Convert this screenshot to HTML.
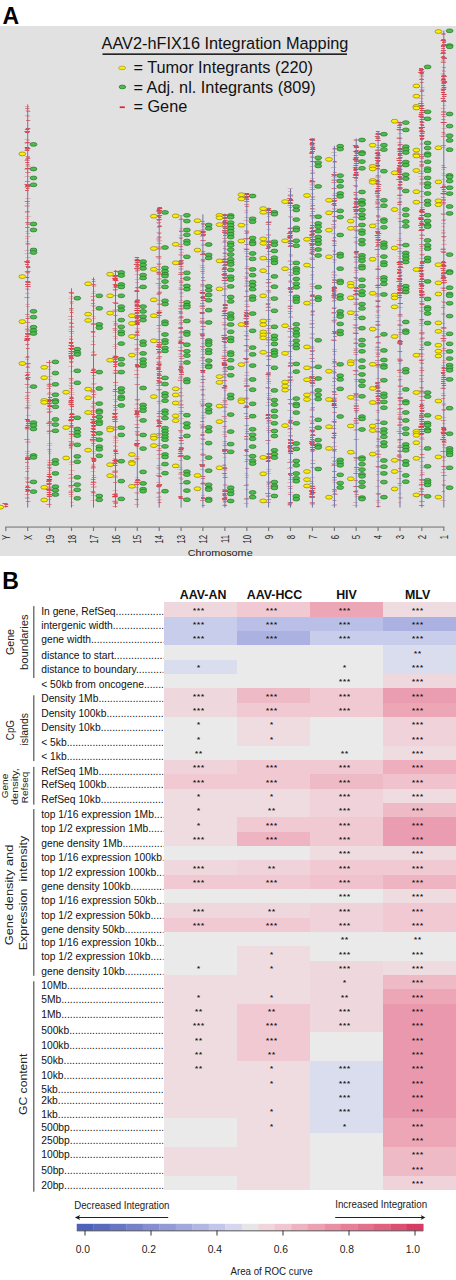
<!DOCTYPE html>
<html><head><meta charset="utf-8"><style>
html,body{margin:0;padding:0;background:#fff;width:456px;height:1280px;overflow:hidden}
svg{display:block}
</style></head><body>
<svg width="456" height="1280" viewBox="0 0 456 1280"><text x="2.6" y="23.6" style="font-family:'Liberation Sans',sans-serif;font-weight:bold;font-size:23px" fill="#000">A</text>
<rect x="0" y="26" width="456" height="530" fill="#e2e1e2"/>
<text x="101.6" y="48.8" style="font-family:'Liberation Sans',sans-serif;font-size:16.3px" fill="#111">AAV2-hFIX16 Integration Mapping</text>
<rect x="102.5" y="53.4" width="244.5" height="1.5" fill="#111"/>
<ellipse cx="122.1" cy="67.9" rx="3.6" ry="1.75" fill="#f8ee00" stroke="#9a8a10" stroke-width="0.6"/>
<text x="133.4" y="73.4" style="font-family:'Liberation Sans',sans-serif;font-size:16.3px" fill="#111">= Tumor Integrants (220)</text>
<ellipse cx="122.4" cy="86.95" rx="3.3" ry="1.9" fill="#4cbb4c" stroke="#2a6e2a" stroke-width="0.7"/>
<text x="133.4" y="92.6" style="font-family:'Liberation Sans',sans-serif;font-size:16.3px" fill="#111">= Adj. nl. Integrants (809)</text>
<rect x="119.7" y="106.4" width="5.1" height="1.7" fill="#e0202e"/>
<text x="133.4" y="112.0" style="font-family:'Liberation Sans',sans-serif;font-size:16.3px" fill="#111">= Gene</text>
<path d="M4.0 504.5h4.5M2.9 506.5h4.6M24.7 106.5h4.7M25.4 108.5h3.3M25.2 110.5h4.7M24.8 115.5h4.9M26.3 116.5h3.4M26.3 120.5h3.7M24.8 129.5h4.2M25.0 132.5h3.8M24.5 139.5h5.0M26.3 140.5h3.3M24.6 142.5h4.7M24.5 143.5h5.3M26.0 148.5h3.8M25.2 149.5h3.4M25.0 149.5h4.6M25.4 158.5h5.5M26.2 164.5h3.9M25.5 164.5h3.8M25.6 165.5h4.1M25.6 166.5h5.3M24.7 168.5h4.6M24.1 169.5h5.6M24.6 176.5h5.4M25.5 185.5h4.6M24.6 187.5h4.7M25.2 198.5h5.3M24.3 201.5h5.0M26.0 203.5h3.8M24.5 205.5h5.4M24.7 206.5h4.8M24.7 212.5h4.8M25.4 216.5h5.4M25.0 218.5h4.0M25.7 222.5h3.6M25.6 223.5h4.2M25.7 224.5h5.2M26.5 224.5h3.3M25.7 227.5h3.5M25.1 231.5h3.8M25.6 233.5h4.3M25.1 236.5h5.5M25.0 238.5h3.6M25.4 241.5h3.6M25.6 244.5h5.1M24.5 250.5h4.9M24.7 253.5h5.4M25.7 257.5h5.1M25.4 271.5h5.4M26.4 273.5h3.3M25.8 281.5h4.9M25.4 288.5h3.4M25.3 289.5h4.9M25.0 293.5h4.5M25.4 304.5h4.5M25.5 306.5h4.4M25.6 316.5h4.4M24.8 318.5h4.3M24.8 322.5h5.4M25.8 322.5h4.7M25.5 326.5h3.3M25.3 328.5h4.0M24.5 329.5h5.0M25.8 329.5h3.7M25.5 330.5h4.2M25.4 331.5h4.7M25.8 335.5h4.7M25.6 338.5h5.1M26.3 344.5h3.4M25.7 348.5h3.5M24.7 357.5h4.8M26.0 357.5h3.3M25.3 359.5h3.6M25.4 363.5h5.6M25.4 364.5h4.3M25.8 367.5h4.3M25.8 367.5h3.6M25.6 375.5h4.2M25.5 387.5h5.1M25.8 395.5h4.2M24.7 396.5h4.3M25.8 400.5h4.0M26.2 402.5h4.1M25.8 405.5h5.0M24.7 407.5h5.0M25.5 407.5h3.7M24.9 408.5h5.4M26.0 415.5h4.6M24.3 419.5h5.4M25.5 419.5h4.4M25.5 426.5h4.2M25.8 427.5h3.9M24.8 428.5h4.9M25.2 429.5h5.4M26.1 441.5h4.3M25.2 442.5h5.4M25.1 451.5h5.2M25.0 453.5h4.3M25.7 455.5h3.5M25.8 456.5h3.8M25.0 466.5h4.7M25.4 468.5h4.6M24.2 477.5h5.3M25.6 478.5h4.2M25.2 479.5h3.4M25.0 481.5h4.7M26.3 482.5h3.5M25.6 485.5h3.7M25.9 491.5h3.4M26.0 494.5h3.9M24.5 494.5h4.8M24.8 497.5h4.9M24.9 498.5h4.9M46.3 362.5h5.6M46.2 366.5h5.2M47.7 369.5h3.4M47.7 376.5h4.6M48.0 379.5h4.2M47.7 383.5h3.7M46.6 384.5h5.2M46.4 385.5h4.8M47.2 386.5h5.5M47.7 386.5h4.1M47.8 392.5h3.7M46.9 393.5h4.5M46.7 394.5h4.8M48.1 397.5h4.0M47.9 400.5h4.0M47.9 400.5h4.2M47.1 401.5h3.7M48.4 402.5h3.4M47.3 404.5h4.0M46.4 408.5h4.7M46.5 409.5h4.8M47.4 411.5h5.1M47.5 411.5h5.0M46.9 422.5h5.5M47.7 422.5h3.8M46.5 423.5h5.4M47.3 425.5h4.5M47.1 430.5h5.6M47.7 431.5h4.6M47.1 433.5h3.4M47.0 443.5h5.5M46.8 445.5h5.0M47.4 449.5h3.2M47.5 449.5h4.1M47.6 451.5h3.8M48.1 453.5h3.3M47.1 460.5h4.6M47.5 470.5h4.6M47.2 472.5h3.4M46.7 474.5h4.2M47.3 476.5h3.8M46.3 479.5h5.1M47.5 486.5h3.2M47.6 488.5h4.1M46.5 488.5h5.4M46.6 494.5h5.5M47.3 495.5h5.4M47.4 499.5h4.0M46.2 504.5h5.6M46.1 504.5h5.3M68.3 292.5h5.1M69.5 296.5h3.8M68.5 298.5h4.4M69.6 301.5h4.6M69.7 302.5h3.2M69.9 303.5h3.8M69.3 309.5h3.6M69.0 310.5h4.7M70.1 312.5h3.4M69.5 316.5h3.3M67.9 316.5h5.5M68.0 319.5h5.6M69.0 323.5h4.1M69.1 326.5h3.8M69.8 326.5h4.3M68.7 327.5h5.6M68.3 329.5h4.8M69.8 333.5h4.1M69.3 336.5h3.7M69.1 338.5h3.6M68.3 342.5h5.3M68.7 342.5h4.9M69.2 342.5h3.6M68.5 348.5h4.9M67.9 351.5h5.4M70.2 352.5h3.4M68.5 355.5h4.4M69.2 356.5h3.3M69.3 356.5h3.9M69.1 359.5h3.6M69.2 362.5h3.9M69.9 362.5h3.3M68.3 366.5h5.5M69.8 371.5h3.7M68.3 378.5h5.3M69.1 378.5h4.2M69.4 379.5h4.0M69.2 380.5h4.2M68.9 382.5h3.8M68.2 385.5h4.9M69.5 386.5h3.4M69.0 388.5h4.6M69.7 390.5h3.8M69.7 392.5h4.7M69.0 394.5h5.5M69.1 396.5h4.2M69.6 400.5h3.5M68.1 401.5h5.5M68.5 401.5h4.8M68.9 403.5h4.1M69.3 405.5h4.5M68.3 409.5h5.5M69.7 414.5h4.0M69.1 417.5h5.5M69.3 419.5h4.4M68.9 420.5h5.0M68.9 420.5h4.0M69.0 421.5h3.4M69.2 433.5h5.2M68.5 434.5h4.8M68.8 434.5h4.9M69.4 436.5h5.4M68.9 438.5h3.5M68.0 441.5h5.6M69.1 441.5h4.5M69.3 442.5h5.1M68.6 445.5h4.4M68.5 445.5h4.6M69.5 446.5h3.7M69.2 448.5h3.4M70.1 461.5h3.7M68.6 462.5h5.1M69.1 464.5h4.8M69.5 470.5h5.3M68.4 474.5h4.9M69.0 474.5h3.5M69.4 477.5h3.9M67.9 478.5h5.5M69.2 481.5h5.1M67.9 486.5h5.4M69.1 487.5h4.1M69.5 490.5h4.1M68.4 491.5h5.4M68.4 494.5h4.8M69.2 494.5h4.0M69.0 496.5h4.2M70.1 502.5h3.7M70.4 505.5h3.5M90.7 284.5h4.1M91.2 285.5h5.3M91.8 286.5h4.1M92.4 291.5h3.4M91.0 293.5h5.3M90.5 296.5h4.2M90.7 296.5h4.7M91.0 299.5h3.6M90.7 305.5h5.0M91.8 306.5h3.6M91.2 310.5h4.2M91.6 316.5h4.0M92.0 318.5h3.9M91.0 324.5h5.0M90.9 324.5h4.2M91.7 331.5h3.9M91.1 336.5h4.6M91.4 341.5h3.4M91.9 351.5h3.3M90.9 352.5h4.3M91.6 368.5h3.4M92.2 371.5h3.7M91.8 372.5h3.6M91.6 378.5h3.5M91.2 383.5h5.5M91.2 384.5h4.5M91.4 387.5h3.9M91.0 389.5h3.5M90.4 390.5h5.1M91.4 390.5h3.7M90.6 392.5h5.5M91.4 394.5h5.3M91.6 396.5h3.6M92.1 397.5h3.9M91.6 401.5h3.3M92.2 402.5h3.5M91.8 405.5h4.4M90.5 406.5h5.0M91.0 407.5h4.3M92.2 408.5h3.3M90.9 410.5h4.5M91.0 410.5h4.1M90.8 411.5h5.0M89.9 412.5h5.5M91.5 419.5h4.1M91.2 420.5h4.7M91.5 421.5h4.4M90.6 423.5h5.3M92.1 429.5h3.3M91.7 431.5h4.5M91.0 431.5h5.4M90.7 431.5h5.0M90.7 441.5h5.0M92.1 443.5h3.5M91.0 445.5h3.5M91.7 451.5h4.5M91.6 453.5h4.5M90.5 457.5h4.3M91.6 458.5h4.8M91.7 461.5h4.1M91.7 464.5h3.6M91.3 465.5h3.6M90.5 468.5h4.9M90.7 471.5h4.6M91.6 475.5h4.1M91.9 479.5h3.9M91.1 481.5h4.6M90.4 482.5h5.1M91.3 486.5h5.4M90.9 487.5h5.5M90.5 491.5h4.9M90.7 491.5h4.5M91.6 492.5h3.5M91.3 493.5h5.3M90.9 495.5h5.0M90.5 500.5h5.1M114.2 270.5h3.3M113.0 275.5h4.2M112.5 275.5h5.0M113.6 277.5h4.0M112.2 278.5h5.3M113.6 278.5h4.3M112.6 279.5h4.8M112.2 280.5h5.3M113.7 280.5h4.0M112.6 287.5h5.1M113.0 290.5h4.4M113.6 303.5h4.9M113.0 309.5h4.3M112.0 310.5h5.5M113.4 311.5h3.3M113.2 311.5h4.5M113.8 315.5h4.5M112.6 321.5h4.4M113.5 324.5h4.6M113.3 325.5h5.5M112.6 328.5h4.2M112.4 328.5h5.0M112.8 329.5h5.1M112.8 330.5h3.6M113.6 330.5h3.8M112.7 332.5h4.7M112.9 336.5h4.6M114.0 338.5h4.0M113.3 344.5h5.2M112.3 346.5h5.6M113.6 348.5h3.8M112.8 355.5h3.9M112.5 357.5h4.1M113.3 358.5h4.6M113.1 358.5h4.4M113.3 366.5h3.9M112.7 370.5h5.4M112.6 372.5h5.5M112.7 373.5h5.2M113.2 385.5h5.1M113.3 391.5h5.4M112.9 395.5h3.9M112.8 399.5h5.6M113.0 407.5h4.4M114.0 407.5h3.6M113.1 409.5h5.1M113.0 410.5h3.9M114.1 418.5h3.9M112.6 426.5h5.1M113.5 429.5h4.3M112.7 429.5h4.6M113.5 430.5h3.3M112.9 436.5h4.7M113.9 437.5h4.3M113.3 438.5h4.8M113.2 440.5h5.5M112.6 442.5h5.6M113.2 445.5h3.3M113.2 446.5h4.9M113.3 449.5h4.8M113.0 455.5h3.3M112.7 458.5h4.3M112.7 460.5h5.0M113.6 463.5h3.3M113.2 463.5h4.1M112.7 470.5h5.2M112.0 471.5h5.6M112.7 471.5h5.3M113.0 475.5h4.3M113.6 476.5h4.0M112.8 477.5h5.1M112.7 490.5h5.1M112.9 496.5h4.8M112.2 497.5h4.9M113.6 500.5h3.8M134.2 259.5h4.6M134.7 260.5h3.4M135.5 260.5h3.9M134.7 261.5h4.3M134.7 262.5h4.1M135.2 263.5h3.2M135.9 264.5h3.5M135.0 267.5h4.8M135.1 269.5h4.1M135.2 271.5h3.3M134.5 274.5h4.7M134.8 279.5h5.2M134.9 282.5h4.3M136.0 287.5h3.8M135.7 288.5h3.9M136.2 299.5h3.4M135.3 299.5h4.1M134.4 303.5h4.6M134.3 308.5h4.8M135.3 310.5h4.0M135.5 310.5h3.7M135.6 312.5h3.4M135.1 315.5h4.9M134.1 316.5h5.1M135.7 316.5h3.8M135.5 319.5h4.7M135.6 321.5h4.1M135.8 324.5h3.9M134.9 324.5h3.6M135.4 328.5h4.9M135.4 330.5h4.1M134.8 331.5h4.4M136.2 331.5h3.3M133.8 334.5h5.3M134.7 339.5h3.6M134.5 344.5h4.1M135.5 348.5h4.6M134.7 348.5h3.9M134.3 349.5h4.7M134.6 350.5h4.1M135.0 352.5h4.1M135.1 354.5h3.7M134.7 359.5h4.6M135.3 366.5h4.9M134.0 370.5h5.4M134.3 377.5h5.3M135.2 400.5h4.2M135.7 403.5h3.3M134.4 404.5h4.7M134.0 408.5h5.6M135.8 411.5h3.7M134.4 413.5h4.0M135.8 415.5h3.4M135.0 417.5h4.0M135.3 420.5h4.3M133.9 424.5h5.5M135.4 424.5h3.3M134.7 427.5h3.4M135.6 432.5h3.5M135.0 433.5h3.3M134.3 445.5h4.3M134.8 446.5h4.6M135.6 446.5h3.5M134.3 456.5h5.1M135.0 459.5h4.2M135.3 477.5h3.3M134.8 479.5h3.6M134.6 481.5h5.0M134.1 482.5h5.3M134.4 487.5h4.4M134.0 492.5h5.0M135.2 493.5h4.3M135.7 499.5h3.3M134.2 504.5h5.1M157.2 208.5h4.4M157.0 210.5h5.1M156.9 211.5h4.3M157.5 215.5h3.2M156.5 222.5h4.8M156.5 222.5h4.3M156.8 223.5h3.5M156.8 227.5h3.5M156.3 232.5h5.4M156.9 236.5h4.2M156.2 238.5h4.6M156.3 239.5h4.1M156.8 240.5h5.5M156.7 241.5h4.1M156.3 243.5h5.2M157.8 243.5h3.2M155.9 246.5h5.1M156.9 247.5h5.0M157.1 249.5h5.1M155.9 257.5h5.1M156.7 258.5h5.2M156.4 263.5h5.3M155.8 266.5h5.2M156.6 269.5h4.0M157.0 269.5h4.2M156.4 271.5h3.9M156.7 272.5h4.4M156.8 272.5h3.9M157.0 273.5h4.3M156.6 273.5h5.1M156.7 278.5h5.3M156.9 279.5h4.5M157.3 285.5h4.6M157.7 287.5h4.1M157.7 288.5h3.5M157.7 291.5h3.9M156.4 293.5h5.4M157.2 300.5h3.5M157.1 303.5h3.5M156.9 310.5h5.4M157.1 311.5h4.3M156.0 312.5h5.6M156.5 328.5h4.4M157.3 331.5h4.0M155.8 353.5h5.2M156.9 357.5h4.8M156.4 361.5h5.1M156.7 362.5h4.8M156.6 362.5h4.2M158.0 366.5h3.2M156.5 368.5h4.7M156.0 369.5h4.8M157.2 381.5h5.2M157.2 390.5h3.2M156.6 401.5h4.1M156.9 401.5h3.9M157.4 403.5h4.2M157.3 411.5h3.7M157.7 411.5h3.9M156.5 413.5h4.5M156.7 423.5h5.6M156.9 425.5h4.7M157.6 434.5h3.4M157.2 435.5h3.9M157.6 443.5h3.8M156.6 445.5h4.9M156.2 450.5h4.3M157.5 450.5h4.5M156.9 450.5h4.9M156.6 454.5h4.6M157.7 454.5h3.9M156.5 458.5h4.1M157.3 465.5h5.0M156.6 465.5h3.6M156.0 467.5h5.5M156.6 468.5h3.6M157.7 469.5h4.1M156.2 473.5h4.5M156.1 482.5h4.5M157.1 487.5h3.4M156.4 492.5h4.0M157.1 492.5h4.2M156.1 493.5h4.5M157.6 496.5h3.8M155.8 497.5h5.1M157.3 499.5h4.9M157.2 500.5h3.7M157.6 502.5h3.4M178.2 215.5h4.7M179.6 218.5h3.5M179.3 228.5h4.6M178.8 230.5h4.0M179.1 231.5h3.3M178.7 235.5h4.5M178.6 237.5h4.8M179.1 244.5h3.9M179.6 246.5h3.6M178.6 246.5h3.9M178.2 246.5h4.5M178.6 249.5h4.7M179.1 249.5h4.3M179.4 252.5h4.6M178.1 254.5h5.0M178.8 255.5h5.0M178.3 264.5h4.1M178.6 268.5h5.0M178.6 269.5h4.8M179.2 273.5h3.6M179.5 274.5h4.4M178.5 280.5h4.7M179.4 281.5h4.3M179.6 284.5h4.0M179.2 285.5h4.5M178.4 287.5h4.4M178.7 288.5h4.3M179.8 292.5h3.8M179.4 293.5h3.8M179.6 296.5h3.8M178.7 300.5h4.3M180.0 305.5h3.4M178.0 305.5h5.2M179.3 306.5h4.4M178.7 306.5h3.2M178.5 309.5h5.4M178.0 313.5h4.6M179.0 313.5h4.4M178.1 317.5h5.6M179.5 317.5h3.4M179.3 317.5h3.4M178.3 318.5h5.0M178.3 320.5h5.6M177.8 323.5h5.1M179.2 324.5h3.6M178.4 332.5h5.0M179.2 332.5h4.8M178.5 333.5h4.5M179.3 336.5h3.2M178.1 337.5h5.0M178.5 337.5h4.6M178.5 339.5h5.1M177.9 342.5h5.0M178.5 342.5h3.7M178.0 347.5h5.5M179.2 351.5h4.4M178.5 353.5h3.6M178.6 354.5h4.6M178.6 361.5h4.9M178.2 361.5h4.8M178.5 363.5h4.7M179.1 364.5h4.9M178.7 365.5h4.3M178.7 376.5h4.3M178.2 377.5h5.2M178.2 378.5h4.1M178.1 388.5h5.1M178.9 395.5h5.2M179.1 396.5h3.4M179.3 400.5h3.9M179.4 401.5h3.3M177.8 405.5h5.3M179.3 407.5h4.6M178.2 407.5h5.5M179.1 411.5h4.7M178.7 411.5h4.3M178.8 413.5h3.6M179.1 413.5h4.5M178.9 418.5h4.7M179.5 423.5h4.0M178.7 431.5h4.1M179.0 432.5h3.6M179.2 435.5h4.0M178.1 449.5h5.4M178.7 449.5h4.1M177.8 449.5h5.0M178.5 450.5h5.2M179.2 453.5h3.8M178.5 460.5h4.3M178.5 467.5h4.0M177.6 469.5h5.5M179.0 472.5h4.4M178.8 472.5h3.3M178.4 473.5h3.9M177.9 474.5h5.0M178.7 477.5h3.4M178.4 478.5h5.1M179.8 479.5h3.3M179.1 483.5h3.5M201.4 226.5h3.5M200.6 229.5h4.7M199.7 230.5h5.0M200.3 231.5h5.2M199.5 232.5h5.0M199.3 233.5h5.5M199.9 236.5h5.0M200.6 240.5h5.5M201.3 244.5h4.4M200.8 245.5h4.7M201.3 252.5h3.3M200.3 260.5h4.8M201.1 260.5h4.1M199.6 265.5h5.1M201.3 267.5h3.9M199.9 267.5h4.3M200.5 269.5h4.7M200.2 271.5h4.5M200.4 271.5h4.4M201.0 273.5h3.9M200.4 284.5h4.1M200.3 284.5h3.6M200.5 285.5h5.4M200.1 286.5h4.0M200.8 292.5h4.3M201.0 297.5h4.0M200.4 305.5h5.1M200.4 305.5h3.5M201.7 306.5h3.4M200.3 308.5h4.6M200.1 308.5h4.9M200.9 312.5h3.4M200.0 318.5h4.7M199.9 318.5h4.4M200.1 320.5h4.5M200.6 322.5h3.6M199.6 322.5h5.4M201.3 322.5h4.3M200.7 323.5h4.5M200.0 323.5h4.6M200.9 326.5h3.9M200.1 329.5h4.5M201.2 329.5h3.3M201.0 336.5h3.2M200.7 336.5h3.4M201.0 343.5h4.4M200.8 347.5h3.6M200.4 351.5h5.4M200.9 354.5h4.9M200.9 358.5h3.7M199.6 360.5h4.7M200.9 363.5h4.2M201.0 363.5h4.9M200.6 365.5h4.7M200.5 367.5h5.6M199.7 379.5h5.5M199.4 386.5h5.5M200.3 389.5h5.5M200.6 389.5h3.6M200.4 390.5h3.6M201.0 395.5h4.5M200.6 399.5h5.1M199.4 401.5h5.5M199.5 403.5h5.5M200.3 404.5h5.1M200.8 405.5h3.4M200.3 406.5h3.6M201.0 412.5h4.7M201.2 415.5h4.1M200.7 417.5h5.4M201.1 418.5h3.4M200.9 421.5h3.8M199.7 424.5h4.9M199.9 425.5h4.5M200.4 428.5h3.7M201.1 432.5h4.3M200.2 434.5h4.3M201.0 435.5h3.7M199.5 438.5h5.3M200.4 443.5h3.2M200.9 444.5h3.2M200.6 449.5h3.7M200.9 453.5h3.5M200.7 455.5h5.5M201.2 455.5h3.3M200.4 460.5h5.6M199.7 469.5h4.7M200.6 476.5h5.1M201.2 482.5h4.1M200.1 483.5h4.0M200.5 483.5h5.5M201.2 483.5h3.8M200.8 483.5h4.2M200.8 484.5h4.5M201.2 495.5h3.8M222.8 215.5h3.4M221.9 217.5h4.3M222.4 222.5h3.9M222.4 222.5h3.4M222.6 238.5h4.7M222.4 238.5h4.0M223.0 240.5h4.7M221.7 242.5h5.1M223.1 246.5h3.9M223.6 249.5h3.9M222.8 252.5h4.4M222.4 253.5h3.9M222.7 256.5h4.8M223.2 258.5h3.2M222.8 258.5h3.5M221.5 268.5h5.4M222.6 273.5h3.2M222.6 280.5h5.4M222.5 286.5h5.1M222.1 288.5h5.4M222.4 289.5h5.3M223.8 300.5h3.2M222.9 304.5h3.2M222.8 305.5h4.8M222.7 310.5h3.5M222.7 315.5h5.0M222.6 318.5h5.2M222.8 318.5h4.9M221.7 322.5h5.0M222.8 325.5h5.2M223.1 328.5h4.5M223.4 329.5h3.8M223.7 334.5h3.3M221.7 337.5h5.5M223.6 338.5h3.4M222.6 342.5h3.3M222.4 345.5h3.3M222.7 347.5h5.2M223.1 350.5h4.1M222.5 350.5h4.3M222.2 352.5h4.9M221.9 355.5h4.8M222.0 365.5h5.5M221.9 368.5h4.7M222.7 369.5h4.8M223.5 370.5h3.8M222.8 373.5h3.5M222.5 376.5h3.6M222.6 377.5h4.2M221.8 380.5h4.6M222.4 388.5h5.0M221.8 388.5h5.0M223.4 390.5h3.8M223.1 398.5h3.3M223.1 401.5h4.1M221.6 402.5h5.4M222.2 406.5h4.4M222.6 411.5h4.5M223.1 418.5h4.1M223.0 428.5h3.4M222.6 431.5h3.6M223.0 432.5h4.6M222.1 434.5h5.0M223.7 441.5h3.4M222.2 441.5h4.7M222.6 443.5h4.5M222.8 449.5h4.3M222.9 450.5h4.3M222.8 457.5h3.9M222.6 464.5h3.6M221.7 467.5h4.9M223.6 468.5h3.8M222.6 468.5h3.8M222.7 469.5h3.9M222.6 470.5h4.4M222.7 473.5h3.9M221.8 473.5h5.3M222.9 475.5h3.5M222.8 477.5h4.3M223.1 484.5h4.4M222.8 485.5h4.9M223.3 496.5h3.8M222.8 497.5h3.9M223.0 499.5h4.2M222.5 500.5h3.7M222.8 502.5h3.9M223.2 504.5h3.3M221.7 505.5h5.6M243.9 194.5h5.0M245.2 194.5h4.2M245.0 197.5h4.0M244.8 201.5h4.8M245.0 206.5h4.3M244.4 210.5h4.0M244.2 212.5h3.9M244.2 217.5h5.6M243.4 220.5h5.4M245.1 224.5h3.2M243.9 230.5h4.7M244.3 231.5h4.5M245.1 231.5h4.1M244.4 238.5h5.5M245.2 239.5h3.3M245.1 244.5h3.6M243.4 248.5h5.4M243.9 249.5h4.5M243.5 251.5h5.6M244.5 253.5h5.0M245.0 259.5h4.5M245.2 266.5h4.3M245.1 272.5h3.6M243.7 276.5h4.6M244.8 277.5h3.4M244.7 280.5h3.8M244.4 283.5h5.5M244.0 285.5h4.9M244.3 286.5h5.2M245.0 290.5h3.3M243.8 296.5h4.4M244.4 296.5h3.5M243.8 296.5h5.2M244.8 300.5h3.6M244.0 301.5h5.4M244.4 304.5h4.4M244.7 310.5h4.8M243.9 310.5h5.2M243.7 316.5h4.8M244.7 319.5h3.6M243.7 322.5h4.4M243.8 322.5h4.7M244.4 323.5h5.0M244.8 324.5h3.9M245.1 324.5h3.6M244.2 326.5h3.6M243.7 331.5h4.5M245.3 333.5h3.7M245.3 336.5h3.5M244.3 339.5h5.2M244.6 339.5h5.2M244.2 345.5h4.0M245.7 346.5h3.3M245.3 349.5h4.0M244.2 350.5h5.0M244.3 351.5h5.1M244.9 361.5h4.3M244.6 372.5h4.7M244.0 375.5h5.3M244.1 378.5h3.8M244.8 379.5h4.7M244.0 380.5h4.2M243.6 381.5h4.8M243.9 383.5h4.5M244.6 385.5h5.5M244.1 385.5h4.5M244.5 385.5h4.9M243.9 386.5h5.6M244.2 386.5h5.5M243.8 386.5h4.2M244.5 390.5h3.5M244.7 397.5h3.6M243.7 398.5h4.6M243.8 398.5h5.6M244.2 399.5h3.9M244.2 402.5h4.0M245.6 418.5h3.6M244.6 418.5h3.2M245.2 425.5h3.5M243.7 425.5h5.4M244.6 429.5h4.5M244.1 438.5h3.7M243.4 455.5h5.5M244.5 455.5h4.3M244.4 473.5h3.5M244.9 475.5h4.1M244.6 477.5h3.9M245.2 484.5h3.7M245.1 489.5h3.7M243.7 499.5h5.4M243.7 503.5h5.0M266.8 209.5h3.7M265.5 210.5h5.1M267.2 210.5h3.8M265.9 213.5h4.4M266.5 214.5h3.9M266.7 216.5h3.5M266.4 221.5h5.3M265.3 222.5h5.2M266.1 222.5h5.2M266.5 229.5h4.1M265.7 234.5h5.2M266.3 235.5h4.8M265.3 237.5h4.8M266.4 240.5h5.0M266.2 246.5h3.7M267.6 251.5h3.3M265.5 254.5h5.3M265.6 259.5h5.4M265.9 261.5h4.1M266.3 266.5h4.5M266.3 266.5h3.8M266.3 279.5h3.8M266.8 279.5h3.4M265.9 279.5h5.1M265.2 282.5h5.0M266.2 283.5h3.5M265.9 286.5h5.1M265.5 290.5h4.6M267.0 290.5h4.3M266.4 291.5h4.6M266.9 292.5h4.4M266.8 297.5h4.5M266.4 299.5h3.3M267.0 300.5h4.4M266.7 304.5h3.3M266.6 306.5h3.9M265.2 319.5h5.2M266.6 319.5h4.8M266.5 321.5h4.5M266.6 325.5h3.6M266.8 325.5h4.5M266.1 330.5h4.6M266.9 332.5h4.0M265.6 337.5h4.9M266.8 337.5h3.4M265.9 340.5h4.4M266.2 342.5h3.5M265.3 345.5h5.5M265.9 355.5h5.5M266.9 356.5h3.9M265.5 356.5h5.3M266.9 359.5h3.5M266.0 359.5h5.5M267.1 373.5h3.7M265.8 374.5h4.5M265.4 374.5h4.8M265.6 374.5h4.9M267.0 375.5h3.9M266.0 376.5h4.4M266.1 378.5h3.3M266.9 379.5h3.8M266.1 383.5h4.9M265.6 388.5h5.5M266.1 393.5h5.4M266.6 395.5h5.0M266.3 397.5h4.5M267.3 398.5h3.8M267.1 399.5h3.7M266.1 402.5h4.9M265.3 405.5h5.3M266.3 415.5h5.3M267.1 420.5h3.6M266.4 421.5h5.1M266.8 422.5h4.9M266.1 423.5h3.8M266.9 426.5h3.7M266.1 428.5h4.5M267.2 432.5h3.6M265.1 440.5h5.5M266.0 440.5h4.8M265.5 440.5h4.6M266.0 443.5h3.7M266.8 453.5h3.6M267.0 457.5h3.3M266.3 469.5h5.1M266.2 471.5h4.5M266.8 473.5h4.1M266.2 481.5h5.4M266.0 484.5h4.6M266.6 486.5h4.9M267.0 488.5h4.3M266.4 493.5h4.4M265.8 495.5h4.9M266.4 502.5h4.2M265.1 502.5h5.4M287.7 188.5h5.1M288.0 191.5h3.8M287.8 194.5h5.0M288.4 196.5h4.6M288.9 199.5h3.9M288.6 200.5h3.7M288.3 203.5h4.8M287.8 203.5h4.5M289.0 210.5h3.9M287.9 216.5h5.2M288.9 217.5h4.0M288.3 227.5h4.0M288.6 231.5h3.6M287.4 235.5h5.1M288.2 235.5h4.8M287.6 238.5h5.3M287.8 242.5h4.0M288.2 243.5h4.3M289.3 243.5h3.2M288.7 254.5h3.8M289.2 255.5h3.9M289.2 256.5h3.4M288.1 260.5h3.8M287.4 261.5h5.5M287.5 272.5h4.6M288.6 274.5h4.4M288.3 280.5h3.8M288.3 282.5h5.3M286.8 288.5h5.5M288.2 295.5h3.9M288.2 300.5h4.6M288.2 305.5h4.4M287.8 306.5h5.5M287.3 306.5h4.7M287.9 306.5h4.1M287.6 308.5h5.2M288.1 311.5h4.1M287.6 311.5h5.4M288.9 316.5h4.0M288.3 317.5h5.1M288.1 326.5h3.7M288.3 329.5h4.1M287.9 336.5h4.4M287.6 337.5h5.2M288.5 343.5h3.9M288.7 346.5h3.8M287.6 351.5h4.3M287.8 351.5h4.5M289.2 359.5h3.7M287.9 365.5h3.8M289.0 365.5h4.0M288.3 372.5h3.7M288.3 373.5h4.6M287.6 376.5h5.2M287.5 376.5h4.7M288.3 377.5h4.9M287.4 379.5h5.2M288.6 379.5h4.1M288.1 380.5h5.6M287.1 380.5h5.2M288.4 382.5h4.2M287.0 385.5h5.2M287.1 399.5h5.6M288.4 403.5h3.6M288.2 403.5h3.3M288.3 403.5h5.5M288.6 404.5h4.5M287.3 410.5h5.5M289.1 417.5h3.9M288.5 419.5h3.4M287.4 420.5h5.5M288.1 426.5h4.0M287.9 428.5h3.7M287.2 429.5h5.4M287.8 432.5h3.9M289.0 435.5h4.0M287.9 435.5h4.4M288.5 436.5h4.4M287.8 445.5h4.7M288.6 446.5h3.4M288.4 450.5h4.9M287.5 451.5h5.1M288.0 451.5h4.6M288.2 451.5h5.4M288.1 452.5h4.0M288.5 459.5h3.2M288.7 461.5h4.0M287.1 468.5h5.4M288.7 477.5h4.5M287.4 482.5h5.0M287.4 486.5h5.0M287.8 486.5h5.5M287.8 492.5h5.6M287.3 502.5h5.2M288.1 502.5h5.1M288.7 503.5h4.0M287.7 503.5h4.3M287.9 503.5h3.7M288.1 504.5h3.5M287.6 505.5h4.3M310.2 143.5h3.9M310.1 145.5h4.1M310.3 145.5h4.6M310.1 146.5h4.7M309.9 149.5h5.5M310.0 156.5h4.6M309.9 157.5h4.1M310.6 157.5h3.4M310.5 161.5h4.8M309.7 166.5h3.5M310.4 170.5h4.0M310.5 172.5h4.7M310.2 173.5h4.9M310.2 173.5h3.3M310.1 178.5h4.6M309.4 182.5h5.5M311.0 183.5h3.8M309.6 184.5h5.4M310.6 185.5h4.1M309.3 187.5h5.5M310.8 193.5h3.3M310.2 196.5h5.1M310.3 199.5h4.5M309.9 199.5h5.5M310.0 201.5h3.7M309.3 203.5h5.2M310.7 205.5h3.9M309.8 206.5h3.5M310.3 208.5h5.0M310.4 209.5h5.0M309.5 213.5h4.4M309.8 215.5h4.8M309.5 216.5h4.3M311.0 217.5h3.9M311.1 218.5h3.4M310.1 222.5h4.0M310.8 225.5h3.4M310.2 225.5h4.8M310.4 236.5h4.8M310.6 239.5h3.7M310.2 241.5h3.7M310.5 241.5h3.6M310.0 247.5h4.7M310.4 248.5h4.3M311.2 249.5h3.4M310.4 250.5h5.1M309.6 252.5h5.2M309.5 252.5h4.0M310.1 257.5h5.2M308.9 258.5h5.5M310.5 267.5h4.7M310.8 271.5h3.4M310.6 274.5h3.6M310.0 275.5h4.1M310.6 277.5h3.5M310.6 279.5h3.3M309.9 283.5h5.5M309.1 284.5h5.0M310.4 286.5h3.6M309.8 286.5h4.6M310.5 288.5h3.7M309.2 291.5h4.6M309.6 299.5h5.0M310.3 303.5h4.7M309.5 305.5h4.1M310.7 310.5h4.4M310.4 311.5h3.6M310.4 312.5h3.8M310.5 315.5h3.7M309.6 320.5h5.2M309.4 323.5h4.6M310.3 323.5h4.8M309.4 324.5h4.2M310.7 327.5h3.7M309.1 327.5h5.4M309.7 333.5h5.0M310.9 334.5h3.6M309.7 337.5h4.4M309.8 338.5h4.9M310.0 346.5h4.1M310.4 347.5h3.8M309.4 348.5h5.2M310.8 351.5h3.9M309.8 358.5h3.7M309.3 358.5h5.5M310.2 358.5h4.4M309.9 366.5h4.3M309.7 367.5h4.3M309.8 368.5h3.7M310.0 371.5h4.0M311.1 374.5h3.7M310.1 380.5h4.2M309.6 381.5h5.4M310.4 385.5h4.8M310.4 386.5h3.7M310.2 391.5h3.7M310.1 393.5h5.2M309.1 399.5h5.4M310.9 403.5h3.7M310.8 408.5h3.2M309.4 409.5h5.4M309.8 410.5h5.0M309.6 417.5h5.1M309.1 420.5h5.3M310.9 421.5h3.6M310.2 422.5h3.4M310.3 423.5h4.4M309.4 427.5h5.0M308.9 427.5h5.3M309.8 429.5h4.8M309.1 431.5h5.0M310.3 432.5h4.2M311.0 440.5h3.7M310.2 444.5h3.4M310.1 460.5h5.2M310.1 463.5h5.3M310.9 463.5h4.2M310.1 477.5h4.6M309.4 485.5h5.3M309.8 487.5h3.4M310.0 488.5h5.2M310.5 490.5h3.8M309.4 491.5h4.3M309.3 503.5h5.6M311.2 503.5h3.4M310.1 504.5h4.9M332.2 148.5h3.6M332.5 149.5h3.5M331.4 152.5h5.3M331.9 155.5h5.3M332.4 162.5h4.7M331.1 167.5h5.3M331.3 174.5h5.0M331.4 174.5h4.7M331.6 174.5h5.5M331.7 174.5h5.1M332.6 175.5h3.3M332.5 175.5h3.5M331.1 176.5h4.9M333.1 177.5h3.8M331.5 179.5h5.5M332.0 180.5h5.6M331.2 180.5h5.4M332.4 188.5h4.8M332.4 193.5h4.3M332.5 195.5h4.8M331.9 195.5h5.0M333.1 203.5h3.4M331.8 205.5h5.1M332.0 208.5h5.4M332.5 209.5h3.4M333.2 216.5h3.2M331.7 226.5h4.9M331.4 227.5h4.6M332.2 228.5h3.5M331.2 233.5h4.9M332.3 238.5h3.2M331.7 240.5h4.6M332.3 243.5h4.8M332.3 245.5h4.2M331.9 245.5h4.2M332.6 250.5h3.4M332.3 251.5h3.7M332.9 254.5h3.9M332.2 259.5h4.4M333.1 260.5h3.5M332.5 262.5h3.4M332.3 271.5h3.4M331.4 272.5h4.4M331.5 274.5h5.0M332.6 275.5h4.9M331.3 277.5h5.1M332.0 280.5h5.1M331.8 282.5h4.9M331.9 289.5h3.5M332.4 290.5h5.1M332.8 291.5h4.3M332.5 292.5h3.8M332.5 292.5h3.6M331.6 296.5h4.4M332.5 297.5h3.9M331.8 301.5h3.5M331.8 307.5h5.5M331.6 308.5h4.5M331.8 312.5h3.9M331.3 313.5h4.6M332.5 317.5h4.8M332.7 319.5h4.2M331.5 320.5h5.1M331.5 320.5h5.5M331.9 321.5h4.2M332.4 322.5h4.0M330.9 333.5h5.2M333.0 336.5h4.0M330.9 339.5h5.1M331.0 340.5h5.2M332.0 349.5h5.2M332.6 354.5h3.6M332.1 359.5h4.0M332.2 361.5h4.4M331.4 363.5h5.3M332.7 366.5h4.5M332.5 366.5h4.1M332.6 369.5h3.7M332.0 373.5h4.5M332.3 377.5h3.5M331.3 385.5h4.6M332.5 388.5h4.1M331.4 391.5h4.4M332.5 392.5h3.7M331.9 392.5h4.4M332.5 394.5h3.4M331.9 397.5h4.7M331.8 400.5h3.7M332.4 404.5h4.1M331.9 405.5h3.7M332.7 419.5h4.3M332.7 421.5h3.8M332.3 422.5h3.7M333.0 422.5h4.0M332.6 425.5h3.7M332.3 432.5h3.9M332.3 433.5h3.3M332.1 433.5h3.4M331.5 433.5h5.2M332.0 438.5h3.6M332.2 442.5h4.3M332.0 446.5h5.4M332.9 449.5h3.7M332.9 449.5h4.0M331.4 449.5h5.6M332.0 451.5h4.9M331.0 457.5h5.4M333.0 460.5h3.6M332.4 461.5h3.9M332.6 461.5h4.5M331.0 463.5h5.2M331.8 471.5h4.0M332.4 477.5h4.7M332.0 477.5h3.6M332.2 477.5h4.8M332.2 479.5h4.7M332.1 480.5h4.5M332.4 482.5h4.4M332.0 489.5h4.9M332.0 489.5h4.0M333.4 489.5h3.3M332.9 490.5h4.2M332.5 504.5h4.6M331.4 505.5h5.5M353.3 139.5h5.4M354.0 146.5h4.6M352.7 151.5h5.3M353.8 157.5h3.3M353.0 159.5h5.6M354.7 159.5h3.5M353.4 160.5h5.0M352.6 167.5h5.5M353.6 169.5h4.4M353.3 169.5h5.5M352.8 174.5h5.4M353.7 175.5h3.6M353.8 175.5h4.6M354.1 180.5h3.5M353.5 185.5h3.8M352.8 185.5h5.1M353.0 192.5h4.6M354.1 195.5h4.0M354.9 197.5h3.2M353.9 202.5h4.8M354.6 203.5h4.3M354.3 205.5h3.2M353.7 214.5h5.0M353.6 216.5h3.9M354.0 226.5h4.1M353.4 229.5h5.2M354.2 230.5h5.3M353.7 230.5h5.3M354.7 231.5h4.1M353.7 237.5h4.2M353.7 237.5h4.2M354.1 241.5h4.6M353.6 242.5h3.9M354.8 243.5h3.5M353.1 252.5h5.3M354.2 254.5h4.9M353.4 256.5h4.3M354.6 256.5h4.1M353.6 257.5h3.8M354.0 259.5h5.0M354.2 261.5h3.7M353.8 262.5h5.2M354.0 267.5h3.5M353.8 267.5h4.3M354.2 268.5h3.8M353.4 272.5h5.2M353.7 277.5h4.4M353.6 280.5h4.5M354.3 287.5h3.8M354.3 293.5h3.3M353.7 295.5h3.8M353.2 298.5h5.5M353.4 299.5h5.4M353.1 302.5h5.0M354.0 303.5h4.7M354.9 315.5h3.5M353.8 315.5h4.1M354.4 315.5h4.3M353.8 317.5h5.5M352.5 324.5h5.6M352.6 327.5h5.6M353.9 327.5h5.5M353.4 328.5h5.5M354.4 330.5h4.3M352.6 332.5h5.4M354.2 333.5h4.6M354.6 333.5h3.5M353.8 338.5h3.3M353.7 339.5h3.6M353.4 342.5h5.1M354.3 343.5h3.7M353.3 348.5h5.2M353.8 349.5h4.0M353.7 350.5h3.3M353.4 350.5h4.2M354.7 354.5h3.7M353.2 354.5h4.4M354.0 359.5h4.1M354.0 360.5h5.3M353.7 370.5h4.6M353.8 371.5h5.6M354.7 379.5h4.0M353.8 379.5h5.3M354.7 381.5h3.6M354.3 394.5h4.7M353.6 395.5h3.4M353.2 395.5h5.5M353.5 396.5h4.3M354.7 397.5h4.2M354.7 397.5h3.3M353.0 399.5h5.5M353.9 400.5h5.5M354.0 403.5h3.9M354.0 410.5h5.3M354.6 411.5h3.4M354.7 412.5h3.7M354.2 418.5h3.5M353.8 418.5h3.4M353.6 421.5h4.1M353.7 422.5h5.6M355.0 429.5h3.4M353.7 429.5h3.9M353.5 430.5h4.3M353.8 439.5h3.3M353.8 439.5h5.5M353.7 453.5h3.3M353.5 460.5h4.0M354.6 467.5h4.4M353.8 469.5h4.7M354.6 471.5h4.2M353.0 473.5h5.5M353.9 473.5h3.5M353.5 473.5h5.4M354.4 486.5h3.5M353.1 486.5h5.5M354.8 490.5h3.6M354.0 492.5h3.8M354.4 496.5h4.7M353.2 502.5h4.5M352.5 505.5h5.6M376.6 145.5h3.3M375.3 149.5h5.2M376.2 150.5h4.2M376.0 156.5h3.9M376.4 160.5h4.6M375.4 164.5h4.1M376.0 165.5h4.3M375.3 165.5h4.1M375.5 169.5h5.4M376.1 175.5h4.6M375.5 175.5h3.5M375.5 176.5h5.3M375.2 177.5h5.4M374.6 179.5h5.4M376.0 180.5h3.2M375.5 182.5h4.3M376.2 186.5h3.2M376.2 188.5h4.1M375.1 188.5h5.0M375.4 191.5h4.1M375.0 192.5h4.5M376.1 197.5h3.3M376.5 197.5h4.2M375.8 199.5h3.5M375.6 200.5h3.7M375.1 201.5h4.7M375.0 202.5h5.2M375.3 202.5h4.6M374.9 204.5h5.2M376.0 206.5h3.3M374.9 207.5h5.0M376.2 209.5h4.7M376.1 216.5h4.3M376.4 216.5h4.1M376.4 217.5h3.8M374.9 223.5h5.0M375.4 228.5h4.5M375.7 229.5h5.2M375.0 232.5h5.1M376.6 234.5h3.3M374.9 235.5h5.3M377.0 240.5h3.2M375.1 240.5h5.1M374.7 249.5h5.3M375.8 254.5h4.1M376.0 256.5h3.6M376.6 266.5h3.7M376.5 268.5h4.1M375.3 268.5h4.1M376.4 269.5h4.0M376.4 276.5h4.1M376.3 284.5h4.6M375.4 285.5h3.7M375.5 287.5h3.8M375.8 293.5h5.4M375.5 293.5h3.4M375.3 294.5h4.9M375.7 295.5h4.8M375.0 296.5h4.9M375.0 300.5h5.2M375.8 300.5h5.0M375.8 301.5h4.2M375.3 301.5h5.1M375.9 305.5h3.2M374.7 306.5h5.0M375.9 306.5h3.3M375.9 307.5h3.8M376.0 310.5h4.3M375.7 311.5h3.5M376.2 312.5h3.3M375.1 315.5h5.5M375.5 317.5h4.6M375.0 321.5h4.8M375.3 329.5h4.5M375.9 336.5h3.4M376.0 342.5h4.4M375.5 343.5h5.5M375.3 346.5h3.9M374.8 347.5h5.4M375.8 347.5h4.4M374.7 349.5h5.4M375.7 350.5h4.2M375.4 352.5h5.4M375.7 353.5h4.5M375.3 356.5h4.0M375.9 356.5h4.5M375.5 362.5h3.8M375.6 366.5h5.5M375.7 367.5h3.8M375.6 378.5h5.2M375.9 384.5h4.4M376.2 390.5h3.3M375.7 396.5h4.6M375.8 400.5h4.3M375.2 404.5h5.1M376.5 410.5h3.6M375.5 410.5h3.8M376.3 412.5h3.4M374.9 419.5h5.3M375.7 431.5h4.6M375.8 432.5h5.1M376.2 438.5h4.3M375.9 441.5h3.9M376.0 445.5h4.7M375.6 445.5h4.0M376.5 446.5h4.0M375.4 447.5h4.5M376.2 450.5h4.1M374.8 451.5h5.1M375.0 453.5h5.0M376.5 456.5h3.9M376.5 457.5h4.0M375.9 461.5h4.8M374.7 466.5h5.4M376.0 467.5h4.8M376.4 471.5h4.3M375.8 474.5h3.9M376.4 480.5h3.8M375.4 486.5h5.2M375.5 493.5h5.3M376.3 493.5h4.6M375.7 500.5h4.8M376.3 502.5h4.3M376.8 506.5h3.3M398.7 122.5h3.8M397.1 123.5h4.7M397.6 130.5h3.9M397.6 133.5h4.9M396.7 137.5h5.2M397.7 138.5h3.7M397.1 142.5h4.7M397.4 144.5h5.4M397.4 148.5h5.5M398.3 150.5h4.1M397.4 153.5h5.3M396.9 160.5h4.4M397.4 165.5h3.5M398.5 173.5h4.0M398.2 174.5h4.1M398.6 185.5h3.5M397.3 185.5h3.9M397.9 185.5h3.4M398.4 187.5h4.3M397.7 187.5h4.5M397.4 188.5h5.3M398.6 189.5h3.5M397.2 189.5h4.8M397.8 194.5h4.6M396.6 195.5h5.5M396.9 198.5h4.9M397.4 202.5h3.6M397.2 204.5h4.7M397.6 212.5h5.0M397.6 214.5h3.4M396.9 218.5h4.6M398.6 233.5h3.2M398.1 238.5h3.5M396.6 240.5h5.5M397.8 244.5h5.3M396.9 248.5h5.4M397.9 253.5h4.5M397.6 256.5h3.4M398.0 258.5h4.3M397.6 261.5h4.7M398.3 263.5h3.8M397.5 263.5h4.2M396.9 264.5h4.5M397.0 271.5h5.5M397.9 278.5h3.8M397.7 280.5h4.2M397.1 289.5h4.6M397.8 290.5h5.4M397.4 292.5h5.4M398.5 295.5h3.7M397.7 307.5h5.1M398.6 314.5h3.6M397.3 315.5h5.0M397.7 316.5h5.4M396.9 320.5h4.5M397.2 324.5h4.3M397.8 324.5h3.5M396.8 329.5h5.6M398.3 332.5h3.7M398.6 332.5h4.0M397.1 334.5h4.9M397.4 342.5h4.9M398.6 351.5h3.4M398.0 351.5h4.7M396.8 351.5h5.2M397.4 358.5h4.2M396.9 359.5h5.3M397.5 359.5h5.0M397.2 360.5h4.9M398.6 361.5h3.5M397.7 361.5h3.7M397.8 363.5h3.8M397.8 369.5h3.6M397.1 370.5h5.4M397.6 372.5h4.4M398.0 372.5h4.5M397.2 376.5h5.1M397.8 380.5h3.3M397.7 385.5h4.8M397.7 391.5h4.7M398.1 393.5h4.9M397.6 394.5h4.4M397.8 398.5h4.8M398.6 401.5h3.6M397.8 404.5h4.3M397.5 408.5h4.3M396.6 409.5h5.2M396.9 412.5h4.8M397.2 414.5h5.4M397.5 414.5h4.8M397.9 416.5h4.6M397.6 417.5h4.5M397.9 419.5h4.5M398.3 427.5h4.2M397.7 429.5h3.3M398.1 433.5h3.5M396.9 439.5h4.8M397.0 440.5h4.2M397.5 442.5h3.5M398.2 445.5h3.2M398.4 445.5h3.5M396.9 446.5h5.0M397.6 447.5h5.5M397.0 450.5h4.4M396.6 478.5h5.1M397.7 485.5h4.0M398.0 493.5h3.5M397.9 497.5h4.8M398.6 498.5h3.8M397.8 502.5h3.3M418.8 70.5h4.5M419.7 71.5h5.3M419.6 71.5h3.8M419.7 72.5h4.0M418.9 73.5h4.1M419.8 74.5h3.7M419.6 75.5h4.5M419.3 76.5h4.9M419.8 78.5h3.5M419.4 79.5h4.6M419.6 82.5h3.3M419.8 87.5h4.7M419.3 89.5h5.5M419.6 95.5h5.2M418.8 98.5h4.7M419.3 101.5h4.0M418.9 105.5h4.1M419.3 108.5h5.0M420.2 110.5h3.7M419.1 113.5h3.9M418.7 114.5h5.5M419.8 115.5h3.5M418.8 115.5h4.8M419.0 116.5h4.9M419.1 127.5h4.6M420.0 129.5h4.0M418.8 131.5h4.8M419.9 132.5h5.0M419.9 135.5h3.4M419.1 136.5h4.4M419.6 143.5h3.8M419.4 144.5h3.8M419.0 156.5h5.1M418.9 157.5h4.9M419.4 158.5h4.9M420.5 158.5h3.4M420.0 161.5h3.6M419.7 162.5h4.7M419.1 164.5h3.8M419.2 165.5h4.6M420.0 165.5h3.7M420.0 171.5h4.7M418.5 176.5h5.5M420.0 178.5h3.6M420.4 179.5h3.7M419.2 179.5h4.2M419.2 182.5h5.4M419.2 183.5h4.2M419.4 184.5h5.3M419.7 196.5h5.1M420.0 207.5h4.6M418.8 211.5h4.9M420.0 211.5h4.1M419.5 215.5h5.4M418.2 219.5h5.5M418.8 222.5h4.9M419.2 223.5h5.1M419.4 224.5h4.7M419.2 230.5h5.3M419.6 234.5h4.6M419.0 238.5h4.0M419.4 248.5h3.6M419.3 250.5h3.8M420.3 255.5h3.4M419.0 258.5h5.1M420.2 265.5h3.3M419.1 267.5h4.8M419.9 274.5h4.5M419.4 275.5h4.4M418.9 275.5h4.7M419.2 276.5h3.5M420.2 278.5h4.2M418.9 279.5h5.5M419.4 281.5h5.5M418.6 285.5h5.5M418.9 290.5h4.2M419.9 293.5h3.7M418.6 294.5h4.8M419.8 295.5h4.3M420.1 296.5h4.5M419.5 301.5h5.3M419.1 301.5h3.9M419.2 303.5h3.5M419.5 304.5h5.0M419.4 307.5h4.9M419.3 310.5h3.2M419.4 311.5h5.0M418.9 319.5h4.7M419.3 319.5h5.0M419.7 320.5h3.5M419.7 321.5h3.8M418.9 323.5h4.1M419.5 323.5h4.2M419.1 325.5h5.0M419.7 330.5h3.2M420.1 334.5h3.7M420.1 337.5h4.5M420.2 338.5h4.0M419.6 338.5h5.5M419.2 339.5h4.2M419.6 341.5h4.3M419.2 344.5h4.2M420.0 345.5h4.8M419.2 349.5h3.8M419.1 354.5h5.6M419.4 356.5h3.4M420.6 356.5h3.2M419.2 359.5h5.6M419.5 360.5h3.9M418.6 360.5h5.2M419.3 362.5h3.8M419.6 367.5h3.8M419.7 368.5h3.9M420.3 370.5h4.1M419.5 372.5h3.7M419.1 378.5h4.2M419.2 379.5h4.0M419.9 388.5h3.7M418.8 390.5h5.0M420.2 391.5h3.5M419.8 391.5h5.0M419.4 391.5h3.9M419.1 392.5h5.2M420.3 393.5h3.6M420.3 396.5h3.8M418.7 396.5h4.8M420.2 403.5h4.1M419.6 407.5h5.3M419.2 414.5h4.5M419.3 416.5h5.2M419.2 416.5h5.5M418.4 419.5h5.0M419.9 424.5h4.8M419.5 425.5h4.9M420.0 426.5h4.7M420.1 426.5h3.7M419.8 429.5h5.1M419.9 433.5h3.8M418.9 433.5h4.2M419.9 437.5h4.1M419.1 438.5h5.2M419.8 439.5h4.8M418.9 446.5h4.1M419.7 449.5h4.6M420.0 454.5h3.3M418.9 461.5h4.7M419.7 465.5h3.7M419.8 467.5h5.1M419.6 470.5h3.4M420.0 472.5h4.7M419.0 475.5h3.7M418.8 479.5h5.5M419.3 482.5h5.4M418.9 484.5h4.2M418.5 485.5h5.0M419.1 491.5h4.8M418.4 491.5h5.3M418.4 494.5h5.6M419.1 494.5h5.2M418.7 495.5h4.7M419.9 505.5h3.7M442.0 40.5h3.5M441.2 51.5h3.4M441.6 59.5h3.3M441.3 60.5h4.0M441.0 61.5h4.5M442.7 67.5h3.3M441.5 67.5h4.4M441.7 70.5h3.4M442.0 71.5h4.0M440.8 73.5h4.4M441.7 74.5h3.3M441.1 76.5h4.2M441.8 77.5h3.2M441.4 79.5h3.4M442.2 82.5h4.0M442.3 85.5h3.3M442.4 85.5h3.4M441.8 87.5h4.5M440.7 88.5h5.5M440.6 89.5h5.0M441.1 92.5h3.6M441.8 92.5h3.8M442.1 94.5h4.1M442.5 105.5h3.7M440.7 108.5h4.9M442.6 112.5h3.4M440.9 112.5h5.2M442.2 114.5h3.4M441.9 116.5h3.8M441.3 116.5h5.4M441.8 119.5h3.7M440.9 119.5h4.4M442.3 124.5h3.2M441.6 128.5h4.8M442.5 133.5h3.3M441.5 134.5h4.5M440.7 136.5h5.1M441.0 136.5h4.5M441.0 147.5h4.5M441.2 167.5h4.2M441.4 169.5h3.8M441.3 173.5h4.2M441.5 175.5h4.5M441.6 179.5h3.6M442.2 184.5h3.4M442.0 185.5h3.5M441.2 187.5h3.7M441.4 194.5h5.3M441.7 200.5h3.9M442.6 200.5h3.5M440.8 202.5h4.9M441.6 203.5h4.6M440.7 204.5h4.6M440.7 213.5h4.7M441.2 214.5h5.0M441.1 214.5h3.8M442.3 219.5h4.1M441.0 220.5h4.1M442.6 220.5h3.3M441.1 223.5h4.9M441.3 226.5h3.8M441.2 230.5h3.9M441.0 232.5h4.9M441.4 233.5h3.4M441.4 236.5h4.1M442.2 237.5h3.3M442.0 240.5h3.7M441.6 244.5h5.4M441.0 248.5h4.7M441.0 249.5h4.2M441.0 252.5h3.9M440.7 263.5h4.7M442.1 265.5h3.2M441.6 265.5h4.9M442.0 266.5h4.7M442.2 269.5h3.3M440.8 274.5h5.0M441.5 277.5h3.8M441.7 279.5h4.0M441.2 283.5h4.5M440.7 287.5h4.3M440.5 288.5h4.8M442.0 288.5h3.4M441.6 288.5h4.1M441.7 290.5h5.2M441.7 290.5h3.7M441.1 301.5h4.7M442.2 302.5h3.3M442.2 302.5h3.6M442.0 305.5h3.3M441.3 313.5h4.0M441.4 314.5h4.2M441.9 323.5h3.3M441.9 327.5h4.9M440.7 331.5h5.4M441.5 333.5h4.1M441.6 335.5h5.2M441.4 335.5h4.0M442.1 336.5h3.8M440.8 338.5h5.2M441.3 341.5h4.8M441.6 348.5h4.9M442.6 348.5h3.3M442.5 350.5h3.3M441.5 350.5h4.8M441.4 353.5h5.4M442.1 360.5h4.5M442.0 362.5h4.6M441.2 365.5h4.3M442.3 374.5h3.3M441.5 387.5h3.4M441.9 388.5h3.4M441.0 393.5h4.1M441.7 403.5h4.6M441.8 404.5h3.9M442.2 405.5h3.9M441.6 409.5h4.9M441.2 409.5h4.7M442.5 417.5h3.7M440.7 420.5h5.6M440.8 420.5h4.6M441.9 423.5h3.6M441.0 427.5h5.4M442.2 428.5h3.2M441.5 429.5h4.9M441.1 431.5h4.2M442.0 431.5h3.3M441.1 433.5h4.0M441.0 434.5h4.2M442.1 437.5h3.4M442.2 439.5h4.0M441.7 440.5h5.3M441.7 444.5h4.3M442.2 445.5h4.0M442.1 447.5h4.0M441.1 451.5h4.2M440.6 456.5h5.3M442.2 457.5h3.9M441.8 460.5h3.9M441.6 466.5h4.3M440.5 472.5h5.4M442.5 480.5h3.4M441.7 484.5h3.7M440.5 500.5h5.4" stroke="#e0202e" stroke-opacity="0.28" stroke-width="1" fill="none"/>
<path d="M25.3 108.5h4.3M26.4 111.5h3.9M26.2 120.5h4.1M24.9 142.5h4.3M26.3 142.5h3.8M24.6 147.5h4.7M25.5 156.5h4.4M26.4 157.5h3.6M26.1 158.5h3.7M25.1 159.5h3.4M24.7 160.5h4.9M25.1 162.5h3.9M25.8 162.5h3.7M25.2 168.5h5.4M25.2 168.5h4.7M25.2 172.5h5.4M24.8 181.5h5.3M25.2 201.5h4.6M25.1 211.5h4.8M25.2 222.5h5.2M25.0 227.5h4.6M25.5 243.5h4.4M26.0 260.5h3.7M24.7 262.5h4.9M24.8 271.5h5.5M25.5 272.5h4.3M25.5 277.5h3.6M25.8 277.5h3.6M24.4 297.5h5.4M25.2 314.5h4.4M26.1 318.5h4.2M24.4 339.5h5.4M25.4 344.5h3.5M26.0 348.5h3.7M25.8 356.5h3.5M24.8 363.5h5.5M26.2 366.5h3.2M25.3 372.5h5.1M24.6 384.5h5.1M25.2 392.5h5.3M24.8 398.5h4.7M26.0 419.5h3.4M25.4 428.5h3.3M24.2 439.5h5.5M26.1 459.5h4.5M25.1 462.5h3.8M25.3 471.5h3.7M25.9 482.5h4.0M25.7 489.5h4.1M25.7 490.5h4.5M24.9 491.5h4.1M25.9 501.5h4.6M46.2 362.5h5.0M47.4 384.5h3.9M46.6 388.5h4.3M48.0 400.5h3.4M47.5 403.5h4.8M47.7 406.5h4.9M46.7 412.5h4.4M47.6 421.5h4.4M46.1 423.5h5.5M46.5 431.5h5.2M47.4 462.5h4.9M47.2 464.5h5.6M47.4 465.5h4.2M47.1 467.5h4.5M48.1 468.5h3.3M48.4 476.5h3.4M46.7 479.5h5.3M47.1 479.5h5.0M48.4 487.5h3.4M69.0 292.5h4.8M69.6 293.5h4.3M69.1 308.5h4.6M69.8 312.5h3.6M69.3 322.5h3.3M70.5 323.5h3.3M68.8 331.5h5.3M69.3 339.5h3.9M68.4 348.5h5.4M68.5 356.5h4.9M69.1 361.5h4.2M69.7 383.5h3.6M69.5 388.5h3.3M68.5 400.5h5.3M69.5 423.5h3.5M70.1 425.5h3.6M69.5 425.5h3.8M68.5 426.5h4.9M69.7 427.5h4.0M68.9 431.5h4.6M69.7 434.5h4.6M69.4 443.5h4.7M69.0 444.5h4.9M69.0 445.5h3.6M69.0 447.5h3.3M69.2 485.5h5.2M68.5 485.5h5.5M68.4 492.5h5.0M91.7 279.5h3.4M91.9 281.5h3.8M91.7 284.5h4.5M91.0 300.5h3.5M90.9 303.5h4.1M90.9 323.5h4.8M90.7 331.5h4.2M91.0 332.5h4.2M90.7 344.5h4.8M91.3 354.5h5.5M91.0 355.5h5.2M91.4 372.5h3.5M91.9 375.5h3.8M90.1 391.5h5.2M92.0 394.5h3.6M91.5 403.5h4.8M91.1 422.5h3.8M92.4 425.5h3.4M91.8 426.5h4.0M90.0 440.5h5.4M91.3 443.5h3.5M91.4 466.5h4.1M91.0 467.5h4.6M91.8 477.5h4.5M90.8 479.5h4.4M91.0 482.5h5.5M90.4 484.5h4.7M91.4 492.5h3.9M113.4 271.5h4.6M114.1 271.5h3.4M112.5 284.5h4.5M113.4 284.5h3.7M113.9 285.5h4.1M114.0 287.5h3.5M112.8 289.5h5.0M113.1 295.5h3.5M112.4 302.5h5.4M113.5 303.5h4.8M113.4 315.5h3.4M113.8 323.5h3.9M113.1 356.5h4.5M114.0 370.5h3.8M114.0 373.5h3.7M112.9 382.5h5.4M113.0 389.5h3.9M112.9 389.5h4.4M112.4 391.5h4.8M114.2 401.5h3.3M112.8 405.5h5.3M112.4 413.5h5.5M112.5 427.5h4.4M113.6 451.5h3.5M112.3 462.5h4.7M112.3 472.5h5.3M113.0 482.5h4.3M113.7 493.5h3.9M112.9 496.5h5.0M112.1 501.5h5.6M113.5 502.5h4.6M113.4 503.5h4.6M112.7 506.5h4.6M134.5 260.5h5.6M135.8 265.5h3.9M135.3 270.5h4.5M135.0 287.5h5.6M134.3 301.5h5.5M134.4 310.5h5.0M135.3 316.5h3.6M135.3 323.5h3.6M135.5 332.5h3.6M134.9 332.5h4.4M134.8 334.5h3.8M134.7 335.5h5.2M134.0 339.5h4.9M135.2 365.5h3.5M135.6 367.5h3.9M134.1 374.5h5.0M134.6 384.5h5.4M134.8 399.5h5.2M134.8 413.5h4.0M135.2 416.5h4.9M135.1 427.5h4.6M134.8 431.5h4.8M135.6 434.5h3.5M135.7 435.5h3.5M135.0 440.5h4.5M134.1 443.5h5.5M134.4 458.5h5.1M134.6 499.5h4.0M156.9 210.5h3.3M156.3 211.5h5.1M157.0 220.5h3.4M158.2 225.5h3.2M157.7 226.5h3.6M157.0 226.5h5.0M157.4 233.5h3.8M157.2 237.5h4.3M157.0 248.5h4.1M155.8 256.5h5.5M157.0 264.5h3.9M156.2 272.5h4.4M156.6 274.5h5.0M155.7 283.5h5.3M157.1 292.5h5.0M157.7 293.5h3.4M156.5 294.5h4.0M157.1 304.5h4.2M157.5 312.5h3.7M156.8 312.5h3.8M156.5 317.5h3.8M156.5 325.5h4.9M156.8 339.5h3.7M156.9 345.5h5.4M156.1 349.5h4.6M157.5 356.5h4.4M156.0 358.5h4.7M157.2 363.5h4.2M156.8 374.5h4.8M156.9 381.5h4.7M156.3 383.5h4.1M156.4 385.5h5.6M156.2 389.5h5.6M156.7 413.5h4.0M156.8 416.5h4.9M156.8 419.5h3.3M156.5 433.5h4.4M157.1 437.5h5.4M156.8 445.5h3.4M158.0 448.5h3.3M155.7 475.5h5.3M157.1 476.5h4.8M158.0 476.5h3.6M158.0 502.5h3.5M178.7 219.5h5.4M179.1 231.5h4.7M179.1 238.5h3.5M178.2 262.5h5.6M178.7 266.5h4.9M178.4 272.5h4.9M177.8 274.5h5.3M180.1 278.5h3.2M178.9 282.5h4.3M178.6 289.5h4.7M178.8 302.5h4.5M178.4 308.5h5.5M178.2 311.5h4.4M179.1 312.5h3.7M179.0 316.5h4.6M179.0 322.5h4.9M179.3 331.5h4.2M178.7 340.5h3.8M177.9 350.5h4.8M179.5 350.5h3.8M178.4 356.5h4.7M179.0 358.5h5.3M178.9 368.5h5.0M177.7 380.5h5.5M179.0 392.5h3.4M179.5 404.5h4.2M178.0 430.5h4.8M178.6 443.5h5.3M179.9 483.5h3.4M200.6 221.5h4.2M201.0 223.5h4.3M201.4 224.5h3.4M200.7 232.5h5.2M200.5 240.5h5.0M201.4 251.5h3.9M200.8 259.5h4.5M201.5 261.5h3.3M201.0 277.5h3.7M201.1 280.5h4.5M200.1 290.5h3.9M200.2 292.5h5.1M201.5 297.5h3.4M199.9 303.5h4.5M199.3 306.5h5.5M199.6 321.5h4.9M200.6 326.5h5.3M199.5 333.5h5.5M200.2 338.5h4.4M200.0 346.5h5.1M200.8 349.5h3.8M200.5 357.5h4.5M200.8 370.5h4.8M200.5 370.5h3.7M200.9 376.5h3.7M201.0 379.5h4.6M200.5 382.5h3.9M201.0 394.5h3.5M201.0 405.5h3.7M200.0 421.5h4.1M200.7 426.5h4.5M200.3 427.5h4.0M200.7 434.5h3.8M200.4 435.5h3.8M201.0 439.5h4.4M200.3 454.5h5.6M199.7 476.5h5.4M200.6 478.5h4.4M200.0 500.5h4.5M201.6 505.5h3.5M222.4 227.5h5.1M222.6 231.5h3.8M222.8 241.5h3.4M222.9 248.5h3.3M223.0 253.5h3.5M222.5 259.5h3.4M222.6 283.5h5.4M221.8 295.5h5.0M223.0 313.5h5.0M221.9 324.5h4.7M221.8 356.5h5.5M222.1 364.5h4.9M222.4 371.5h5.5M222.6 374.5h4.3M222.4 380.5h4.6M222.5 400.5h4.8M222.6 404.5h5.4M222.2 407.5h5.2M221.7 416.5h5.2M222.7 421.5h4.4M222.4 426.5h4.4M223.3 436.5h3.7M222.5 445.5h5.1M222.2 465.5h4.0M222.1 467.5h4.6M221.9 468.5h5.5M222.2 473.5h4.3M222.8 477.5h5.0M222.1 489.5h5.0M223.6 491.5h3.5M222.9 501.5h4.4M223.2 505.5h3.8M244.6 193.5h4.8M243.9 196.5h5.4M243.2 198.5h5.6M244.2 201.5h4.9M244.2 204.5h4.9M244.9 206.5h3.5M245.5 232.5h3.6M244.5 233.5h4.0M243.4 238.5h5.5M244.4 244.5h3.9M244.2 249.5h4.0M245.2 249.5h4.3M245.3 256.5h4.0M244.5 268.5h4.5M245.5 273.5h3.5M244.4 278.5h3.4M245.2 281.5h3.6M244.9 291.5h3.8M244.7 306.5h5.3M244.5 313.5h3.5M243.7 314.5h5.2M244.7 315.5h4.5M244.6 321.5h3.6M243.9 335.5h4.6M243.5 345.5h5.2M243.9 362.5h4.7M244.3 405.5h3.9M243.7 413.5h4.5M244.7 416.5h3.2M244.9 418.5h4.9M245.4 431.5h3.6M245.0 433.5h4.7M243.9 436.5h4.1M245.1 436.5h3.3M244.3 439.5h4.0M245.2 459.5h3.7M244.4 461.5h3.4M245.0 468.5h3.8M243.6 485.5h4.9M244.3 498.5h4.4M266.2 222.5h5.2M265.8 224.5h5.1M265.9 245.5h5.5M267.1 251.5h4.0M265.9 259.5h5.5M266.1 273.5h3.9M266.6 282.5h5.0M265.8 303.5h4.6M265.7 304.5h4.2M265.8 307.5h5.1M265.5 310.5h4.9M266.6 328.5h4.9M266.5 333.5h4.4M265.9 339.5h5.0M266.6 352.5h4.6M267.3 355.5h3.8M266.6 365.5h4.7M266.0 365.5h4.0M266.4 372.5h4.6M266.0 373.5h4.3M265.9 374.5h4.6M266.5 381.5h4.6M265.5 387.5h4.5M267.0 399.5h3.5M266.2 414.5h5.5M266.5 420.5h5.2M266.6 430.5h4.8M266.3 453.5h5.4M266.7 460.5h3.4M266.7 482.5h4.4M267.4 483.5h3.2M265.0 493.5h5.5M266.3 496.5h3.6M266.7 499.5h4.5M287.8 195.5h5.5M288.4 200.5h3.5M287.5 205.5h5.5M288.8 207.5h3.3M287.4 228.5h4.7M288.2 228.5h5.3M287.2 237.5h5.3M288.1 238.5h3.2M287.8 246.5h5.3M288.5 246.5h3.7M288.9 264.5h3.8M289.1 269.5h3.3M288.6 275.5h4.7M288.5 281.5h3.4M288.2 308.5h3.5M288.1 313.5h3.4M288.1 328.5h4.5M288.5 328.5h4.2M287.2 331.5h5.5M288.7 341.5h3.6M288.2 345.5h5.1M288.4 356.5h3.4M288.5 362.5h4.2M288.2 363.5h4.6M288.0 365.5h4.8M287.7 366.5h5.0M287.7 377.5h4.0M288.3 380.5h3.5M288.0 389.5h3.7M288.4 399.5h3.5M288.7 423.5h4.0M288.3 428.5h4.3M288.0 449.5h3.4M287.2 462.5h5.4M288.9 467.5h3.6M288.5 479.5h4.4M288.5 488.5h4.0M287.9 494.5h3.6M288.8 502.5h4.0M287.7 504.5h3.9M310.1 138.5h4.8M309.8 139.5h5.4M310.4 161.5h4.9M310.1 161.5h3.2M309.8 189.5h5.4M311.0 197.5h3.6M310.7 205.5h4.2M310.1 208.5h3.6M310.6 211.5h4.6M309.9 215.5h5.0M310.0 231.5h5.3M310.4 232.5h3.5M310.9 234.5h3.5M310.4 239.5h4.6M310.6 240.5h3.2M309.8 244.5h3.5M310.0 259.5h5.0M309.7 267.5h4.4M310.7 294.5h4.0M309.9 300.5h3.9M311.0 311.5h4.0M310.5 314.5h3.9M309.7 350.5h5.5M310.0 351.5h3.7M309.8 354.5h4.1M310.5 361.5h4.4M310.5 367.5h4.7M309.8 392.5h4.9M310.9 407.5h4.1M309.8 416.5h3.9M310.1 423.5h3.7M310.5 449.5h3.5M310.5 450.5h4.9M310.3 451.5h4.0M310.6 467.5h3.9M309.8 481.5h3.7M309.6 483.5h4.3M310.7 492.5h3.7M310.8 492.5h3.2M309.8 493.5h5.1M309.5 493.5h4.2M309.9 502.5h4.9M332.9 148.5h3.8M333.3 161.5h3.4M332.9 161.5h3.6M332.9 172.5h3.8M332.2 175.5h4.1M331.5 182.5h5.0M331.5 188.5h4.8M331.2 204.5h4.8M332.0 211.5h5.3M331.9 211.5h4.4M332.0 216.5h4.7M332.5 220.5h4.3M332.5 221.5h4.0M331.4 224.5h4.7M333.0 237.5h3.2M332.1 240.5h3.4M332.7 241.5h4.0M333.0 245.5h3.3M332.8 254.5h3.7M332.2 279.5h4.4M332.6 280.5h4.3M332.0 282.5h4.5M332.5 286.5h3.5M331.6 287.5h4.7M332.6 296.5h3.7M331.4 297.5h5.0M332.5 298.5h4.0M332.4 300.5h3.9M332.3 308.5h3.7M331.5 312.5h5.0M333.2 336.5h3.3M331.9 340.5h4.7M332.5 351.5h4.2M332.2 361.5h4.2M332.9 362.5h4.0M332.2 371.5h3.7M333.3 372.5h3.4M332.7 378.5h3.5M332.0 381.5h4.0M332.2 391.5h4.1M332.2 394.5h5.3M331.5 398.5h5.3M332.6 399.5h3.8M331.6 400.5h5.2M331.2 401.5h5.4M331.5 401.5h5.0M331.8 403.5h5.0M331.9 405.5h4.5M332.2 412.5h4.6M331.4 421.5h4.3M333.1 421.5h3.5M330.9 428.5h5.4M332.1 450.5h3.8M332.0 464.5h3.3M331.4 465.5h4.8M332.5 471.5h4.1M332.3 491.5h4.4M333.2 493.5h3.4M332.3 494.5h5.2M332.5 500.5h3.9M353.8 140.5h3.9M353.7 147.5h5.0M353.4 151.5h3.9M354.3 152.5h4.5M354.0 160.5h5.1M354.0 172.5h5.0M354.2 173.5h3.8M354.0 178.5h4.2M354.3 186.5h3.5M354.0 192.5h4.5M353.5 194.5h3.8M353.1 203.5h5.4M352.9 207.5h5.5M354.8 213.5h3.6M354.4 213.5h3.5M352.7 217.5h5.3M353.5 226.5h5.3M354.3 251.5h4.0M354.1 253.5h4.5M353.8 257.5h4.8M354.4 270.5h4.0M353.6 277.5h3.7M354.6 278.5h3.5M354.9 299.5h3.5M353.5 304.5h4.8M354.0 311.5h5.5M354.8 314.5h3.3M353.7 319.5h3.7M353.4 325.5h4.1M352.8 333.5h5.5M353.4 343.5h4.9M353.4 352.5h4.6M352.7 370.5h5.5M353.4 374.5h4.9M353.2 393.5h5.4M354.1 394.5h3.9M353.6 405.5h5.1M353.8 406.5h5.1M353.9 408.5h3.9M353.6 408.5h5.5M354.2 410.5h4.4M354.2 418.5h4.0M353.3 420.5h5.3M353.8 423.5h5.0M353.2 457.5h5.2M354.2 458.5h4.6M353.8 467.5h5.6M354.0 480.5h3.9M353.2 486.5h5.1M353.1 491.5h5.2M353.8 491.5h3.3M354.5 494.5h4.2M375.7 137.5h4.3M376.3 147.5h4.2M374.9 150.5h5.6M375.7 153.5h3.7M375.2 158.5h5.2M375.6 162.5h3.3M375.6 195.5h4.6M375.7 196.5h3.8M375.8 199.5h4.4M375.7 203.5h4.6M375.8 207.5h4.9M375.9 215.5h3.9M376.0 220.5h3.9M376.0 245.5h3.4M375.0 246.5h4.6M374.7 249.5h5.1M375.1 269.5h5.5M375.7 278.5h4.4M374.9 285.5h5.5M376.2 285.5h3.9M375.7 287.5h5.5M375.9 301.5h4.1M376.6 306.5h4.1M375.9 321.5h3.8M375.3 324.5h5.1M375.7 325.5h4.7M375.5 336.5h5.4M374.8 337.5h4.8M376.3 342.5h4.2M376.1 354.5h4.0M375.0 360.5h5.6M376.1 364.5h4.1M376.1 364.5h4.1M375.3 365.5h4.8M376.9 399.5h3.3M376.4 420.5h3.5M375.4 423.5h5.5M375.7 423.5h3.4M376.1 428.5h3.6M376.5 431.5h4.2M376.6 439.5h4.2M375.9 454.5h5.3M376.3 466.5h3.3M376.6 494.5h3.9M376.2 506.5h4.3M396.8 138.5h5.5M398.0 144.5h4.7M397.7 145.5h3.4M397.5 149.5h4.8M397.0 151.5h5.0M396.8 167.5h4.9M396.5 174.5h5.3M397.3 176.5h5.0M397.5 187.5h4.8M397.7 188.5h5.1M397.4 195.5h5.1M398.5 201.5h3.5M397.1 202.5h5.1M397.3 204.5h4.3M398.1 221.5h4.7M398.9 227.5h3.4M396.7 244.5h4.9M398.5 245.5h3.6M397.4 251.5h4.5M396.5 262.5h5.6M398.0 272.5h3.4M398.7 284.5h3.3M396.9 287.5h5.0M397.6 303.5h5.2M397.7 303.5h5.3M398.2 314.5h4.1M397.7 325.5h5.1M398.1 341.5h3.2M397.0 342.5h5.1M398.0 360.5h4.9M396.9 370.5h4.6M398.2 379.5h4.0M397.8 386.5h5.1M398.0 397.5h4.2M397.7 397.5h5.5M397.6 398.5h5.4M397.8 400.5h4.3M398.4 404.5h4.0M397.9 408.5h5.3M397.6 418.5h4.4M398.2 419.5h4.2M398.5 422.5h3.8M397.7 424.5h4.7M397.1 425.5h5.2M396.6 431.5h5.0M397.8 433.5h5.5M398.0 439.5h4.7M397.6 447.5h4.9M397.9 451.5h4.7M397.9 451.5h4.2M397.5 454.5h3.6M396.8 455.5h4.6M396.8 456.5h4.9M397.9 457.5h3.7M397.6 459.5h3.2M398.4 460.5h4.1M398.0 468.5h3.3M398.5 471.5h3.8M397.5 483.5h4.2M420.4 69.5h3.9M419.2 79.5h4.8M419.9 82.5h3.8M420.3 90.5h3.7M419.7 91.5h4.6M420.2 108.5h4.4M420.4 110.5h3.3M418.7 127.5h4.6M420.1 138.5h4.2M418.8 154.5h4.9M419.6 156.5h4.6M419.4 161.5h3.4M420.5 164.5h3.5M419.6 166.5h4.0M418.4 173.5h5.1M418.6 191.5h5.3M418.8 202.5h4.8M419.7 209.5h5.2M419.4 215.5h3.9M419.0 219.5h5.5M420.1 223.5h3.8M419.6 235.5h5.4M420.3 238.5h3.4M419.0 244.5h5.2M419.7 246.5h3.6M419.6 254.5h5.1M418.9 270.5h5.5M419.3 276.5h4.2M419.5 303.5h4.9M420.0 304.5h4.4M420.1 319.5h3.3M419.2 332.5h5.2M419.2 333.5h5.5M420.3 347.5h3.6M418.9 349.5h5.3M418.8 353.5h4.5M419.4 360.5h4.0M420.3 363.5h3.6M419.5 370.5h4.6M419.3 375.5h4.5M419.6 381.5h4.3M419.4 387.5h4.1M419.5 400.5h5.3M419.9 426.5h4.1M420.2 426.5h3.6M419.8 454.5h4.7M420.0 457.5h4.7M420.0 474.5h4.6M419.6 479.5h5.1M419.5 480.5h4.9M419.0 484.5h5.5M419.3 488.5h4.3M420.2 489.5h3.8M419.2 494.5h5.6M419.1 501.5h5.6M418.8 505.5h5.5M441.4 33.5h4.2M441.4 34.5h4.0M442.5 41.5h3.7M440.7 62.5h5.5M442.2 79.5h3.3M441.0 79.5h4.7M440.6 80.5h5.4M442.1 94.5h4.3M441.4 111.5h4.8M440.8 114.5h4.6M441.6 122.5h5.6M440.7 122.5h5.2M440.7 122.5h4.9M441.3 132.5h3.9M440.8 145.5h5.2M441.4 165.5h3.3M442.2 167.5h4.3M441.6 193.5h4.5M440.9 197.5h4.7M441.5 199.5h4.4M441.6 202.5h4.2M441.5 236.5h4.9M440.3 249.5h5.4M440.5 251.5h5.3M441.9 252.5h4.4M441.0 262.5h4.7M441.0 307.5h4.2M440.8 327.5h5.0M441.2 328.5h5.2M441.6 338.5h4.9M440.4 338.5h5.3M441.4 340.5h4.5M441.3 377.5h4.4M440.5 388.5h5.3M441.2 395.5h4.7M441.3 398.5h3.9M442.3 410.5h3.5M441.8 428.5h4.2M441.2 433.5h5.4M441.8 442.5h4.9M440.4 451.5h5.2M441.0 466.5h5.3M441.9 469.5h4.2M441.4 475.5h5.5M442.2 485.5h4.0M441.7 491.5h3.3" stroke="#e0202e" stroke-opacity="0.5" stroke-width="1" fill="none"/>
<path d="M2.4 503.5h5.2M4.3 504.5h3.7M4.6 506.5h3.6M25.8 128.5h4.5M25.3 129.5h4.2M24.4 131.5h5.5M25.2 132.5h4.3M24.9 147.5h4.4M25.0 148.5h5.3M24.7 150.5h4.7M24.5 184.5h5.4M25.3 185.5h4.6M25.0 186.5h5.6M25.8 188.5h3.6M25.1 190.5h3.7M24.2 261.5h5.5M26.0 262.5h3.8M25.1 264.5h4.0M25.6 266.5h4.6M26.1 267.5h4.2M25.3 281.5h4.6M25.6 282.5h5.1M25.1 284.5h5.3M25.4 286.5h5.3M25.0 333.5h5.6M25.5 334.5h5.1M24.8 336.5h4.4M24.5 338.5h5.7M25.5 339.5h3.9M24.1 340.5h5.6M25.9 374.5h3.8M24.9 375.5h3.9M25.8 377.5h4.8M25.2 378.5h3.7M25.9 379.5h4.0M25.1 419.5h4.0M26.0 420.5h3.9M25.7 421.5h4.7M26.1 423.5h4.1M25.5 425.5h4.3M24.9 427.5h4.6M25.2 457.5h5.6M25.2 458.5h4.7M24.9 459.5h5.7M25.7 486.5h3.5M25.2 487.5h5.3M25.1 489.5h3.8M26.1 490.5h4.1M48.0 397.5h4.2M46.4 399.5h5.1M46.6 400.5h5.6M47.2 401.5h4.0M47.0 403.5h3.9M47.4 405.5h5.0M47.5 406.5h5.0M47.1 474.5h4.0M46.6 476.5h5.0M48.3 477.5h3.7M47.2 479.5h4.7M46.7 480.5h4.8M46.2 481.5h5.3M46.5 483.5h5.2M46.6 484.5h4.7M45.9 489.5h5.7M46.7 490.5h5.2M46.7 492.5h4.6M46.8 494.5h4.9M46.9 496.5h5.2M69.2 342.5h4.0M69.1 343.5h3.9M68.3 345.5h5.6M69.9 346.5h4.3M68.7 348.5h4.9M69.5 349.5h4.0M68.9 351.5h5.4M68.4 353.5h4.7M68.8 355.5h5.0M69.0 357.5h4.4M69.0 358.5h4.8M69.8 397.5h3.6M69.1 398.5h4.8M69.4 400.5h3.8M68.5 402.5h5.1M68.4 404.5h5.7M70.2 406.5h3.8M69.9 413.5h4.0M69.1 414.5h5.6M69.8 416.5h4.6M69.0 417.5h5.4M68.6 419.5h5.3M68.2 420.5h5.4M91.6 369.5h4.3M90.9 370.5h4.5M90.6 372.5h5.6M90.8 414.5h4.3M92.1 416.5h3.7M92.1 417.5h3.7M90.4 419.5h4.7M91.8 421.5h4.2M90.2 422.5h5.0M91.7 423.5h4.8M91.1 425.5h5.4M91.6 426.5h3.7M90.8 428.5h4.7M91.7 429.5h3.9M90.4 431.5h4.6M91.7 432.5h4.7M91.2 434.5h3.8M91.5 435.5h5.0M91.2 437.5h5.6M89.9 439.5h5.6M91.2 458.5h4.8M91.6 459.5h4.8M91.7 460.5h4.6M92.0 461.5h3.7M113.7 275.5h4.7M112.5 276.5h5.2M112.2 278.5h5.6M113.0 279.5h4.7M113.5 280.5h4.9M113.7 285.5h4.1M113.6 286.5h3.8M113.8 356.5h4.7M112.3 357.5h5.6M113.2 359.5h3.7M113.3 361.5h5.0M113.1 362.5h4.1M113.4 364.5h3.6M113.2 366.5h3.8M112.2 413.5h5.6M112.8 414.5h3.8M112.4 416.5h5.1M112.1 417.5h5.0M112.2 419.5h5.4M112.6 421.5h5.0M113.3 450.5h4.0M113.6 451.5h4.5M113.7 453.5h4.8M113.5 459.5h4.0M112.3 460.5h5.6M113.6 461.5h4.4M112.4 463.5h5.0M112.4 465.5h5.1M112.2 494.5h5.4M113.7 495.5h4.0M112.2 496.5h5.0M134.6 257.5h4.5M135.4 259.5h4.0M135.1 260.5h5.5M135.4 262.5h4.2M133.8 264.5h5.2M135.3 266.5h3.8M134.1 268.5h5.4M134.6 290.5h4.2M134.3 291.5h5.2M135.0 300.5h5.0M134.7 301.5h3.8M134.5 302.5h5.3M134.8 304.5h4.3M134.5 305.5h5.6M134.8 306.5h5.0M134.7 308.5h5.2M134.2 310.5h5.6M134.9 312.5h4.3M134.5 313.5h4.9M134.9 315.5h5.4M134.3 317.5h5.4M134.8 318.5h4.1M135.2 320.5h5.3M134.4 321.5h4.3M135.3 322.5h4.9M135.5 323.5h4.1M134.2 324.5h5.4M134.9 364.5h3.9M135.4 365.5h4.1M135.2 366.5h4.9M134.6 410.5h3.9M134.7 411.5h5.2M135.0 412.5h4.5M135.2 413.5h3.6M134.1 414.5h5.6M134.6 443.5h5.4M133.9 444.5h5.3M134.7 445.5h3.7M136.0 479.5h3.8M135.1 480.5h5.5M134.6 482.5h4.9M134.2 484.5h5.0M157.6 207.5h4.4M157.2 208.5h5.1M156.7 209.5h3.5M156.6 210.5h5.3M157.4 212.5h3.8M157.3 213.5h3.8M156.9 215.5h5.3M156.4 216.5h4.2M157.8 217.5h3.6M156.4 219.5h5.3M156.9 312.5h5.3M156.8 313.5h4.0M156.4 315.5h5.2M156.9 342.5h4.1M156.6 344.5h5.6M155.9 346.5h5.5M157.5 347.5h3.6M156.2 349.5h4.6M157.2 351.5h3.6M157.3 352.5h4.4M156.3 364.5h5.4M157.7 365.5h3.6M156.3 367.5h4.4M156.7 368.5h3.6M156.3 369.5h4.4M157.2 371.5h4.8M156.8 373.5h3.9M156.9 375.5h4.8M156.8 377.5h3.6M157.0 378.5h5.4M156.3 380.5h4.1M157.5 382.5h4.4M156.3 420.5h4.0M157.0 421.5h5.3M157.4 422.5h3.5M157.2 423.5h4.9M157.2 425.5h4.1M156.1 426.5h5.2M157.1 484.5h5.0M156.4 485.5h5.6M156.3 486.5h4.9M179.0 260.5h4.7M178.2 261.5h4.6M179.0 263.5h4.5M178.3 264.5h4.1M178.4 327.5h4.6M178.3 328.5h4.6M178.5 341.5h3.5M178.7 342.5h5.6M178.2 343.5h5.6M179.0 366.5h3.7M179.0 367.5h4.4M178.0 369.5h4.9M178.8 370.5h4.4M179.3 371.5h4.0M179.4 372.5h4.5M178.8 374.5h5.1M178.6 437.5h4.4M179.1 438.5h3.6M178.9 440.5h4.7M178.9 447.5h4.6M179.1 448.5h5.0M178.7 449.5h4.6M178.5 451.5h3.9M177.9 453.5h4.6M178.5 455.5h5.3M177.7 456.5h5.6M178.2 496.5h4.5M178.5 497.5h3.9M178.7 498.5h4.9M200.5 231.5h5.2M200.3 232.5h4.4M200.8 234.5h5.2M200.7 235.5h4.8M201.6 253.5h3.5M200.0 254.5h5.1M199.5 292.5h5.3M200.2 293.5h5.1M200.9 296.5h4.9M200.2 297.5h4.4M200.9 298.5h5.2M200.8 300.5h5.4M199.6 312.5h5.1M199.9 313.5h4.6M200.2 334.5h4.3M200.2 335.5h4.7M200.2 370.5h4.9M201.2 371.5h3.6M200.5 372.5h4.6M199.3 464.5h5.5M199.8 465.5h5.2M200.2 466.5h4.5M201.0 497.5h3.7M201.0 498.5h4.3M221.5 214.5h5.4M222.4 215.5h4.8M223.3 217.5h4.2M222.4 218.5h5.0M223.0 220.5h4.7M222.3 221.5h4.2M222.4 222.5h5.2M222.8 223.5h5.1M223.1 224.5h3.5M222.4 226.5h4.7M223.0 228.5h4.7M222.1 230.5h5.1M222.2 232.5h5.2M223.4 233.5h4.2M223.0 235.5h3.7M222.0 259.5h4.8M223.0 261.5h4.6M222.1 262.5h5.5M223.2 264.5h4.5M222.2 265.5h4.7M222.6 267.5h4.1M222.7 268.5h3.7M221.7 269.5h5.0M222.3 271.5h4.2M223.0 273.5h4.1M221.3 274.5h5.5M222.3 275.5h5.4M222.1 277.5h4.9M222.8 278.5h4.1M221.7 280.5h5.4M222.9 304.5h4.7M222.7 305.5h5.4M223.3 307.5h4.4M222.8 308.5h4.7M222.7 310.5h4.6M221.8 311.5h4.3M222.4 313.5h5.3M221.6 315.5h5.2M221.4 335.5h5.5M221.6 337.5h5.3M222.4 338.5h5.1M222.0 339.5h4.7M221.7 341.5h4.7M223.6 342.5h3.5M221.5 358.5h5.1M222.9 360.5h4.1M221.8 362.5h4.7M221.6 363.5h5.1M221.8 364.5h5.6M222.1 365.5h4.9M223.1 367.5h4.3M222.9 385.5h3.9M223.5 386.5h3.8M221.7 387.5h4.8M222.2 449.5h5.7M222.2 450.5h5.0M222.2 451.5h4.0M222.7 453.5h4.8M222.6 490.5h4.4M222.2 491.5h4.9M222.5 493.5h4.1M222.5 494.5h3.6M222.4 495.5h4.4M223.7 497.5h3.6M221.9 498.5h5.3M222.1 499.5h4.8M244.5 193.5h4.4M243.9 194.5h5.1M244.9 196.5h3.9M243.4 197.5h5.2M245.3 199.5h3.9M243.9 312.5h4.3M245.4 313.5h4.0M244.1 315.5h3.6M244.5 316.5h4.5M243.4 318.5h5.3M244.4 321.5h4.5M244.2 322.5h4.0M243.9 323.5h4.7M244.1 324.5h3.7M244.3 326.5h4.5M243.1 358.5h5.7M244.5 359.5h3.6M244.7 406.5h4.5M243.5 407.5h5.0M244.6 449.5h4.1M244.2 450.5h3.7M245.1 451.5h3.6M267.0 208.5h4.2M266.5 209.5h3.8M266.4 210.5h5.2M267.2 212.5h3.9M266.0 241.5h4.5M267.2 242.5h3.9M267.1 244.5h4.3M266.8 246.5h3.6M266.7 247.5h4.1M265.6 248.5h4.3M265.8 414.5h4.2M265.6 415.5h4.4M266.2 417.5h4.1M265.3 418.5h5.3M266.9 454.5h4.3M266.3 456.5h4.5M266.1 457.5h5.5M265.3 458.5h5.3M266.5 460.5h4.1M265.7 461.5h4.7M287.2 198.5h5.0M289.0 199.5h3.9M288.2 200.5h5.2M288.0 202.5h4.4M287.9 203.5h4.9M288.6 231.5h4.5M288.2 232.5h4.1M286.9 233.5h5.5M288.3 235.5h4.4M287.3 236.5h5.0M287.6 237.5h4.2M289.1 240.5h3.6M287.7 241.5h5.5M288.2 243.5h4.5M288.5 245.5h3.9M288.1 287.5h5.6M288.5 288.5h4.0M288.0 289.5h5.4M288.8 291.5h4.2M288.8 292.5h3.7M289.0 420.5h3.8M288.4 421.5h3.9M288.2 422.5h4.2M287.8 439.5h4.8M288.2 440.5h5.5M288.1 442.5h5.3M288.0 443.5h5.1M288.0 445.5h5.5M287.5 446.5h4.7M287.4 447.5h4.9M288.1 448.5h4.9M288.3 450.5h3.6M288.1 451.5h5.5M288.4 453.5h4.5M288.1 473.5h4.6M288.0 474.5h3.6M289.0 475.5h3.8M309.1 139.5h5.3M310.2 140.5h4.8M310.1 142.5h3.6M309.7 143.5h5.4M309.6 144.5h4.7M310.3 147.5h5.0M310.8 148.5h3.8M310.0 149.5h5.4M310.1 151.5h4.8M309.6 152.5h4.1M309.3 153.5h4.7M309.9 180.5h3.8M309.6 181.5h5.7M310.2 225.5h3.9M310.2 227.5h3.7M309.7 228.5h4.0M310.9 230.5h4.2M309.5 231.5h5.1M311.2 233.5h3.6M309.4 234.5h5.1M309.3 235.5h4.7M309.6 237.5h4.0M310.1 239.5h4.8M311.1 241.5h3.6M308.9 243.5h5.1M310.8 244.5h4.0M309.6 245.5h4.4M310.3 247.5h3.8M309.7 249.5h4.3M310.6 251.5h3.9M309.6 253.5h4.0M311.0 254.5h3.5M309.9 295.5h4.8M310.2 296.5h4.3M309.3 376.5h5.4M309.3 377.5h4.5M310.5 378.5h4.6M309.8 380.5h5.7M309.3 382.5h5.4M310.1 383.5h5.0M309.8 430.5h5.3M311.0 431.5h3.5M310.8 434.5h4.0M310.1 435.5h5.4M309.9 437.5h3.7M310.1 439.5h4.0M309.0 441.5h5.5M309.7 442.5h5.2M309.0 443.5h5.6M310.0 444.5h5.4M310.5 445.5h4.8M310.0 447.5h5.5M310.4 449.5h4.4M309.7 486.5h5.3M310.3 488.5h5.2M309.1 490.5h5.4M309.2 491.5h4.6M310.3 492.5h5.4M309.3 494.5h4.6M309.2 496.5h5.6M309.5 497.5h5.3M332.5 198.5h4.3M331.9 200.5h5.2M331.8 201.5h4.6M332.1 203.5h4.2M332.8 205.5h3.7M332.0 287.5h5.0M331.7 288.5h5.5M331.9 289.5h3.7M331.6 290.5h4.1M331.8 291.5h3.6M332.1 293.5h3.7M332.4 294.5h3.8M331.3 295.5h5.0M332.1 331.5h4.1M333.1 332.5h3.7M332.7 333.5h3.5M332.0 403.5h3.7M331.8 404.5h4.3M331.5 405.5h5.2M332.3 407.5h5.0M332.2 433.5h4.2M332.7 435.5h3.7M331.3 437.5h4.7M352.8 145.5h5.4M353.8 146.5h4.8M354.3 147.5h4.8M354.7 150.5h4.1M353.9 151.5h4.2M354.9 153.5h3.6M353.7 155.5h4.6M353.6 157.5h5.3M353.5 158.5h4.5M352.8 159.5h5.5M354.2 161.5h4.4M353.8 163.5h5.2M353.4 165.5h4.9M353.5 167.5h3.8M353.7 168.5h3.6M353.6 169.5h4.8M353.5 170.5h3.8M354.1 172.5h4.1M353.3 174.5h5.4M353.4 175.5h5.2M352.6 177.5h5.5M353.6 198.5h4.3M354.3 199.5h4.3M353.9 201.5h5.4M354.4 202.5h3.6M354.2 204.5h3.6M353.9 206.5h5.2M352.7 207.5h5.2M353.1 209.5h5.4M354.0 210.5h5.3M353.4 211.5h4.7M354.3 251.5h4.6M354.2 252.5h3.9M354.5 287.5h3.7M353.9 288.5h5.5M353.2 290.5h4.5M354.3 291.5h3.5M354.9 293.5h3.6M352.9 294.5h5.6M375.9 131.5h3.8M375.6 133.5h5.4M375.5 134.5h5.4M374.8 136.5h4.9M375.7 138.5h4.6M375.1 140.5h5.6M375.4 152.5h4.7M374.8 153.5h5.3M376.5 154.5h3.6M375.6 155.5h5.0M374.6 157.5h5.3M375.7 158.5h4.1M374.9 160.5h5.5M376.3 161.5h3.7M375.5 163.5h3.6M374.8 165.5h5.2M376.2 166.5h3.5M376.0 168.5h3.9M375.5 180.5h3.7M375.9 181.5h4.3M375.3 183.5h4.2M375.8 184.5h5.5M376.8 186.5h3.8M376.1 188.5h4.4M375.4 190.5h5.6M375.0 191.5h4.5M374.8 193.5h5.2M375.1 231.5h5.2M376.2 232.5h3.6M375.8 233.5h5.6M374.7 235.5h5.7M375.4 237.5h4.9M375.6 239.5h5.4M376.7 240.5h3.7M375.4 242.5h4.8M376.3 244.5h4.1M375.2 382.5h5.3M375.2 383.5h4.2M375.3 385.5h4.4M375.0 386.5h4.5M375.9 387.5h4.5M375.7 388.5h3.9M376.7 390.5h3.7M375.6 391.5h5.2M375.5 393.5h4.8M376.6 395.5h3.9M375.5 396.5h4.7M375.8 398.5h4.5M376.6 400.5h4.1M376.2 402.5h3.9M376.6 403.5h3.9M397.3 122.5h5.1M398.4 124.5h3.7M397.2 125.5h4.7M397.3 127.5h3.8M396.6 129.5h5.5M397.8 148.5h4.9M397.6 149.5h4.3M398.4 151.5h3.9M398.0 153.5h4.1M397.8 154.5h3.7M397.8 155.5h4.9M398.2 157.5h4.4M396.4 158.5h5.5M396.6 160.5h5.6M398.2 162.5h4.2M397.8 163.5h4.6M397.0 165.5h5.5M397.9 166.5h4.4M396.7 168.5h4.9M397.1 169.5h5.3M396.7 170.5h4.8M397.3 171.5h4.5M398.0 172.5h3.7M397.9 174.5h5.1M398.0 176.5h3.7M397.9 177.5h4.2M398.7 178.5h3.8M396.3 179.5h5.6M398.3 181.5h3.8M398.6 182.5h3.8M397.9 184.5h4.5M397.9 261.5h5.1M396.6 262.5h5.1M397.3 264.5h5.6M398.4 266.5h4.0M397.7 267.5h5.7M396.9 269.5h4.4M398.0 270.5h3.6M397.0 272.5h4.8M397.1 273.5h4.3M398.4 275.5h4.0M397.8 276.5h3.8M396.5 278.5h5.6M397.3 279.5h5.1M396.4 281.5h5.6M398.7 283.5h3.6M397.1 285.5h5.4M397.6 286.5h4.6M398.2 288.5h4.3M397.4 289.5h4.1M397.8 290.5h4.5M397.2 292.5h5.6M397.1 293.5h5.7M397.5 295.5h4.1M397.1 297.5h4.8M397.9 340.5h3.9M397.5 341.5h5.6M397.4 343.5h5.2M398.7 344.5h3.5M418.9 68.5h4.1M419.2 69.5h4.6M418.9 70.5h4.0M418.2 72.5h5.7M419.9 73.5h3.8M418.2 103.5h5.4M419.1 105.5h5.2M418.6 106.5h4.7M419.4 108.5h4.3M419.7 110.5h5.2M419.3 112.5h5.5M418.8 114.5h4.6M418.4 116.5h5.2M419.7 117.5h5.3M419.6 119.5h4.4M419.7 121.5h3.7M419.8 122.5h4.6M419.7 124.5h3.9M420.6 125.5h3.6M419.6 127.5h5.5M418.9 128.5h4.1M419.5 130.5h4.0M419.4 131.5h5.5M419.9 133.5h4.6M419.3 135.5h5.1M420.2 136.5h4.0M419.9 138.5h4.3M419.9 139.5h3.6M420.1 209.5h4.6M419.4 210.5h3.9M418.9 211.5h5.7M419.7 212.5h5.2M420.1 215.5h3.9M418.5 217.5h4.9M418.1 218.5h5.6M418.8 219.5h4.7M419.9 221.5h3.5M419.3 223.5h4.0M419.9 224.5h4.4M418.2 225.5h5.4M419.3 227.5h3.6M419.3 229.5h5.4M418.4 230.5h5.7M420.1 261.5h4.5M419.8 262.5h4.5M419.9 263.5h4.8M419.4 265.5h4.4M419.0 267.5h4.5M419.4 268.5h3.5M418.8 270.5h4.4M418.4 271.5h4.9M419.1 273.5h4.5M420.2 274.5h3.5M420.0 276.5h3.7M420.1 278.5h3.6M419.7 279.5h4.8M418.5 281.5h5.1M419.0 283.5h4.7M418.8 284.5h4.7M420.0 285.5h4.5M419.4 286.5h4.6M418.6 288.5h5.3M419.2 290.5h3.6M419.2 291.5h5.1M419.0 292.5h5.4M419.4 294.5h5.6M419.3 295.5h4.0M419.3 297.5h5.1M419.7 404.5h3.5M420.0 405.5h4.3M418.9 406.5h4.5M419.9 408.5h4.1M419.5 410.5h5.0M419.9 411.5h4.4M419.8 413.5h4.0M419.0 415.5h4.4M419.2 417.5h5.0M419.4 419.5h4.7M419.4 421.5h5.4M419.5 423.5h5.0M419.5 424.5h4.1M418.4 426.5h5.4M418.4 427.5h5.6M418.5 429.5h5.4M419.2 431.5h5.0M419.4 433.5h4.9M418.9 434.5h4.8M441.3 39.5h4.2M440.5 40.5h5.5M442.0 42.5h3.8M441.8 44.5h4.7M441.0 45.5h5.7M440.9 46.5h4.3M441.3 48.5h3.7M440.9 50.5h5.2M441.1 52.5h4.4M440.4 53.5h5.4M441.5 56.5h3.6M440.8 57.5h5.6M441.8 58.5h5.1M441.6 75.5h4.6M441.2 76.5h5.6M441.6 78.5h3.7M441.7 79.5h3.7M441.5 81.5h5.6M441.6 82.5h5.5M441.4 83.5h4.5M441.2 85.5h3.9M441.8 87.5h4.5M441.3 89.5h4.9M441.2 90.5h3.6M441.0 92.5h4.0M441.4 94.5h5.2M442.0 96.5h4.5M440.6 98.5h4.7M441.5 100.5h4.4M441.2 101.5h5.2M442.0 186.5h4.1M440.3 187.5h5.4M441.6 189.5h4.0M442.1 191.5h4.2M440.5 193.5h5.4M441.6 261.5h3.6M441.3 262.5h4.9M440.5 264.5h4.8M441.0 265.5h5.2M441.5 266.5h4.4M440.4 268.5h5.2M441.2 270.5h4.4M441.6 272.5h4.8M441.0 273.5h5.1M441.1 275.5h4.0M441.5 276.5h4.1M441.1 277.5h5.5M440.6 278.5h5.3M441.5 280.5h5.3M442.0 282.5h4.8M441.5 367.5h3.6M441.5 368.5h4.8M441.8 370.5h3.7M440.8 372.5h4.6M441.0 373.5h3.8M441.6 375.5h3.8M441.4 377.5h4.9M441.2 379.5h4.8M441.1 381.5h4.3M441.0 383.5h4.7M441.8 385.5h4.3M441.1 427.5h4.5M441.7 428.5h4.3M441.1 429.5h5.6M442.1 430.5h4.0M440.6 432.5h5.5M441.5 433.5h4.6M441.8 435.5h3.8M441.4 437.5h3.9M440.2 439.5h5.7M441.8 441.5h4.1" stroke="#e0202e" stroke-opacity="0.75" stroke-width="1" fill="none"/>
<rect x="5.30" y="503.2" width="1" height="4.4" fill="#7073aa"/>
<rect x="27.20" y="104.4" width="1" height="403.2" fill="#7073aa"/>
<rect x="49.10" y="360.0" width="1" height="147.6" fill="#7073aa"/>
<rect x="71.00" y="288.3" width="1" height="219.3" fill="#7073aa"/>
<rect x="93.00" y="277.4" width="1" height="230.2" fill="#7073aa"/>
<rect x="115.00" y="270.2" width="1" height="237.4" fill="#7073aa"/>
<rect x="136.80" y="257.6" width="1" height="250.0" fill="#7073aa"/>
<rect x="158.70" y="207.0" width="1" height="300.6" fill="#7073aa"/>
<rect x="180.60" y="215.5" width="1" height="292.1" fill="#7073aa"/>
<rect x="202.40" y="214.3" width="1" height="293.3" fill="#7073aa"/>
<rect x="224.40" y="213.6" width="1" height="294.0" fill="#7073aa"/>
<rect x="246.30" y="193.1" width="1" height="314.5" fill="#7073aa"/>
<rect x="268.10" y="207.6" width="1" height="300.0" fill="#7073aa"/>
<rect x="290.00" y="188.7" width="1" height="318.9" fill="#7073aa"/>
<rect x="311.90" y="138.2" width="1" height="369.4" fill="#7073aa"/>
<rect x="333.90" y="145.8" width="1" height="361.8" fill="#7073aa"/>
<rect x="355.70" y="138.4" width="1" height="369.2" fill="#7073aa"/>
<rect x="377.60" y="131.3" width="1" height="376.3" fill="#7073aa"/>
<rect x="399.50" y="121.6" width="1" height="386.0" fill="#7073aa"/>
<rect x="421.30" y="68.1" width="1" height="439.5" fill="#7073aa"/>
<rect x="443.30" y="30.6" width="1" height="477.0" fill="#7073aa"/>
<style>.y{fill:#faf000;stroke:#8f7f08;stroke-width:0.7}.g{fill:#4abd4c;stroke:#2b722d;stroke-width:0.7}</style>
<ellipse class="g" cx="449.6" cy="30.8" rx="3.45" ry="1.9"/>
<ellipse class="y" cx="438.4" cy="31.5" rx="3.45" ry="1.9"/>
<ellipse class="g" cx="449.6" cy="45.6" rx="3.45" ry="1.9"/>
<ellipse class="g" cx="449.6" cy="46.8" rx="3.45" ry="1.9"/>
<ellipse class="g" cx="427.6" cy="66.9" rx="3.45" ry="1.9"/>
<ellipse class="y" cx="416.4" cy="85.9" rx="3.45" ry="1.9"/>
<ellipse class="y" cx="416.4" cy="96.2" rx="3.45" ry="1.9"/>
<ellipse class="y" cx="416.4" cy="106.4" rx="3.45" ry="1.9"/>
<ellipse class="y" cx="416.4" cy="108.0" rx="3.45" ry="1.9"/>
<ellipse class="g" cx="427.6" cy="111.8" rx="3.45" ry="1.9"/>
<ellipse class="g" cx="449.6" cy="114.0" rx="3.45" ry="1.9"/>
<ellipse class="g" cx="427.6" cy="118.8" rx="3.45" ry="1.9"/>
<ellipse class="y" cx="394.6" cy="121.2" rx="3.45" ry="1.9"/>
<ellipse class="g" cx="405.8" cy="122.6" rx="3.45" ry="1.9"/>
<ellipse class="g" cx="449.6" cy="126.1" rx="3.45" ry="1.9"/>
<ellipse class="g" cx="405.8" cy="129.9" rx="3.45" ry="1.9"/>
<ellipse class="g" cx="383.9" cy="134.2" rx="3.45" ry="1.9"/>
<ellipse class="g" cx="449.6" cy="135.7" rx="3.45" ry="1.9"/>
<ellipse class="g" cx="362.0" cy="140.0" rx="3.45" ry="1.9"/>
<ellipse class="g" cx="449.6" cy="140.4" rx="3.45" ry="1.9"/>
<ellipse class="g" cx="427.6" cy="143.0" rx="3.45" ry="1.9"/>
<ellipse class="g" cx="33.5" cy="144.4" rx="3.45" ry="1.9"/>
<ellipse class="y" cx="372.7" cy="145.2" rx="3.45" ry="1.9"/>
<ellipse class="g" cx="383.9" cy="145.2" rx="3.45" ry="1.9"/>
<ellipse class="g" cx="340.2" cy="146.2" rx="3.45" ry="1.9"/>
<ellipse class="g" cx="405.8" cy="146.7" rx="3.45" ry="1.9"/>
<ellipse class="y" cx="438.4" cy="147.8" rx="3.45" ry="1.9"/>
<ellipse class="g" cx="427.6" cy="148.1" rx="3.45" ry="1.9"/>
<ellipse class="g" cx="340.2" cy="149.1" rx="3.45" ry="1.9"/>
<ellipse class="g" cx="383.9" cy="149.6" rx="3.45" ry="1.9"/>
<ellipse class="g" cx="405.8" cy="149.6" rx="3.45" ry="1.9"/>
<ellipse class="g" cx="449.6" cy="149.7" rx="3.45" ry="1.9"/>
<ellipse class="y" cx="416.4" cy="150.1" rx="3.45" ry="1.9"/>
<ellipse class="g" cx="362.0" cy="152.5" rx="3.45" ry="1.9"/>
<ellipse class="g" cx="405.8" cy="152.5" rx="3.45" ry="1.9"/>
<ellipse class="g" cx="427.6" cy="153.7" rx="3.45" ry="1.9"/>
<ellipse class="g" cx="362.0" cy="153.8" rx="3.45" ry="1.9"/>
<ellipse class="y" cx="22.3" cy="153.9" rx="3.45" ry="1.9"/>
<ellipse class="y" cx="416.4" cy="154.7" rx="3.45" ry="1.9"/>
<ellipse class="g" cx="427.6" cy="155.3" rx="3.45" ry="1.9"/>
<ellipse class="y" cx="416.4" cy="156.0" rx="3.45" ry="1.9"/>
<ellipse class="g" cx="318.2" cy="157.8" rx="3.45" ry="1.9"/>
<ellipse class="y" cx="329.0" cy="159.4" rx="3.45" ry="1.9"/>
<ellipse class="g" cx="362.0" cy="161.6" rx="3.45" ry="1.9"/>
<ellipse class="g" cx="427.6" cy="161.8" rx="3.45" ry="1.9"/>
<ellipse class="g" cx="405.8" cy="162.1" rx="3.45" ry="1.9"/>
<ellipse class="g" cx="318.2" cy="162.6" rx="3.45" ry="1.9"/>
<ellipse class="g" cx="405.8" cy="165.0" rx="3.45" ry="1.9"/>
<ellipse class="g" cx="318.2" cy="165.9" rx="3.45" ry="1.9"/>
<ellipse class="y" cx="372.7" cy="166.4" rx="3.45" ry="1.9"/>
<ellipse class="g" cx="362.0" cy="168.3" rx="3.45" ry="1.9"/>
<ellipse class="g" cx="427.6" cy="168.6" rx="3.45" ry="1.9"/>
<ellipse class="y" cx="372.7" cy="168.9" rx="3.45" ry="1.9"/>
<ellipse class="g" cx="33.5" cy="169.0" rx="3.45" ry="1.9"/>
<ellipse class="y" cx="416.4" cy="170.5" rx="3.45" ry="1.9"/>
<ellipse class="g" cx="427.6" cy="170.8" rx="3.45" ry="1.9"/>
<ellipse class="g" cx="383.9" cy="171.2" rx="3.45" ry="1.9"/>
<ellipse class="y" cx="394.6" cy="172.8" rx="3.45" ry="1.9"/>
<ellipse class="g" cx="405.8" cy="174.7" rx="3.45" ry="1.9"/>
<ellipse class="g" cx="449.6" cy="175.4" rx="3.45" ry="1.9"/>
<ellipse class="g" cx="340.2" cy="175.6" rx="3.45" ry="1.9"/>
<ellipse class="g" cx="449.6" cy="176.9" rx="3.45" ry="1.9"/>
<ellipse class="g" cx="33.5" cy="178.0" rx="3.45" ry="1.9"/>
<ellipse class="g" cx="427.6" cy="178.0" rx="3.45" ry="1.9"/>
<ellipse class="g" cx="405.8" cy="178.6" rx="3.45" ry="1.9"/>
<ellipse class="y" cx="372.7" cy="180.5" rx="3.45" ry="1.9"/>
<ellipse class="g" cx="340.2" cy="181.0" rx="3.45" ry="1.9"/>
<ellipse class="g" cx="449.6" cy="181.1" rx="3.45" ry="1.9"/>
<ellipse class="y" cx="438.4" cy="181.9" rx="3.45" ry="1.9"/>
<ellipse class="y" cx="372.7" cy="182.4" rx="3.45" ry="1.9"/>
<ellipse class="g" cx="427.6" cy="183.5" rx="3.45" ry="1.9"/>
<ellipse class="g" cx="33.5" cy="184.8" rx="3.45" ry="1.9"/>
<ellipse class="g" cx="318.2" cy="186.4" rx="3.45" ry="1.9"/>
<ellipse class="g" cx="340.2" cy="186.4" rx="3.45" ry="1.9"/>
<ellipse class="g" cx="427.6" cy="186.8" rx="3.45" ry="1.9"/>
<ellipse class="g" cx="449.6" cy="187.7" rx="3.45" ry="1.9"/>
<ellipse class="g" cx="405.8" cy="191.0" rx="3.45" ry="1.9"/>
<ellipse class="y" cx="416.4" cy="191.7" rx="3.45" ry="1.9"/>
<ellipse class="g" cx="362.0" cy="192.0" rx="3.45" ry="1.9"/>
<ellipse class="g" cx="340.2" cy="193.5" rx="3.45" ry="1.9"/>
<ellipse class="g" cx="427.6" cy="193.5" rx="3.45" ry="1.9"/>
<ellipse class="g" cx="449.6" cy="193.6" rx="3.45" ry="1.9"/>
<ellipse class="y" cx="241.4" cy="194.7" rx="3.45" ry="1.9"/>
<ellipse class="y" cx="307.0" cy="195.5" rx="3.45" ry="1.9"/>
<ellipse class="g" cx="252.6" cy="196.0" rx="3.45" ry="1.9"/>
<ellipse class="g" cx="340.2" cy="196.4" rx="3.45" ry="1.9"/>
<ellipse class="y" cx="241.4" cy="198.9" rx="3.45" ry="1.9"/>
<ellipse class="y" cx="329.0" cy="200.3" rx="3.45" ry="1.9"/>
<ellipse class="g" cx="362.0" cy="200.3" rx="3.45" ry="1.9"/>
<ellipse class="g" cx="383.9" cy="200.3" rx="3.45" ry="1.9"/>
<ellipse class="y" cx="438.4" cy="200.8" rx="3.45" ry="1.9"/>
<ellipse class="g" cx="427.6" cy="201.0" rx="3.45" ry="1.9"/>
<ellipse class="y" cx="285.1" cy="201.6" rx="3.45" ry="1.9"/>
<ellipse class="y" cx="416.4" cy="202.2" rx="3.45" ry="1.9"/>
<ellipse class="g" cx="362.0" cy="203.2" rx="3.45" ry="1.9"/>
<ellipse class="g" cx="362.0" cy="204.5" rx="3.45" ry="1.9"/>
<ellipse class="g" cx="427.6" cy="204.6" rx="3.45" ry="1.9"/>
<ellipse class="y" cx="438.4" cy="204.7" rx="3.45" ry="1.9"/>
<ellipse class="g" cx="383.9" cy="205.7" rx="3.45" ry="1.9"/>
<ellipse class="g" cx="296.3" cy="206.5" rx="3.45" ry="1.9"/>
<ellipse class="g" cx="449.6" cy="206.5" rx="3.45" ry="1.9"/>
<ellipse class="y" cx="263.2" cy="208.6" rx="3.45" ry="1.9"/>
<ellipse class="y" cx="394.6" cy="209.5" rx="3.45" ry="1.9"/>
<ellipse class="g" cx="405.8" cy="209.5" rx="3.45" ry="1.9"/>
<ellipse class="g" cx="362.0" cy="209.9" rx="3.45" ry="1.9"/>
<ellipse class="g" cx="296.3" cy="210.0" rx="3.45" ry="1.9"/>
<ellipse class="g" cx="340.2" cy="210.9" rx="3.45" ry="1.9"/>
<ellipse class="y" cx="263.2" cy="212.3" rx="3.45" ry="1.9"/>
<ellipse class="g" cx="274.4" cy="212.3" rx="3.45" ry="1.9"/>
<ellipse class="g" cx="165.0" cy="212.4" rx="3.45" ry="1.9"/>
<ellipse class="y" cx="329.0" cy="212.8" rx="3.45" ry="1.9"/>
<ellipse class="g" cx="449.6" cy="213.4" rx="3.45" ry="1.9"/>
<ellipse class="g" cx="274.4" cy="214.2" rx="3.45" ry="1.9"/>
<ellipse class="g" cx="362.0" cy="214.7" rx="3.45" ry="1.9"/>
<ellipse class="g" cx="405.8" cy="215.1" rx="3.45" ry="1.9"/>
<ellipse class="g" cx="427.6" cy="215.2" rx="3.45" ry="1.9"/>
<ellipse class="g" cx="186.9" cy="215.3" rx="3.45" ry="1.9"/>
<ellipse class="y" cx="219.5" cy="215.3" rx="3.45" ry="1.9"/>
<ellipse class="g" cx="230.7" cy="215.5" rx="3.45" ry="1.9"/>
<ellipse class="y" cx="175.7" cy="215.9" rx="3.45" ry="1.9"/>
<ellipse class="y" cx="153.8" cy="216.2" rx="3.45" ry="1.9"/>
<ellipse class="g" cx="318.2" cy="216.7" rx="3.45" ry="1.9"/>
<ellipse class="g" cx="340.2" cy="217.1" rx="3.45" ry="1.9"/>
<ellipse class="g" cx="230.7" cy="217.2" rx="3.45" ry="1.9"/>
<ellipse class="y" cx="219.5" cy="217.8" rx="3.45" ry="1.9"/>
<ellipse class="g" cx="362.0" cy="218.2" rx="3.45" ry="1.9"/>
<ellipse class="g" cx="252.6" cy="218.8" rx="3.45" ry="1.9"/>
<ellipse class="g" cx="296.3" cy="219.6" rx="3.45" ry="1.9"/>
<ellipse class="g" cx="383.9" cy="219.6" rx="3.45" ry="1.9"/>
<ellipse class="y" cx="197.5" cy="220.7" rx="3.45" ry="1.9"/>
<ellipse class="g" cx="427.6" cy="221.0" rx="3.45" ry="1.9"/>
<ellipse class="g" cx="186.9" cy="221.1" rx="3.45" ry="1.9"/>
<ellipse class="y" cx="350.8" cy="221.1" rx="3.45" ry="1.9"/>
<ellipse class="g" cx="383.9" cy="221.5" rx="3.45" ry="1.9"/>
<ellipse class="g" cx="405.8" cy="221.5" rx="3.45" ry="1.9"/>
<ellipse class="g" cx="252.6" cy="221.7" rx="3.45" ry="1.9"/>
<ellipse class="g" cx="230.7" cy="222.6" rx="3.45" ry="1.9"/>
<ellipse class="g" cx="318.2" cy="223.5" rx="3.45" ry="1.9"/>
<ellipse class="g" cx="33.5" cy="224.0" rx="3.45" ry="1.9"/>
<ellipse class="y" cx="219.5" cy="224.6" rx="3.45" ry="1.9"/>
<ellipse class="g" cx="208.7" cy="225.0" rx="3.45" ry="1.9"/>
<ellipse class="g" cx="362.0" cy="225.0" rx="3.45" ry="1.9"/>
<ellipse class="y" cx="241.4" cy="225.2" rx="3.45" ry="1.9"/>
<ellipse class="g" cx="427.6" cy="225.2" rx="3.45" ry="1.9"/>
<ellipse class="g" cx="230.7" cy="225.5" rx="3.45" ry="1.9"/>
<ellipse class="y" cx="372.7" cy="225.9" rx="3.45" ry="1.9"/>
<ellipse class="g" cx="405.8" cy="226.3" rx="3.45" ry="1.9"/>
<ellipse class="g" cx="318.2" cy="226.7" rx="3.45" ry="1.9"/>
<ellipse class="g" cx="427.6" cy="226.7" rx="3.45" ry="1.9"/>
<ellipse class="g" cx="383.9" cy="227.3" rx="3.45" ry="1.9"/>
<ellipse class="g" cx="296.3" cy="227.9" rx="3.45" ry="1.9"/>
<ellipse class="y" cx="350.8" cy="228.3" rx="3.45" ry="1.9"/>
<ellipse class="g" cx="208.7" cy="228.4" rx="3.45" ry="1.9"/>
<ellipse class="g" cx="230.7" cy="228.4" rx="3.45" ry="1.9"/>
<ellipse class="g" cx="33.5" cy="230.0" rx="3.45" ry="1.9"/>
<ellipse class="g" cx="186.9" cy="230.0" rx="3.45" ry="1.9"/>
<ellipse class="g" cx="296.3" cy="230.2" rx="3.45" ry="1.9"/>
<ellipse class="y" cx="329.0" cy="230.2" rx="3.45" ry="1.9"/>
<ellipse class="g" cx="362.0" cy="230.6" rx="3.45" ry="1.9"/>
<ellipse class="g" cx="318.2" cy="231.2" rx="3.45" ry="1.9"/>
<ellipse class="g" cx="230.7" cy="231.3" rx="3.45" ry="1.9"/>
<ellipse class="y" cx="197.5" cy="232.5" rx="3.45" ry="1.9"/>
<ellipse class="g" cx="362.0" cy="233.5" rx="3.45" ry="1.9"/>
<ellipse class="g" cx="230.7" cy="234.2" rx="3.45" ry="1.9"/>
<ellipse class="g" cx="186.9" cy="234.8" rx="3.45" ry="1.9"/>
<ellipse class="g" cx="340.2" cy="235.0" rx="3.45" ry="1.9"/>
<ellipse class="g" cx="318.2" cy="237.0" rx="3.45" ry="1.9"/>
<ellipse class="g" cx="230.7" cy="237.1" rx="3.45" ry="1.9"/>
<ellipse class="g" cx="252.6" cy="238.1" rx="3.45" ry="1.9"/>
<ellipse class="y" cx="263.2" cy="238.9" rx="3.45" ry="1.9"/>
<ellipse class="y" cx="307.0" cy="239.3" rx="3.45" ry="1.9"/>
<ellipse class="g" cx="362.0" cy="240.2" rx="3.45" ry="1.9"/>
<ellipse class="g" cx="318.2" cy="240.4" rx="3.45" ry="1.9"/>
<ellipse class="g" cx="427.6" cy="240.4" rx="3.45" ry="1.9"/>
<ellipse class="y" cx="285.1" cy="240.8" rx="3.45" ry="1.9"/>
<ellipse class="g" cx="296.3" cy="240.8" rx="3.45" ry="1.9"/>
<ellipse class="g" cx="186.9" cy="241.0" rx="3.45" ry="1.9"/>
<ellipse class="y" cx="241.4" cy="241.0" rx="3.45" ry="1.9"/>
<ellipse class="g" cx="274.4" cy="241.8" rx="3.45" ry="1.9"/>
<ellipse class="g" cx="252.6" cy="242.0" rx="3.45" ry="1.9"/>
<ellipse class="g" cx="383.9" cy="242.7" rx="3.45" ry="1.9"/>
<ellipse class="g" cx="230.7" cy="242.9" rx="3.45" ry="1.9"/>
<ellipse class="y" cx="263.2" cy="243.3" rx="3.45" ry="1.9"/>
<ellipse class="g" cx="186.9" cy="243.5" rx="3.45" ry="1.9"/>
<ellipse class="g" cx="318.2" cy="243.7" rx="3.45" ry="1.9"/>
<ellipse class="g" cx="252.6" cy="243.9" rx="3.45" ry="1.9"/>
<ellipse class="g" cx="362.0" cy="244.1" rx="3.45" ry="1.9"/>
<ellipse class="y" cx="175.7" cy="244.3" rx="3.45" ry="1.9"/>
<ellipse class="g" cx="208.7" cy="244.5" rx="3.45" ry="1.9"/>
<ellipse class="g" cx="274.4" cy="244.7" rx="3.45" ry="1.9"/>
<ellipse class="g" cx="405.8" cy="245.1" rx="3.45" ry="1.9"/>
<ellipse class="g" cx="230.7" cy="245.4" rx="3.45" ry="1.9"/>
<ellipse class="g" cx="427.6" cy="245.4" rx="3.45" ry="1.9"/>
<ellipse class="g" cx="383.9" cy="245.6" rx="3.45" ry="1.9"/>
<ellipse class="g" cx="296.3" cy="245.7" rx="3.45" ry="1.9"/>
<ellipse class="g" cx="165.0" cy="247.5" rx="3.45" ry="1.9"/>
<ellipse class="g" cx="383.9" cy="247.6" rx="3.45" ry="1.9"/>
<ellipse class="y" cx="394.6" cy="248.0" rx="3.45" ry="1.9"/>
<ellipse class="y" cx="153.8" cy="248.5" rx="3.45" ry="1.9"/>
<ellipse class="g" cx="427.6" cy="248.7" rx="3.45" ry="1.9"/>
<ellipse class="g" cx="318.2" cy="249.5" rx="3.45" ry="1.9"/>
<ellipse class="g" cx="230.7" cy="249.7" rx="3.45" ry="1.9"/>
<ellipse class="g" cx="33.5" cy="250.0" rx="3.45" ry="1.9"/>
<ellipse class="y" cx="197.5" cy="250.1" rx="3.45" ry="1.9"/>
<ellipse class="g" cx="274.4" cy="251.0" rx="3.45" ry="1.9"/>
<ellipse class="g" cx="33.5" cy="252.5" rx="3.45" ry="1.9"/>
<ellipse class="g" cx="405.8" cy="253.0" rx="3.45" ry="1.9"/>
<ellipse class="g" cx="252.6" cy="253.5" rx="3.45" ry="1.9"/>
<ellipse class="g" cx="340.2" cy="254.0" rx="3.45" ry="1.9"/>
<ellipse class="g" cx="230.7" cy="254.5" rx="3.45" ry="1.9"/>
<ellipse class="g" cx="449.6" cy="254.6" rx="3.45" ry="1.9"/>
<ellipse class="g" cx="208.7" cy="254.9" rx="3.45" ry="1.9"/>
<ellipse class="g" cx="362.0" cy="255.3" rx="3.45" ry="1.9"/>
<ellipse class="g" cx="318.2" cy="255.5" rx="3.45" ry="1.9"/>
<ellipse class="g" cx="405.8" cy="255.9" rx="3.45" ry="1.9"/>
<ellipse class="g" cx="340.2" cy="256.4" rx="3.45" ry="1.9"/>
<ellipse class="g" cx="383.9" cy="256.6" rx="3.45" ry="1.9"/>
<ellipse class="g" cx="186.9" cy="256.8" rx="3.45" ry="1.9"/>
<ellipse class="y" cx="329.0" cy="256.8" rx="3.45" ry="1.9"/>
<ellipse class="g" cx="274.4" cy="257.7" rx="3.45" ry="1.9"/>
<ellipse class="g" cx="362.0" cy="257.8" rx="3.45" ry="1.9"/>
<ellipse class="g" cx="208.7" cy="258.0" rx="3.45" ry="1.9"/>
<ellipse class="g" cx="427.6" cy="258.0" rx="3.45" ry="1.9"/>
<ellipse class="y" cx="263.2" cy="258.1" rx="3.45" ry="1.9"/>
<ellipse class="g" cx="405.8" cy="258.8" rx="3.45" ry="1.9"/>
<ellipse class="g" cx="252.6" cy="258.9" rx="3.45" ry="1.9"/>
<ellipse class="y" cx="372.7" cy="259.2" rx="3.45" ry="1.9"/>
<ellipse class="g" cx="230.7" cy="259.3" rx="3.45" ry="1.9"/>
<ellipse class="g" cx="274.4" cy="260.6" rx="3.45" ry="1.9"/>
<ellipse class="g" cx="362.0" cy="260.7" rx="3.45" ry="1.9"/>
<ellipse class="y" cx="219.5" cy="260.9" rx="3.45" ry="1.9"/>
<ellipse class="g" cx="427.6" cy="261.0" rx="3.45" ry="1.9"/>
<ellipse class="g" cx="143.1" cy="261.6" rx="3.45" ry="1.9"/>
<ellipse class="g" cx="405.8" cy="262.0" rx="3.45" ry="1.9"/>
<ellipse class="g" cx="230.7" cy="262.2" rx="3.45" ry="1.9"/>
<ellipse class="g" cx="383.9" cy="262.4" rx="3.45" ry="1.9"/>
<ellipse class="y" cx="175.7" cy="262.8" rx="3.45" ry="1.9"/>
<ellipse class="g" cx="274.4" cy="262.9" rx="3.45" ry="1.9"/>
<ellipse class="g" cx="296.3" cy="262.9" rx="3.45" ry="1.9"/>
<ellipse class="g" cx="230.7" cy="264.5" rx="3.45" ry="1.9"/>
<ellipse class="y" cx="438.4" cy="264.7" rx="3.45" ry="1.9"/>
<ellipse class="g" cx="143.1" cy="264.9" rx="3.45" ry="1.9"/>
<ellipse class="g" cx="383.9" cy="264.9" rx="3.45" ry="1.9"/>
<ellipse class="y" cx="307.0" cy="265.1" rx="3.45" ry="1.9"/>
<ellipse class="g" cx="362.0" cy="265.9" rx="3.45" ry="1.9"/>
<ellipse class="g" cx="165.0" cy="268.0" rx="3.45" ry="1.9"/>
<ellipse class="g" cx="362.0" cy="268.2" rx="3.45" ry="1.9"/>
<ellipse class="g" cx="296.3" cy="268.3" rx="3.45" ry="1.9"/>
<ellipse class="g" cx="143.1" cy="268.4" rx="3.45" ry="1.9"/>
<ellipse class="y" cx="285.1" cy="268.7" rx="3.45" ry="1.9"/>
<ellipse class="g" cx="340.2" cy="268.7" rx="3.45" ry="1.9"/>
<ellipse class="y" cx="153.8" cy="269.3" rx="3.45" ry="1.9"/>
<ellipse class="g" cx="252.6" cy="269.4" rx="3.45" ry="1.9"/>
<ellipse class="y" cx="416.4" cy="269.5" rx="3.45" ry="1.9"/>
<ellipse class="g" cx="230.7" cy="269.9" rx="3.45" ry="1.9"/>
<ellipse class="g" cx="296.3" cy="270.3" rx="3.45" ry="1.9"/>
<ellipse class="y" cx="263.2" cy="270.7" rx="3.45" ry="1.9"/>
<ellipse class="g" cx="165.0" cy="271.3" rx="3.45" ry="1.9"/>
<ellipse class="g" cx="449.6" cy="271.5" rx="3.45" ry="1.9"/>
<ellipse class="g" cx="121.3" cy="272.5" rx="3.45" ry="1.9"/>
<ellipse class="g" cx="449.6" cy="272.7" rx="3.45" ry="1.9"/>
<ellipse class="g" cx="186.9" cy="272.8" rx="3.45" ry="1.9"/>
<ellipse class="g" cx="296.3" cy="272.8" rx="3.45" ry="1.9"/>
<ellipse class="y" cx="110.1" cy="274.2" rx="3.45" ry="1.9"/>
<ellipse class="g" cx="165.0" cy="274.2" rx="3.45" ry="1.9"/>
<ellipse class="g" cx="143.1" cy="275.1" rx="3.45" ry="1.9"/>
<ellipse class="g" cx="252.6" cy="275.2" rx="3.45" ry="1.9"/>
<ellipse class="g" cx="121.3" cy="275.5" rx="3.45" ry="1.9"/>
<ellipse class="g" cx="165.0" cy="276.1" rx="3.45" ry="1.9"/>
<ellipse class="g" cx="274.4" cy="276.4" rx="3.45" ry="1.9"/>
<ellipse class="y" cx="22.3" cy="276.6" rx="3.45" ry="1.9"/>
<ellipse class="g" cx="230.7" cy="276.7" rx="3.45" ry="1.9"/>
<ellipse class="g" cx="383.9" cy="277.5" rx="3.45" ry="1.9"/>
<ellipse class="g" cx="143.1" cy="278.0" rx="3.45" ry="1.9"/>
<ellipse class="g" cx="186.9" cy="278.6" rx="3.45" ry="1.9"/>
<ellipse class="g" cx="296.3" cy="279.0" rx="3.45" ry="1.9"/>
<ellipse class="g" cx="230.7" cy="279.6" rx="3.45" ry="1.9"/>
<ellipse class="g" cx="362.0" cy="279.8" rx="3.45" ry="1.9"/>
<ellipse class="g" cx="383.9" cy="280.0" rx="3.45" ry="1.9"/>
<ellipse class="g" cx="340.2" cy="280.9" rx="3.45" ry="1.9"/>
<ellipse class="g" cx="427.6" cy="281.4" rx="3.45" ry="1.9"/>
<ellipse class="g" cx="165.0" cy="281.5" rx="3.45" ry="1.9"/>
<ellipse class="g" cx="252.6" cy="282.1" rx="3.45" ry="1.9"/>
<ellipse class="g" cx="340.2" cy="282.8" rx="3.45" ry="1.9"/>
<ellipse class="y" cx="438.4" cy="282.9" rx="3.45" ry="1.9"/>
<ellipse class="y" cx="350.8" cy="283.3" rx="3.45" ry="1.9"/>
<ellipse class="y" cx="88.1" cy="283.8" rx="3.45" ry="1.9"/>
<ellipse class="g" cx="296.3" cy="283.8" rx="3.45" ry="1.9"/>
<ellipse class="g" cx="383.9" cy="283.9" rx="3.45" ry="1.9"/>
<ellipse class="g" cx="121.3" cy="284.5" rx="3.45" ry="1.9"/>
<ellipse class="g" cx="252.6" cy="285.4" rx="3.45" ry="1.9"/>
<ellipse class="g" cx="186.9" cy="286.0" rx="3.45" ry="1.9"/>
<ellipse class="y" cx="350.8" cy="286.2" rx="3.45" ry="1.9"/>
<ellipse class="g" cx="362.0" cy="286.2" rx="3.45" ry="1.9"/>
<ellipse class="g" cx="405.8" cy="286.2" rx="3.45" ry="1.9"/>
<ellipse class="g" cx="208.7" cy="286.4" rx="3.45" ry="1.9"/>
<ellipse class="g" cx="230.7" cy="286.4" rx="3.45" ry="1.9"/>
<ellipse class="g" cx="274.4" cy="286.7" rx="3.45" ry="1.9"/>
<ellipse class="g" cx="143.1" cy="286.9" rx="3.45" ry="1.9"/>
<ellipse class="g" cx="165.0" cy="286.9" rx="3.45" ry="1.9"/>
<ellipse class="g" cx="121.3" cy="287.0" rx="3.45" ry="1.9"/>
<ellipse class="g" cx="318.2" cy="287.1" rx="3.45" ry="1.9"/>
<ellipse class="g" cx="296.3" cy="287.3" rx="3.45" ry="1.9"/>
<ellipse class="g" cx="449.6" cy="287.7" rx="3.45" ry="1.9"/>
<ellipse class="y" cx="219.5" cy="288.9" rx="3.45" ry="1.9"/>
<ellipse class="g" cx="405.8" cy="289.1" rx="3.45" ry="1.9"/>
<ellipse class="g" cx="186.9" cy="289.2" rx="3.45" ry="1.9"/>
<ellipse class="g" cx="252.6" cy="289.2" rx="3.45" ry="1.9"/>
<ellipse class="g" cx="208.7" cy="290.2" rx="3.45" ry="1.9"/>
<ellipse class="g" cx="362.0" cy="291.4" rx="3.45" ry="1.9"/>
<ellipse class="g" cx="405.8" cy="292.0" rx="3.45" ry="1.9"/>
<ellipse class="y" cx="372.7" cy="293.3" rx="3.45" ry="1.9"/>
<ellipse class="y" cx="438.4" cy="294.0" rx="3.45" ry="1.9"/>
<ellipse class="g" cx="449.6" cy="294.0" rx="3.45" ry="1.9"/>
<ellipse class="g" cx="383.9" cy="294.5" rx="3.45" ry="1.9"/>
<ellipse class="g" cx="362.0" cy="294.9" rx="3.45" ry="1.9"/>
<ellipse class="g" cx="208.7" cy="295.0" rx="3.45" ry="1.9"/>
<ellipse class="y" cx="394.6" cy="295.1" rx="3.45" ry="1.9"/>
<ellipse class="g" cx="340.2" cy="295.4" rx="3.45" ry="1.9"/>
<ellipse class="g" cx="449.6" cy="295.7" rx="3.45" ry="1.9"/>
<ellipse class="g" cx="99.3" cy="295.8" rx="3.45" ry="1.9"/>
<ellipse class="y" cx="110.1" cy="295.8" rx="3.45" ry="1.9"/>
<ellipse class="g" cx="121.3" cy="295.8" rx="3.45" ry="1.9"/>
<ellipse class="y" cx="263.2" cy="295.8" rx="3.45" ry="1.9"/>
<ellipse class="g" cx="252.6" cy="296.6" rx="3.45" ry="1.9"/>
<ellipse class="g" cx="296.3" cy="296.9" rx="3.45" ry="1.9"/>
<ellipse class="g" cx="230.7" cy="297.0" rx="3.45" ry="1.9"/>
<ellipse class="g" cx="318.2" cy="297.3" rx="3.45" ry="1.9"/>
<ellipse class="y" cx="350.8" cy="297.8" rx="3.45" ry="1.9"/>
<ellipse class="y" cx="394.6" cy="297.8" rx="3.45" ry="1.9"/>
<ellipse class="g" cx="77.3" cy="298.2" rx="3.45" ry="1.9"/>
<ellipse class="g" cx="274.4" cy="298.6" rx="3.45" ry="1.9"/>
<ellipse class="g" cx="340.2" cy="298.6" rx="3.45" ry="1.9"/>
<ellipse class="g" cx="427.6" cy="299.0" rx="3.45" ry="1.9"/>
<ellipse class="g" cx="296.3" cy="299.2" rx="3.45" ry="1.9"/>
<ellipse class="g" cx="252.6" cy="299.5" rx="3.45" ry="1.9"/>
<ellipse class="y" cx="153.8" cy="299.8" rx="3.45" ry="1.9"/>
<ellipse class="g" cx="318.2" cy="299.8" rx="3.45" ry="1.9"/>
<ellipse class="g" cx="208.7" cy="300.3" rx="3.45" ry="1.9"/>
<ellipse class="g" cx="165.0" cy="300.8" rx="3.45" ry="1.9"/>
<ellipse class="g" cx="230.7" cy="301.4" rx="3.45" ry="1.9"/>
<ellipse class="g" cx="296.3" cy="301.7" rx="3.45" ry="1.9"/>
<ellipse class="g" cx="186.9" cy="302.4" rx="3.45" ry="1.9"/>
<ellipse class="y" cx="307.0" cy="303.1" rx="3.45" ry="1.9"/>
<ellipse class="g" cx="449.6" cy="303.3" rx="3.45" ry="1.9"/>
<ellipse class="g" cx="165.0" cy="304.1" rx="3.45" ry="1.9"/>
<ellipse class="g" cx="362.0" cy="304.1" rx="3.45" ry="1.9"/>
<ellipse class="g" cx="186.9" cy="305.3" rx="3.45" ry="1.9"/>
<ellipse class="g" cx="121.3" cy="306.6" rx="3.45" ry="1.9"/>
<ellipse class="g" cx="143.1" cy="306.6" rx="3.45" ry="1.9"/>
<ellipse class="y" cx="394.6" cy="306.8" rx="3.45" ry="1.9"/>
<ellipse class="g" cx="186.9" cy="307.2" rx="3.45" ry="1.9"/>
<ellipse class="g" cx="427.6" cy="307.4" rx="3.45" ry="1.9"/>
<ellipse class="g" cx="99.3" cy="308.3" rx="3.45" ry="1.9"/>
<ellipse class="g" cx="362.0" cy="308.4" rx="3.45" ry="1.9"/>
<ellipse class="g" cx="427.6" cy="309.2" rx="3.45" ry="1.9"/>
<ellipse class="g" cx="121.3" cy="309.9" rx="3.45" ry="1.9"/>
<ellipse class="g" cx="208.7" cy="310.2" rx="3.45" ry="1.9"/>
<ellipse class="g" cx="274.4" cy="310.8" rx="3.45" ry="1.9"/>
<ellipse class="g" cx="33.5" cy="311.3" rx="3.45" ry="1.9"/>
<ellipse class="g" cx="143.1" cy="311.4" rx="3.45" ry="1.9"/>
<ellipse class="g" cx="340.2" cy="311.4" rx="3.45" ry="1.9"/>
<ellipse class="y" cx="350.8" cy="312.7" rx="3.45" ry="1.9"/>
<ellipse class="y" cx="110.1" cy="313.1" rx="3.45" ry="1.9"/>
<ellipse class="g" cx="427.6" cy="313.5" rx="3.45" ry="1.9"/>
<ellipse class="g" cx="230.7" cy="313.6" rx="3.45" ry="1.9"/>
<ellipse class="g" cx="252.6" cy="313.6" rx="3.45" ry="1.9"/>
<ellipse class="y" cx="88.1" cy="314.2" rx="3.45" ry="1.9"/>
<ellipse class="g" cx="340.2" cy="314.7" rx="3.45" ry="1.9"/>
<ellipse class="y" cx="131.9" cy="315.7" rx="3.45" ry="1.9"/>
<ellipse class="y" cx="153.8" cy="315.7" rx="3.45" ry="1.9"/>
<ellipse class="g" cx="449.6" cy="316.1" rx="3.45" ry="1.9"/>
<ellipse class="g" cx="143.1" cy="316.6" rx="3.45" ry="1.9"/>
<ellipse class="g" cx="340.2" cy="316.6" rx="3.45" ry="1.9"/>
<ellipse class="g" cx="230.7" cy="316.8" rx="3.45" ry="1.9"/>
<ellipse class="g" cx="33.5" cy="317.1" rx="3.45" ry="1.9"/>
<ellipse class="g" cx="362.0" cy="317.9" rx="3.45" ry="1.9"/>
<ellipse class="g" cx="230.7" cy="318.7" rx="3.45" ry="1.9"/>
<ellipse class="g" cx="121.3" cy="320.1" rx="3.45" ry="1.9"/>
<ellipse class="g" cx="143.1" cy="320.1" rx="3.45" ry="1.9"/>
<ellipse class="y" cx="88.1" cy="320.4" rx="3.45" ry="1.9"/>
<ellipse class="g" cx="186.9" cy="321.0" rx="3.45" ry="1.9"/>
<ellipse class="y" cx="263.2" cy="321.0" rx="3.45" ry="1.9"/>
<ellipse class="y" cx="22.3" cy="321.6" rx="3.45" ry="1.9"/>
<ellipse class="g" cx="165.0" cy="321.7" rx="3.45" ry="1.9"/>
<ellipse class="g" cx="405.8" cy="322.0" rx="3.45" ry="1.9"/>
<ellipse class="g" cx="208.7" cy="322.5" rx="3.45" ry="1.9"/>
<ellipse class="y" cx="438.4" cy="322.9" rx="3.45" ry="1.9"/>
<ellipse class="g" cx="427.6" cy="323.0" rx="3.45" ry="1.9"/>
<ellipse class="y" cx="131.9" cy="323.4" rx="3.45" ry="1.9"/>
<ellipse class="g" cx="340.2" cy="323.9" rx="3.45" ry="1.9"/>
<ellipse class="g" cx="165.0" cy="324.0" rx="3.45" ry="1.9"/>
<ellipse class="g" cx="296.3" cy="324.3" rx="3.45" ry="1.9"/>
<ellipse class="g" cx="99.3" cy="324.4" rx="3.45" ry="1.9"/>
<ellipse class="g" cx="230.7" cy="324.5" rx="3.45" ry="1.9"/>
<ellipse class="y" cx="241.4" cy="324.5" rx="3.45" ry="1.9"/>
<ellipse class="y" cx="263.2" cy="324.7" rx="3.45" ry="1.9"/>
<ellipse class="y" cx="285.1" cy="325.7" rx="3.45" ry="1.9"/>
<ellipse class="g" cx="121.3" cy="326.8" rx="3.45" ry="1.9"/>
<ellipse class="g" cx="274.4" cy="326.8" rx="3.45" ry="1.9"/>
<ellipse class="g" cx="33.5" cy="327.2" rx="3.45" ry="1.9"/>
<ellipse class="g" cx="99.3" cy="327.7" rx="3.45" ry="1.9"/>
<ellipse class="g" cx="362.0" cy="328.2" rx="3.45" ry="1.9"/>
<ellipse class="y" cx="372.7" cy="329.1" rx="3.45" ry="1.9"/>
<ellipse class="g" cx="296.3" cy="329.2" rx="3.45" ry="1.9"/>
<ellipse class="g" cx="33.5" cy="330.6" rx="3.45" ry="1.9"/>
<ellipse class="g" cx="405.8" cy="330.7" rx="3.45" ry="1.9"/>
<ellipse class="g" cx="252.6" cy="330.8" rx="3.45" ry="1.9"/>
<ellipse class="g" cx="340.2" cy="331.1" rx="3.45" ry="1.9"/>
<ellipse class="y" cx="438.4" cy="331.3" rx="3.45" ry="1.9"/>
<ellipse class="g" cx="121.3" cy="331.6" rx="3.45" ry="1.9"/>
<ellipse class="g" cx="230.7" cy="331.8" rx="3.45" ry="1.9"/>
<ellipse class="y" cx="263.2" cy="332.0" rx="3.45" ry="1.9"/>
<ellipse class="g" cx="186.9" cy="332.2" rx="3.45" ry="1.9"/>
<ellipse class="g" cx="405.8" cy="332.6" rx="3.45" ry="1.9"/>
<ellipse class="g" cx="296.3" cy="333.0" rx="3.45" ry="1.9"/>
<ellipse class="g" cx="33.5" cy="333.5" rx="3.45" ry="1.9"/>
<ellipse class="g" cx="449.6" cy="333.8" rx="3.45" ry="1.9"/>
<ellipse class="g" cx="340.2" cy="334.0" rx="3.45" ry="1.9"/>
<ellipse class="g" cx="121.3" cy="334.1" rx="3.45" ry="1.9"/>
<ellipse class="g" cx="383.9" cy="334.3" rx="3.45" ry="1.9"/>
<ellipse class="g" cx="165.0" cy="334.5" rx="3.45" ry="1.9"/>
<ellipse class="g" cx="186.9" cy="334.5" rx="3.45" ry="1.9"/>
<ellipse class="y" cx="263.2" cy="334.9" rx="3.45" ry="1.9"/>
<ellipse class="g" cx="296.3" cy="335.5" rx="3.45" ry="1.9"/>
<ellipse class="g" cx="274.4" cy="335.9" rx="3.45" ry="1.9"/>
<ellipse class="y" cx="131.9" cy="336.4" rx="3.45" ry="1.9"/>
<ellipse class="y" cx="394.6" cy="336.5" rx="3.45" ry="1.9"/>
<ellipse class="y" cx="263.2" cy="337.8" rx="3.45" ry="1.9"/>
<ellipse class="g" cx="230.7" cy="338.0" rx="3.45" ry="1.9"/>
<ellipse class="g" cx="274.4" cy="339.2" rx="3.45" ry="1.9"/>
<ellipse class="g" cx="362.0" cy="340.1" rx="3.45" ry="1.9"/>
<ellipse class="g" cx="165.0" cy="340.3" rx="3.45" ry="1.9"/>
<ellipse class="g" cx="318.2" cy="340.3" rx="3.45" ry="1.9"/>
<ellipse class="g" cx="208.7" cy="340.5" rx="3.45" ry="1.9"/>
<ellipse class="g" cx="296.3" cy="340.7" rx="3.45" ry="1.9"/>
<ellipse class="y" cx="153.8" cy="340.8" rx="3.45" ry="1.9"/>
<ellipse class="g" cx="230.7" cy="340.9" rx="3.45" ry="1.9"/>
<ellipse class="g" cx="143.1" cy="341.6" rx="3.45" ry="1.9"/>
<ellipse class="g" cx="208.7" cy="342.4" rx="3.45" ry="1.9"/>
<ellipse class="g" cx="165.0" cy="342.8" rx="3.45" ry="1.9"/>
<ellipse class="g" cx="121.3" cy="343.6" rx="3.45" ry="1.9"/>
<ellipse class="g" cx="427.6" cy="343.6" rx="3.45" ry="1.9"/>
<ellipse class="g" cx="449.6" cy="343.8" rx="3.45" ry="1.9"/>
<ellipse class="g" cx="274.4" cy="344.0" rx="3.45" ry="1.9"/>
<ellipse class="g" cx="143.1" cy="344.7" rx="3.45" ry="1.9"/>
<ellipse class="g" cx="186.9" cy="344.7" rx="3.45" ry="1.9"/>
<ellipse class="g" cx="208.7" cy="344.7" rx="3.45" ry="1.9"/>
<ellipse class="g" cx="296.3" cy="345.0" rx="3.45" ry="1.9"/>
<ellipse class="g" cx="362.0" cy="345.2" rx="3.45" ry="1.9"/>
<ellipse class="y" cx="438.4" cy="345.2" rx="3.45" ry="1.9"/>
<ellipse class="y" cx="307.0" cy="346.9" rx="3.45" ry="1.9"/>
<ellipse class="g" cx="252.6" cy="347.6" rx="3.45" ry="1.9"/>
<ellipse class="g" cx="165.0" cy="348.0" rx="3.45" ry="1.9"/>
<ellipse class="g" cx="296.3" cy="348.1" rx="3.45" ry="1.9"/>
<ellipse class="g" cx="77.3" cy="349.2" rx="3.45" ry="1.9"/>
<ellipse class="g" cx="208.7" cy="350.0" rx="3.45" ry="1.9"/>
<ellipse class="g" cx="274.4" cy="350.4" rx="3.45" ry="1.9"/>
<ellipse class="g" cx="383.9" cy="350.4" rx="3.45" ry="1.9"/>
<ellipse class="g" cx="165.0" cy="350.9" rx="3.45" ry="1.9"/>
<ellipse class="y" cx="438.4" cy="351.2" rx="3.45" ry="1.9"/>
<ellipse class="g" cx="186.9" cy="351.3" rx="3.45" ry="1.9"/>
<ellipse class="g" cx="362.0" cy="351.3" rx="3.45" ry="1.9"/>
<ellipse class="g" cx="449.6" cy="351.4" rx="3.45" ry="1.9"/>
<ellipse class="g" cx="77.3" cy="352.3" rx="3.45" ry="1.9"/>
<ellipse class="y" cx="263.2" cy="352.3" rx="3.45" ry="1.9"/>
<ellipse class="g" cx="230.7" cy="352.5" rx="3.45" ry="1.9"/>
<ellipse class="g" cx="208.7" cy="352.9" rx="3.45" ry="1.9"/>
<ellipse class="g" cx="274.4" cy="352.9" rx="3.45" ry="1.9"/>
<ellipse class="y" cx="285.1" cy="353.3" rx="3.45" ry="1.9"/>
<ellipse class="g" cx="143.1" cy="353.4" rx="3.45" ry="1.9"/>
<ellipse class="g" cx="77.3" cy="354.4" rx="3.45" ry="1.9"/>
<ellipse class="g" cx="252.6" cy="354.4" rx="3.45" ry="1.9"/>
<ellipse class="g" cx="230.7" cy="354.8" rx="3.45" ry="1.9"/>
<ellipse class="y" cx="131.9" cy="355.1" rx="3.45" ry="1.9"/>
<ellipse class="y" cx="416.4" cy="355.2" rx="3.45" ry="1.9"/>
<ellipse class="g" cx="186.9" cy="355.6" rx="3.45" ry="1.9"/>
<ellipse class="g" cx="274.4" cy="355.6" rx="3.45" ry="1.9"/>
<ellipse class="y" cx="438.4" cy="356.0" rx="3.45" ry="1.9"/>
<ellipse class="g" cx="449.6" cy="358.6" rx="3.45" ry="1.9"/>
<ellipse class="g" cx="121.3" cy="359.2" rx="3.45" ry="1.9"/>
<ellipse class="g" cx="143.1" cy="359.6" rx="3.45" ry="1.9"/>
<ellipse class="g" cx="383.9" cy="360.0" rx="3.45" ry="1.9"/>
<ellipse class="y" cx="110.1" cy="360.2" rx="3.45" ry="1.9"/>
<ellipse class="g" cx="230.7" cy="360.2" rx="3.45" ry="1.9"/>
<ellipse class="g" cx="208.7" cy="360.6" rx="3.45" ry="1.9"/>
<ellipse class="g" cx="362.0" cy="360.6" rx="3.45" ry="1.9"/>
<ellipse class="y" cx="350.8" cy="361.6" rx="3.45" ry="1.9"/>
<ellipse class="g" cx="55.4" cy="361.9" rx="3.45" ry="1.9"/>
<ellipse class="g" cx="186.9" cy="362.5" rx="3.45" ry="1.9"/>
<ellipse class="g" cx="143.1" cy="363.0" rx="3.45" ry="1.9"/>
<ellipse class="y" cx="22.3" cy="363.5" rx="3.45" ry="1.9"/>
<ellipse class="g" cx="296.3" cy="363.9" rx="3.45" ry="1.9"/>
<ellipse class="y" cx="350.8" cy="363.9" rx="3.45" ry="1.9"/>
<ellipse class="g" cx="340.2" cy="364.3" rx="3.45" ry="1.9"/>
<ellipse class="y" cx="372.7" cy="364.3" rx="3.45" ry="1.9"/>
<ellipse class="g" cx="121.3" cy="364.4" rx="3.45" ry="1.9"/>
<ellipse class="y" cx="241.4" cy="364.6" rx="3.45" ry="1.9"/>
<ellipse class="g" cx="449.6" cy="365.1" rx="3.45" ry="1.9"/>
<ellipse class="g" cx="383.9" cy="365.4" rx="3.45" ry="1.9"/>
<ellipse class="g" cx="208.7" cy="365.6" rx="3.45" ry="1.9"/>
<ellipse class="g" cx="252.6" cy="365.6" rx="3.45" ry="1.9"/>
<ellipse class="g" cx="143.1" cy="365.8" rx="3.45" ry="1.9"/>
<ellipse class="g" cx="318.2" cy="366.8" rx="3.45" ry="1.9"/>
<ellipse class="g" cx="208.7" cy="367.0" rx="3.45" ry="1.9"/>
<ellipse class="g" cx="362.0" cy="367.2" rx="3.45" ry="1.9"/>
<ellipse class="y" cx="44.2" cy="367.3" rx="3.45" ry="1.9"/>
<ellipse class="g" cx="383.9" cy="367.4" rx="3.45" ry="1.9"/>
<ellipse class="g" cx="449.6" cy="367.7" rx="3.45" ry="1.9"/>
<ellipse class="g" cx="274.4" cy="367.8" rx="3.45" ry="1.9"/>
<ellipse class="y" cx="307.0" cy="367.8" rx="3.45" ry="1.9"/>
<ellipse class="g" cx="230.7" cy="367.9" rx="3.45" ry="1.9"/>
<ellipse class="g" cx="405.8" cy="369.3" rx="3.45" ry="1.9"/>
<ellipse class="g" cx="449.6" cy="370.3" rx="3.45" ry="1.9"/>
<ellipse class="g" cx="77.3" cy="370.8" rx="3.45" ry="1.9"/>
<ellipse class="y" cx="329.0" cy="371.2" rx="3.45" ry="1.9"/>
<ellipse class="g" cx="296.3" cy="371.6" rx="3.45" ry="1.9"/>
<ellipse class="g" cx="99.3" cy="372.1" rx="3.45" ry="1.9"/>
<ellipse class="g" cx="121.3" cy="372.1" rx="3.45" ry="1.9"/>
<ellipse class="g" cx="405.8" cy="372.2" rx="3.45" ry="1.9"/>
<ellipse class="g" cx="55.4" cy="373.1" rx="3.45" ry="1.9"/>
<ellipse class="g" cx="362.0" cy="374.5" rx="3.45" ry="1.9"/>
<ellipse class="g" cx="230.7" cy="375.3" rx="3.45" ry="1.9"/>
<ellipse class="g" cx="340.2" cy="375.7" rx="3.45" ry="1.9"/>
<ellipse class="y" cx="219.5" cy="376.6" rx="3.45" ry="1.9"/>
<ellipse class="y" cx="44.2" cy="377.7" rx="3.45" ry="1.9"/>
<ellipse class="g" cx="165.0" cy="377.9" rx="3.45" ry="1.9"/>
<ellipse class="g" cx="318.2" cy="378.5" rx="3.45" ry="1.9"/>
<ellipse class="g" cx="340.2" cy="379.4" rx="3.45" ry="1.9"/>
<ellipse class="g" cx="449.6" cy="379.4" rx="3.45" ry="1.9"/>
<ellipse class="g" cx="186.9" cy="379.5" rx="3.45" ry="1.9"/>
<ellipse class="g" cx="252.6" cy="379.5" rx="3.45" ry="1.9"/>
<ellipse class="y" cx="307.0" cy="379.7" rx="3.45" ry="1.9"/>
<ellipse class="g" cx="383.9" cy="380.3" rx="3.45" ry="1.9"/>
<ellipse class="g" cx="362.0" cy="380.9" rx="3.45" ry="1.9"/>
<ellipse class="g" cx="186.9" cy="382.0" rx="3.45" ry="1.9"/>
<ellipse class="y" cx="285.1" cy="382.1" rx="3.45" ry="1.9"/>
<ellipse class="y" cx="219.5" cy="382.4" rx="3.45" ry="1.9"/>
<ellipse class="g" cx="77.3" cy="382.8" rx="3.45" ry="1.9"/>
<ellipse class="g" cx="165.0" cy="384.1" rx="3.45" ry="1.9"/>
<ellipse class="g" cx="55.4" cy="384.3" rx="3.45" ry="1.9"/>
<ellipse class="g" cx="362.0" cy="385.7" rx="3.45" ry="1.9"/>
<ellipse class="y" cx="285.1" cy="386.2" rx="3.45" ry="1.9"/>
<ellipse class="g" cx="33.5" cy="386.6" rx="3.45" ry="1.9"/>
<ellipse class="g" cx="143.1" cy="388.0" rx="3.45" ry="1.9"/>
<ellipse class="y" cx="372.7" cy="388.4" rx="3.45" ry="1.9"/>
<ellipse class="g" cx="99.3" cy="388.5" rx="3.45" ry="1.9"/>
<ellipse class="g" cx="121.3" cy="388.5" rx="3.45" ry="1.9"/>
<ellipse class="y" cx="175.7" cy="388.8" rx="3.45" ry="1.9"/>
<ellipse class="g" cx="340.2" cy="388.9" rx="3.45" ry="1.9"/>
<ellipse class="y" cx="88.1" cy="389.1" rx="3.45" ry="1.9"/>
<ellipse class="g" cx="405.8" cy="389.4" rx="3.45" ry="1.9"/>
<ellipse class="g" cx="252.6" cy="389.7" rx="3.45" ry="1.9"/>
<ellipse class="y" cx="285.1" cy="390.1" rx="3.45" ry="1.9"/>
<ellipse class="g" cx="274.4" cy="390.4" rx="3.45" ry="1.9"/>
<ellipse class="g" cx="318.2" cy="390.4" rx="3.45" ry="1.9"/>
<ellipse class="g" cx="121.3" cy="392.0" rx="3.45" ry="1.9"/>
<ellipse class="y" cx="66.1" cy="392.2" rx="3.45" ry="1.9"/>
<ellipse class="y" cx="416.4" cy="392.5" rx="3.45" ry="1.9"/>
<ellipse class="g" cx="427.6" cy="392.6" rx="3.45" ry="1.9"/>
<ellipse class="g" cx="165.0" cy="393.4" rx="3.45" ry="1.9"/>
<ellipse class="g" cx="383.9" cy="393.8" rx="3.45" ry="1.9"/>
<ellipse class="g" cx="55.4" cy="394.7" rx="3.45" ry="1.9"/>
<ellipse class="y" cx="175.7" cy="394.9" rx="3.45" ry="1.9"/>
<ellipse class="g" cx="230.7" cy="394.9" rx="3.45" ry="1.9"/>
<ellipse class="y" cx="307.0" cy="394.9" rx="3.45" ry="1.9"/>
<ellipse class="g" cx="318.2" cy="394.9" rx="3.45" ry="1.9"/>
<ellipse class="g" cx="165.0" cy="396.3" rx="3.45" ry="1.9"/>
<ellipse class="g" cx="362.0" cy="396.3" rx="3.45" ry="1.9"/>
<ellipse class="y" cx="153.8" cy="396.6" rx="3.45" ry="1.9"/>
<ellipse class="g" cx="427.6" cy="396.6" rx="3.45" ry="1.9"/>
<ellipse class="g" cx="383.9" cy="396.7" rx="3.45" ry="1.9"/>
<ellipse class="g" cx="121.3" cy="396.8" rx="3.45" ry="1.9"/>
<ellipse class="y" cx="350.8" cy="397.3" rx="3.45" ry="1.9"/>
<ellipse class="y" cx="88.1" cy="397.8" rx="3.45" ry="1.9"/>
<ellipse class="g" cx="230.7" cy="398.2" rx="3.45" ry="1.9"/>
<ellipse class="g" cx="296.3" cy="398.6" rx="3.45" ry="1.9"/>
<ellipse class="g" cx="121.3" cy="398.8" rx="3.45" ry="1.9"/>
<ellipse class="g" cx="318.2" cy="399.1" rx="3.45" ry="1.9"/>
<ellipse class="y" cx="307.0" cy="399.5" rx="3.45" ry="1.9"/>
<ellipse class="y" cx="329.0" cy="399.5" rx="3.45" ry="1.9"/>
<ellipse class="y" cx="241.4" cy="399.8" rx="3.45" ry="1.9"/>
<ellipse class="g" cx="274.4" cy="400.1" rx="3.45" ry="1.9"/>
<ellipse class="y" cx="44.2" cy="400.4" rx="3.45" ry="1.9"/>
<ellipse class="g" cx="55.4" cy="400.4" rx="3.45" ry="1.9"/>
<ellipse class="g" cx="165.0" cy="400.7" rx="3.45" ry="1.9"/>
<ellipse class="y" cx="438.4" cy="401.0" rx="3.45" ry="1.9"/>
<ellipse class="g" cx="405.8" cy="401.5" rx="3.45" ry="1.9"/>
<ellipse class="y" cx="241.4" cy="401.7" rx="3.45" ry="1.9"/>
<ellipse class="g" cx="383.9" cy="401.9" rx="3.45" ry="1.9"/>
<ellipse class="g" cx="55.4" cy="402.0" rx="3.45" ry="1.9"/>
<ellipse class="y" cx="44.2" cy="402.4" rx="3.45" ry="1.9"/>
<ellipse class="y" cx="372.7" cy="402.5" rx="3.45" ry="1.9"/>
<ellipse class="y" cx="175.7" cy="403.0" rx="3.45" ry="1.9"/>
<ellipse class="g" cx="405.8" cy="403.1" rx="3.45" ry="1.9"/>
<ellipse class="g" cx="99.3" cy="403.6" rx="3.45" ry="1.9"/>
<ellipse class="g" cx="252.6" cy="403.8" rx="3.45" ry="1.9"/>
<ellipse class="g" cx="296.3" cy="404.0" rx="3.45" ry="1.9"/>
<ellipse class="g" cx="274.4" cy="404.5" rx="3.45" ry="1.9"/>
<ellipse class="g" cx="143.1" cy="404.9" rx="3.45" ry="1.9"/>
<ellipse class="g" cx="208.7" cy="405.0" rx="3.45" ry="1.9"/>
<ellipse class="g" cx="121.3" cy="405.5" rx="3.45" ry="1.9"/>
<ellipse class="g" cx="296.3" cy="405.9" rx="3.45" ry="1.9"/>
<ellipse class="y" cx="219.5" cy="406.1" rx="3.45" ry="1.9"/>
<ellipse class="g" cx="55.4" cy="406.8" rx="3.45" ry="1.9"/>
<ellipse class="g" cx="383.9" cy="407.7" rx="3.45" ry="1.9"/>
<ellipse class="g" cx="143.1" cy="407.8" rx="3.45" ry="1.9"/>
<ellipse class="g" cx="449.6" cy="408.2" rx="3.45" ry="1.9"/>
<ellipse class="g" cx="208.7" cy="409.4" rx="3.45" ry="1.9"/>
<ellipse class="g" cx="99.3" cy="410.7" rx="3.45" ry="1.9"/>
<ellipse class="g" cx="143.1" cy="410.7" rx="3.45" ry="1.9"/>
<ellipse class="g" cx="165.0" cy="410.7" rx="3.45" ry="1.9"/>
<ellipse class="g" cx="274.4" cy="410.9" rx="3.45" ry="1.9"/>
<ellipse class="g" cx="99.3" cy="412.3" rx="3.45" ry="1.9"/>
<ellipse class="g" cx="208.7" cy="412.3" rx="3.45" ry="1.9"/>
<ellipse class="y" cx="88.1" cy="412.5" rx="3.45" ry="1.9"/>
<ellipse class="g" cx="405.8" cy="412.5" rx="3.45" ry="1.9"/>
<ellipse class="g" cx="296.3" cy="412.6" rx="3.45" ry="1.9"/>
<ellipse class="g" cx="165.0" cy="413.6" rx="3.45" ry="1.9"/>
<ellipse class="g" cx="230.7" cy="414.6" rx="3.45" ry="1.9"/>
<ellipse class="g" cx="186.9" cy="415.2" rx="3.45" ry="1.9"/>
<ellipse class="g" cx="427.6" cy="415.3" rx="3.45" ry="1.9"/>
<ellipse class="y" cx="175.7" cy="415.8" rx="3.45" ry="1.9"/>
<ellipse class="g" cx="252.6" cy="416.2" rx="3.45" ry="1.9"/>
<ellipse class="g" cx="274.4" cy="416.5" rx="3.45" ry="1.9"/>
<ellipse class="g" cx="340.2" cy="416.5" rx="3.45" ry="1.9"/>
<ellipse class="g" cx="362.0" cy="416.6" rx="3.45" ry="1.9"/>
<ellipse class="g" cx="99.3" cy="416.9" rx="3.45" ry="1.9"/>
<ellipse class="y" cx="438.4" cy="417.3" rx="3.45" ry="1.9"/>
<ellipse class="g" cx="77.3" cy="417.8" rx="3.45" ry="1.9"/>
<ellipse class="g" cx="165.0" cy="418.1" rx="3.45" ry="1.9"/>
<ellipse class="g" cx="362.0" cy="418.9" rx="3.45" ry="1.9"/>
<ellipse class="g" cx="55.4" cy="419.4" rx="3.45" ry="1.9"/>
<ellipse class="g" cx="318.2" cy="419.8" rx="3.45" ry="1.9"/>
<ellipse class="g" cx="143.1" cy="420.4" rx="3.45" ry="1.9"/>
<ellipse class="g" cx="405.8" cy="420.4" rx="3.45" ry="1.9"/>
<ellipse class="y" cx="175.7" cy="420.6" rx="3.45" ry="1.9"/>
<ellipse class="g" cx="99.3" cy="421.4" rx="3.45" ry="1.9"/>
<ellipse class="y" cx="219.5" cy="421.6" rx="3.45" ry="1.9"/>
<ellipse class="g" cx="33.5" cy="422.6" rx="3.45" ry="1.9"/>
<ellipse class="g" cx="383.9" cy="422.8" rx="3.45" ry="1.9"/>
<ellipse class="g" cx="427.6" cy="423.2" rx="3.45" ry="1.9"/>
<ellipse class="g" cx="274.4" cy="423.3" rx="3.45" ry="1.9"/>
<ellipse class="g" cx="296.3" cy="423.3" rx="3.45" ry="1.9"/>
<ellipse class="g" cx="186.9" cy="423.5" rx="3.45" ry="1.9"/>
<ellipse class="g" cx="99.3" cy="423.7" rx="3.45" ry="1.9"/>
<ellipse class="g" cx="55.4" cy="424.6" rx="3.45" ry="1.9"/>
<ellipse class="g" cx="427.6" cy="425.3" rx="3.45" ry="1.9"/>
<ellipse class="g" cx="33.5" cy="425.5" rx="3.45" ry="1.9"/>
<ellipse class="y" cx="285.1" cy="425.6" rx="3.45" ry="1.9"/>
<ellipse class="y" cx="350.8" cy="426.0" rx="3.45" ry="1.9"/>
<ellipse class="y" cx="372.7" cy="426.0" rx="3.45" ry="1.9"/>
<ellipse class="y" cx="329.0" cy="426.7" rx="3.45" ry="1.9"/>
<ellipse class="g" cx="186.9" cy="427.2" rx="3.45" ry="1.9"/>
<ellipse class="g" cx="208.7" cy="427.4" rx="3.45" ry="1.9"/>
<ellipse class="y" cx="66.1" cy="427.5" rx="3.45" ry="1.9"/>
<ellipse class="g" cx="121.3" cy="427.7" rx="3.45" ry="1.9"/>
<ellipse class="g" cx="318.2" cy="427.7" rx="3.45" ry="1.9"/>
<ellipse class="y" cx="110.1" cy="428.1" rx="3.45" ry="1.9"/>
<ellipse class="g" cx="165.0" cy="428.1" rx="3.45" ry="1.9"/>
<ellipse class="g" cx="405.8" cy="428.6" rx="3.45" ry="1.9"/>
<ellipse class="g" cx="33.5" cy="429.0" rx="3.45" ry="1.9"/>
<ellipse class="g" cx="77.3" cy="429.0" rx="3.45" ry="1.9"/>
<ellipse class="g" cx="252.6" cy="429.3" rx="3.45" ry="1.9"/>
<ellipse class="g" cx="362.0" cy="429.5" rx="3.45" ry="1.9"/>
<ellipse class="g" cx="383.9" cy="429.5" rx="3.45" ry="1.9"/>
<ellipse class="g" cx="427.6" cy="429.5" rx="3.45" ry="1.9"/>
<ellipse class="y" cx="110.1" cy="430.0" rx="3.45" ry="1.9"/>
<ellipse class="y" cx="372.7" cy="430.5" rx="3.45" ry="1.9"/>
<ellipse class="g" cx="55.4" cy="430.8" rx="3.45" ry="1.9"/>
<ellipse class="g" cx="165.0" cy="431.0" rx="3.45" ry="1.9"/>
<ellipse class="g" cx="274.4" cy="431.0" rx="3.45" ry="1.9"/>
<ellipse class="g" cx="427.6" cy="431.0" rx="3.45" ry="1.9"/>
<ellipse class="g" cx="208.7" cy="431.2" rx="3.45" ry="1.9"/>
<ellipse class="y" cx="416.4" cy="431.3" rx="3.45" ry="1.9"/>
<ellipse class="g" cx="230.7" cy="431.6" rx="3.45" ry="1.9"/>
<ellipse class="g" cx="77.3" cy="432.3" rx="3.45" ry="1.9"/>
<ellipse class="g" cx="383.9" cy="432.8" rx="3.45" ry="1.9"/>
<ellipse class="g" cx="99.3" cy="433.3" rx="3.45" ry="1.9"/>
<ellipse class="y" cx="416.4" cy="433.5" rx="3.45" ry="1.9"/>
<ellipse class="g" cx="449.6" cy="433.7" rx="3.45" ry="1.9"/>
<ellipse class="g" cx="405.8" cy="433.8" rx="3.45" ry="1.9"/>
<ellipse class="g" cx="165.0" cy="433.9" rx="3.45" ry="1.9"/>
<ellipse class="g" cx="252.6" cy="434.8" rx="3.45" ry="1.9"/>
<ellipse class="g" cx="121.3" cy="434.9" rx="3.45" ry="1.9"/>
<ellipse class="g" cx="143.1" cy="435.0" rx="3.45" ry="1.9"/>
<ellipse class="y" cx="416.4" cy="435.3" rx="3.45" ry="1.9"/>
<ellipse class="g" cx="77.3" cy="435.6" rx="3.45" ry="1.9"/>
<ellipse class="y" cx="153.8" cy="435.8" rx="3.45" ry="1.9"/>
<ellipse class="g" cx="186.9" cy="435.9" rx="3.45" ry="1.9"/>
<ellipse class="g" cx="274.4" cy="436.0" rx="3.45" ry="1.9"/>
<ellipse class="g" cx="165.0" cy="436.8" rx="3.45" ry="1.9"/>
<ellipse class="g" cx="383.9" cy="436.8" rx="3.45" ry="1.9"/>
<ellipse class="y" cx="153.8" cy="438.3" rx="3.45" ry="1.9"/>
<ellipse class="g" cx="252.6" cy="438.8" rx="3.45" ry="1.9"/>
<ellipse class="g" cx="99.3" cy="439.7" rx="3.45" ry="1.9"/>
<ellipse class="g" cx="165.0" cy="439.7" rx="3.45" ry="1.9"/>
<ellipse class="g" cx="318.2" cy="440.1" rx="3.45" ry="1.9"/>
<ellipse class="g" cx="383.9" cy="442.5" rx="3.45" ry="1.9"/>
<ellipse class="y" cx="416.4" cy="442.7" rx="3.45" ry="1.9"/>
<ellipse class="g" cx="208.7" cy="443.1" rx="3.45" ry="1.9"/>
<ellipse class="g" cx="296.3" cy="443.5" rx="3.45" ry="1.9"/>
<ellipse class="g" cx="230.7" cy="444.1" rx="3.45" ry="1.9"/>
<ellipse class="g" cx="405.8" cy="444.5" rx="3.45" ry="1.9"/>
<ellipse class="g" cx="77.3" cy="444.8" rx="3.45" ry="1.9"/>
<ellipse class="g" cx="318.2" cy="445.5" rx="3.45" ry="1.9"/>
<ellipse class="y" cx="153.8" cy="445.6" rx="3.45" ry="1.9"/>
<ellipse class="g" cx="383.9" cy="446.0" rx="3.45" ry="1.9"/>
<ellipse class="g" cx="165.0" cy="446.4" rx="3.45" ry="1.9"/>
<ellipse class="g" cx="99.3" cy="446.6" rx="3.45" ry="1.9"/>
<ellipse class="g" cx="252.6" cy="446.6" rx="3.45" ry="1.9"/>
<ellipse class="g" cx="318.2" cy="447.4" rx="3.45" ry="1.9"/>
<ellipse class="g" cx="405.8" cy="447.4" rx="3.45" ry="1.9"/>
<ellipse class="y" cx="329.0" cy="448.4" rx="3.45" ry="1.9"/>
<ellipse class="g" cx="427.6" cy="448.4" rx="3.45" ry="1.9"/>
<ellipse class="g" cx="449.6" cy="448.4" rx="3.45" ry="1.9"/>
<ellipse class="g" cx="143.1" cy="448.6" rx="3.45" ry="1.9"/>
<ellipse class="g" cx="296.3" cy="448.9" rx="3.45" ry="1.9"/>
<ellipse class="g" cx="99.3" cy="449.3" rx="3.45" ry="1.9"/>
<ellipse class="y" cx="88.1" cy="450.2" rx="3.45" ry="1.9"/>
<ellipse class="g" cx="274.4" cy="450.3" rx="3.45" ry="1.9"/>
<ellipse class="g" cx="405.8" cy="450.3" rx="3.45" ry="1.9"/>
<ellipse class="g" cx="449.6" cy="450.7" rx="3.45" ry="1.9"/>
<ellipse class="g" cx="230.7" cy="451.8" rx="3.45" ry="1.9"/>
<ellipse class="y" cx="350.8" cy="452.2" rx="3.45" ry="1.9"/>
<ellipse class="g" cx="449.6" cy="452.9" rx="3.45" ry="1.9"/>
<ellipse class="y" cx="372.7" cy="454.1" rx="3.45" ry="1.9"/>
<ellipse class="g" cx="274.4" cy="454.2" rx="3.45" ry="1.9"/>
<ellipse class="y" cx="131.9" cy="454.5" rx="3.45" ry="1.9"/>
<ellipse class="g" cx="165.0" cy="454.5" rx="3.45" ry="1.9"/>
<ellipse class="g" cx="449.6" cy="454.9" rx="3.45" ry="1.9"/>
<ellipse class="g" cx="33.5" cy="455.5" rx="3.45" ry="1.9"/>
<ellipse class="g" cx="99.3" cy="455.8" rx="3.45" ry="1.9"/>
<ellipse class="g" cx="252.6" cy="456.2" rx="3.45" ry="1.9"/>
<ellipse class="g" cx="77.3" cy="456.4" rx="3.45" ry="1.9"/>
<ellipse class="y" cx="438.4" cy="456.9" rx="3.45" ry="1.9"/>
<ellipse class="g" cx="165.0" cy="457.0" rx="3.45" ry="1.9"/>
<ellipse class="g" cx="33.5" cy="457.4" rx="3.45" ry="1.9"/>
<ellipse class="y" cx="263.2" cy="457.4" rx="3.45" ry="1.9"/>
<ellipse class="g" cx="186.9" cy="457.6" rx="3.45" ry="1.9"/>
<ellipse class="g" cx="208.7" cy="457.6" rx="3.45" ry="1.9"/>
<ellipse class="g" cx="274.4" cy="457.6" rx="3.45" ry="1.9"/>
<ellipse class="g" cx="362.0" cy="457.6" rx="3.45" ry="1.9"/>
<ellipse class="y" cx="66.1" cy="458.0" rx="3.45" ry="1.9"/>
<ellipse class="y" cx="416.4" cy="458.3" rx="3.45" ry="1.9"/>
<ellipse class="g" cx="362.0" cy="459.3" rx="3.45" ry="1.9"/>
<ellipse class="g" cx="340.2" cy="459.9" rx="3.45" ry="1.9"/>
<ellipse class="g" cx="55.4" cy="460.3" rx="3.45" ry="1.9"/>
<ellipse class="y" cx="394.6" cy="460.3" rx="3.45" ry="1.9"/>
<ellipse class="g" cx="383.9" cy="460.5" rx="3.45" ry="1.9"/>
<ellipse class="g" cx="252.6" cy="460.7" rx="3.45" ry="1.9"/>
<ellipse class="g" cx="296.3" cy="460.9" rx="3.45" ry="1.9"/>
<ellipse class="g" cx="121.3" cy="461.2" rx="3.45" ry="1.9"/>
<ellipse class="g" cx="405.8" cy="461.3" rx="3.45" ry="1.9"/>
<ellipse class="g" cx="77.3" cy="461.8" rx="3.45" ry="1.9"/>
<ellipse class="y" cx="131.9" cy="462.2" rx="3.45" ry="1.9"/>
<ellipse class="g" cx="340.2" cy="462.8" rx="3.45" ry="1.9"/>
<ellipse class="g" cx="55.4" cy="463.6" rx="3.45" ry="1.9"/>
<ellipse class="y" cx="131.9" cy="463.6" rx="3.45" ry="1.9"/>
<ellipse class="g" cx="252.6" cy="463.6" rx="3.45" ry="1.9"/>
<ellipse class="g" cx="165.0" cy="464.1" rx="3.45" ry="1.9"/>
<ellipse class="g" cx="362.0" cy="464.2" rx="3.45" ry="1.9"/>
<ellipse class="y" cx="110.1" cy="464.7" rx="3.45" ry="1.9"/>
<ellipse class="g" cx="405.8" cy="464.7" rx="3.45" ry="1.9"/>
<ellipse class="g" cx="296.3" cy="465.3" rx="3.45" ry="1.9"/>
<ellipse class="g" cx="340.2" cy="465.3" rx="3.45" ry="1.9"/>
<ellipse class="y" cx="175.7" cy="465.9" rx="3.45" ry="1.9"/>
<ellipse class="g" cx="427.6" cy="466.3" rx="3.45" ry="1.9"/>
<ellipse class="g" cx="383.9" cy="466.7" rx="3.45" ry="1.9"/>
<ellipse class="y" cx="219.5" cy="467.8" rx="3.45" ry="1.9"/>
<ellipse class="g" cx="449.6" cy="467.8" rx="3.45" ry="1.9"/>
<ellipse class="g" cx="318.2" cy="469.0" rx="3.45" ry="1.9"/>
<ellipse class="g" cx="362.0" cy="469.6" rx="3.45" ry="1.9"/>
<ellipse class="g" cx="208.7" cy="470.7" rx="3.45" ry="1.9"/>
<ellipse class="y" cx="307.0" cy="471.5" rx="3.45" ry="1.9"/>
<ellipse class="y" cx="394.6" cy="471.5" rx="3.45" ry="1.9"/>
<ellipse class="g" cx="186.9" cy="471.7" rx="3.45" ry="1.9"/>
<ellipse class="g" cx="143.1" cy="471.9" rx="3.45" ry="1.9"/>
<ellipse class="g" cx="165.0" cy="473.2" rx="3.45" ry="1.9"/>
<ellipse class="g" cx="55.4" cy="473.4" rx="3.45" ry="1.9"/>
<ellipse class="g" cx="383.9" cy="473.4" rx="3.45" ry="1.9"/>
<ellipse class="g" cx="296.3" cy="473.5" rx="3.45" ry="1.9"/>
<ellipse class="y" cx="263.2" cy="473.8" rx="3.45" ry="1.9"/>
<ellipse class="g" cx="362.0" cy="474.4" rx="3.45" ry="1.9"/>
<ellipse class="g" cx="186.9" cy="474.6" rx="3.45" ry="1.9"/>
<ellipse class="g" cx="340.2" cy="474.8" rx="3.45" ry="1.9"/>
<ellipse class="g" cx="405.8" cy="475.4" rx="3.45" ry="1.9"/>
<ellipse class="y" cx="197.5" cy="475.5" rx="3.45" ry="1.9"/>
<ellipse class="y" cx="110.1" cy="475.7" rx="3.45" ry="1.9"/>
<ellipse class="g" cx="362.0" cy="476.3" rx="3.45" ry="1.9"/>
<ellipse class="g" cx="77.3" cy="477.3" rx="3.45" ry="1.9"/>
<ellipse class="g" cx="296.3" cy="478.3" rx="3.45" ry="1.9"/>
<ellipse class="y" cx="350.8" cy="478.8" rx="3.45" ry="1.9"/>
<ellipse class="y" cx="307.0" cy="479.6" rx="3.45" ry="1.9"/>
<ellipse class="g" cx="427.6" cy="480.3" rx="3.45" ry="1.9"/>
<ellipse class="g" cx="121.3" cy="481.1" rx="3.45" ry="1.9"/>
<ellipse class="g" cx="296.3" cy="481.2" rx="3.45" ry="1.9"/>
<ellipse class="g" cx="405.8" cy="481.7" rx="3.45" ry="1.9"/>
<ellipse class="g" cx="33.5" cy="481.9" rx="3.45" ry="1.9"/>
<ellipse class="g" cx="274.4" cy="482.1" rx="3.45" ry="1.9"/>
<ellipse class="g" cx="362.0" cy="482.1" rx="3.45" ry="1.9"/>
<ellipse class="g" cx="383.9" cy="482.1" rx="3.45" ry="1.9"/>
<ellipse class="g" cx="186.9" cy="482.3" rx="3.45" ry="1.9"/>
<ellipse class="g" cx="427.6" cy="482.6" rx="3.45" ry="1.9"/>
<ellipse class="g" cx="340.2" cy="483.1" rx="3.45" ry="1.9"/>
<ellipse class="g" cx="143.1" cy="483.4" rx="3.45" ry="1.9"/>
<ellipse class="g" cx="77.3" cy="484.6" rx="3.45" ry="1.9"/>
<ellipse class="g" cx="208.7" cy="484.8" rx="3.45" ry="1.9"/>
<ellipse class="g" cx="427.6" cy="484.9" rx="3.45" ry="1.9"/>
<ellipse class="g" cx="274.4" cy="486.0" rx="3.45" ry="1.9"/>
<ellipse class="y" cx="307.0" cy="486.0" rx="3.45" ry="1.9"/>
<ellipse class="y" cx="131.9" cy="486.3" rx="3.45" ry="1.9"/>
<ellipse class="g" cx="362.0" cy="486.6" rx="3.45" ry="1.9"/>
<ellipse class="g" cx="55.4" cy="486.7" rx="3.45" ry="1.9"/>
<ellipse class="y" cx="44.2" cy="487.3" rx="3.45" ry="1.9"/>
<ellipse class="g" cx="340.2" cy="487.5" rx="3.45" ry="1.9"/>
<ellipse class="g" cx="230.7" cy="487.7" rx="3.45" ry="1.9"/>
<ellipse class="g" cx="449.6" cy="487.7" rx="3.45" ry="1.9"/>
<ellipse class="g" cx="274.4" cy="487.9" rx="3.45" ry="1.9"/>
<ellipse class="g" cx="208.7" cy="488.1" rx="3.45" ry="1.9"/>
<ellipse class="y" cx="197.5" cy="488.7" rx="3.45" ry="1.9"/>
<ellipse class="y" cx="394.6" cy="488.9" rx="3.45" ry="1.9"/>
<ellipse class="g" cx="143.1" cy="489.2" rx="3.45" ry="1.9"/>
<ellipse class="g" cx="208.7" cy="489.6" rx="3.45" ry="1.9"/>
<ellipse class="g" cx="77.3" cy="489.8" rx="3.45" ry="1.9"/>
<ellipse class="g" cx="55.4" cy="490.2" rx="3.45" ry="1.9"/>
<ellipse class="g" cx="186.9" cy="490.6" rx="3.45" ry="1.9"/>
<ellipse class="g" cx="230.7" cy="491.0" rx="3.45" ry="1.9"/>
<ellipse class="g" cx="143.1" cy="491.2" rx="3.45" ry="1.9"/>
<ellipse class="g" cx="165.0" cy="491.2" rx="3.45" ry="1.9"/>
<ellipse class="g" cx="33.5" cy="491.6" rx="3.45" ry="1.9"/>
<ellipse class="g" cx="252.6" cy="492.5" rx="3.45" ry="1.9"/>
<ellipse class="g" cx="230.7" cy="493.9" rx="3.45" ry="1.9"/>
<ellipse class="g" cx="55.4" cy="494.5" rx="3.45" ry="1.9"/>
<ellipse class="y" cx="416.4" cy="494.9" rx="3.45" ry="1.9"/>
<ellipse class="g" cx="99.3" cy="496.0" rx="3.45" ry="1.9"/>
<ellipse class="g" cx="274.4" cy="496.0" rx="3.45" ry="1.9"/>
<ellipse class="g" cx="296.3" cy="496.2" rx="3.45" ry="1.9"/>
<ellipse class="g" cx="427.6" cy="496.3" rx="3.45" ry="1.9"/>
<ellipse class="y" cx="438.4" cy="497.1" rx="3.45" ry="1.9"/>
<ellipse class="g" cx="252.6" cy="497.2" rx="3.45" ry="1.9"/>
<ellipse class="y" cx="329.0" cy="497.2" rx="3.45" ry="1.9"/>
<ellipse class="g" cx="383.9" cy="497.2" rx="3.45" ry="1.9"/>
<ellipse class="g" cx="362.0" cy="497.6" rx="3.45" ry="1.9"/>
<ellipse class="g" cx="77.3" cy="498.3" rx="3.45" ry="1.9"/>
<ellipse class="g" cx="121.3" cy="498.9" rx="3.45" ry="1.9"/>
<ellipse class="g" cx="208.7" cy="499.1" rx="3.45" ry="1.9"/>
<ellipse class="g" cx="296.3" cy="499.1" rx="3.45" ry="1.9"/>
<ellipse class="g" cx="362.0" cy="499.1" rx="3.45" ry="1.9"/>
<ellipse class="g" cx="186.9" cy="499.7" rx="3.45" ry="1.9"/>
<ellipse class="g" cx="99.3" cy="499.8" rx="3.45" ry="1.9"/>
<ellipse class="y" cx="44.2" cy="500.0" rx="3.45" ry="1.9"/>
<ellipse class="g" cx="208.7" cy="500.6" rx="3.45" ry="1.9"/>
<ellipse class="y" cx="263.2" cy="500.9" rx="3.45" ry="1.9"/>
<ellipse class="g" cx="230.7" cy="501.0" rx="3.45" ry="1.9"/>
<ellipse class="y" cx="0.4" cy="507.1" rx="3.45" ry="1.9"/>
<rect x="5.3" y="526.5" width="439" height="1.1" fill="#7a7a7a"/>
<rect x="5.2" y="527" width="1.2" height="4" fill="#7a7a7a"/>
<text transform="translate(9.9,534.9) scale(1.38,1) rotate(-90)" text-anchor="end" style="font-family:'Liberation Sans',sans-serif;font-size:7.7px" fill="#222">Y</text>
<rect x="27.1" y="527" width="1.2" height="4" fill="#7a7a7a"/>
<text transform="translate(31.8,534.9) scale(1.38,1) rotate(-90)" text-anchor="end" style="font-family:'Liberation Sans',sans-serif;font-size:7.7px" fill="#222">X</text>
<rect x="49.0" y="527" width="1.2" height="4" fill="#7a7a7a"/>
<text transform="translate(53.7,534.9) scale(1.38,1) rotate(-90)" text-anchor="end" style="font-family:'Liberation Sans',sans-serif;font-size:7.7px" fill="#222">19</text>
<rect x="70.9" y="527" width="1.2" height="4" fill="#7a7a7a"/>
<text transform="translate(75.6,534.9) scale(1.38,1) rotate(-90)" text-anchor="end" style="font-family:'Liberation Sans',sans-serif;font-size:7.7px" fill="#222">18</text>
<rect x="92.9" y="527" width="1.2" height="4" fill="#7a7a7a"/>
<text transform="translate(97.6,534.9) scale(1.38,1) rotate(-90)" text-anchor="end" style="font-family:'Liberation Sans',sans-serif;font-size:7.7px" fill="#222">17</text>
<rect x="114.9" y="527" width="1.2" height="4" fill="#7a7a7a"/>
<text transform="translate(119.6,534.9) scale(1.38,1) rotate(-90)" text-anchor="end" style="font-family:'Liberation Sans',sans-serif;font-size:7.7px" fill="#222">16</text>
<rect x="136.7" y="527" width="1.2" height="4" fill="#7a7a7a"/>
<text transform="translate(141.4,534.9) scale(1.38,1) rotate(-90)" text-anchor="end" style="font-family:'Liberation Sans',sans-serif;font-size:7.7px" fill="#222">15</text>
<rect x="158.6" y="527" width="1.2" height="4" fill="#7a7a7a"/>
<text transform="translate(163.3,534.9) scale(1.38,1) rotate(-90)" text-anchor="end" style="font-family:'Liberation Sans',sans-serif;font-size:7.7px" fill="#222">14</text>
<rect x="180.5" y="527" width="1.2" height="4" fill="#7a7a7a"/>
<text transform="translate(185.2,534.9) scale(1.38,1) rotate(-90)" text-anchor="end" style="font-family:'Liberation Sans',sans-serif;font-size:7.7px" fill="#222">13</text>
<rect x="202.3" y="527" width="1.2" height="4" fill="#7a7a7a"/>
<text transform="translate(207.0,534.9) scale(1.38,1) rotate(-90)" text-anchor="end" style="font-family:'Liberation Sans',sans-serif;font-size:7.7px" fill="#222">12</text>
<rect x="224.3" y="527" width="1.2" height="4" fill="#7a7a7a"/>
<text transform="translate(229.0,534.9) scale(1.38,1) rotate(-90)" text-anchor="end" style="font-family:'Liberation Sans',sans-serif;font-size:7.7px" fill="#222">11</text>
<rect x="246.2" y="527" width="1.2" height="4" fill="#7a7a7a"/>
<text transform="translate(250.9,534.9) scale(1.38,1) rotate(-90)" text-anchor="end" style="font-family:'Liberation Sans',sans-serif;font-size:7.7px" fill="#222">10</text>
<rect x="268.0" y="527" width="1.2" height="4" fill="#7a7a7a"/>
<text transform="translate(272.7,534.9) scale(1.38,1) rotate(-90)" text-anchor="end" style="font-family:'Liberation Sans',sans-serif;font-size:7.7px" fill="#222">9</text>
<rect x="289.9" y="527" width="1.2" height="4" fill="#7a7a7a"/>
<text transform="translate(294.6,534.9) scale(1.38,1) rotate(-90)" text-anchor="end" style="font-family:'Liberation Sans',sans-serif;font-size:7.7px" fill="#222">8</text>
<rect x="311.8" y="527" width="1.2" height="4" fill="#7a7a7a"/>
<text transform="translate(316.5,534.9) scale(1.38,1) rotate(-90)" text-anchor="end" style="font-family:'Liberation Sans',sans-serif;font-size:7.7px" fill="#222">7</text>
<rect x="333.8" y="527" width="1.2" height="4" fill="#7a7a7a"/>
<text transform="translate(338.5,534.9) scale(1.38,1) rotate(-90)" text-anchor="end" style="font-family:'Liberation Sans',sans-serif;font-size:7.7px" fill="#222">6</text>
<rect x="355.6" y="527" width="1.2" height="4" fill="#7a7a7a"/>
<text transform="translate(360.3,534.9) scale(1.38,1) rotate(-90)" text-anchor="end" style="font-family:'Liberation Sans',sans-serif;font-size:7.7px" fill="#222">5</text>
<rect x="377.5" y="527" width="1.2" height="4" fill="#7a7a7a"/>
<text transform="translate(382.2,534.9) scale(1.38,1) rotate(-90)" text-anchor="end" style="font-family:'Liberation Sans',sans-serif;font-size:7.7px" fill="#222">4</text>
<rect x="399.4" y="527" width="1.2" height="4" fill="#7a7a7a"/>
<text transform="translate(404.1,534.9) scale(1.38,1) rotate(-90)" text-anchor="end" style="font-family:'Liberation Sans',sans-serif;font-size:7.7px" fill="#222">3</text>
<rect x="421.2" y="527" width="1.2" height="4" fill="#7a7a7a"/>
<text transform="translate(425.9,534.9) scale(1.38,1) rotate(-90)" text-anchor="end" style="font-family:'Liberation Sans',sans-serif;font-size:7.7px" fill="#222">2</text>
<rect x="443.2" y="527" width="1.2" height="4" fill="#7a7a7a"/>
<text transform="translate(447.9,534.9) scale(1.38,1) rotate(-90)" text-anchor="end" style="font-family:'Liberation Sans',sans-serif;font-size:7.7px" fill="#222">1</text>
<text transform="translate(220.2,555.9) scale(1.32,1)" text-anchor="middle" style="font-family:'Liberation Sans',sans-serif;font-size:8.2px" fill="#222">Chromosome</text>
<text x="2.3" y="589.2" style="font-family:'Liberation Sans',sans-serif;font-weight:bold;font-size:23px" fill="#000">B</text>
<text x="203.1" y="598.9" text-anchor="middle" style="font-family:'Liberation Sans',sans-serif;font-weight:bold;font-size:12.4px" fill="#111">AAV-AN</text>
<text x="274.5" y="598.9" text-anchor="middle" style="font-family:'Liberation Sans',sans-serif;font-weight:bold;font-size:12.4px" fill="#111">AAV-HCC</text>
<text x="346.5" y="598.9" text-anchor="middle" style="font-family:'Liberation Sans',sans-serif;font-weight:bold;font-size:12.4px" fill="#111">HIV</text>
<text x="417.6" y="598.9" text-anchor="middle" style="font-family:'Liberation Sans',sans-serif;font-weight:bold;font-size:12.4px" fill="#111">MLV</text>
<rect x="164" y="602.25" width="73" height="14.83" fill="#efd8dd" shape-rendering="crispEdges"/>
<rect x="237" y="602.25" width="73" height="14.83" fill="#f0c9d2" shape-rendering="crispEdges"/>
<rect x="310" y="602.25" width="73" height="14.83" fill="#eca6b6" shape-rendering="crispEdges"/>
<rect x="383" y="602.25" width="73" height="14.83" fill="#efdce0" shape-rendering="crispEdges"/>
<text x="199.0" y="612.82" text-anchor="middle" style="font-family:'Liberation Sans',sans-serif;font-weight:bold;font-size:7.8px;letter-spacing:1.0px" fill="#1a1a1a">***</text>
<text x="272.0" y="612.82" text-anchor="middle" style="font-family:'Liberation Sans',sans-serif;font-weight:bold;font-size:7.8px;letter-spacing:1.0px" fill="#1a1a1a">***</text>
<text x="345.0" y="612.82" text-anchor="middle" style="font-family:'Liberation Sans',sans-serif;font-weight:bold;font-size:7.8px;letter-spacing:1.0px" fill="#1a1a1a">***</text>
<text x="418.0" y="612.82" text-anchor="middle" style="font-family:'Liberation Sans',sans-serif;font-weight:bold;font-size:7.8px;letter-spacing:1.0px" fill="#1a1a1a">***</text>
<rect x="164" y="616.58" width="73" height="14.83" fill="#c9cdec" shape-rendering="crispEdges"/>
<rect x="237" y="616.58" width="73" height="14.83" fill="#b9bfe6" shape-rendering="crispEdges"/>
<rect x="310" y="616.58" width="73" height="14.83" fill="#b9bfe6" shape-rendering="crispEdges"/>
<rect x="383" y="616.58" width="73" height="14.83" fill="#abb2e1" shape-rendering="crispEdges"/>
<text x="199.0" y="627.15" text-anchor="middle" style="font-family:'Liberation Sans',sans-serif;font-weight:bold;font-size:7.8px;letter-spacing:1.0px" fill="#1a1a1a">***</text>
<text x="272.0" y="627.15" text-anchor="middle" style="font-family:'Liberation Sans',sans-serif;font-weight:bold;font-size:7.8px;letter-spacing:1.0px" fill="#1a1a1a">***</text>
<text x="345.0" y="627.15" text-anchor="middle" style="font-family:'Liberation Sans',sans-serif;font-weight:bold;font-size:7.8px;letter-spacing:1.0px" fill="#1a1a1a">***</text>
<text x="418.0" y="627.15" text-anchor="middle" style="font-family:'Liberation Sans',sans-serif;font-weight:bold;font-size:7.8px;letter-spacing:1.0px" fill="#1a1a1a">***</text>
<rect x="164" y="630.92" width="73" height="14.83" fill="#c9cdec" shape-rendering="crispEdges"/>
<rect x="237" y="630.92" width="73" height="14.83" fill="#abb2e1" shape-rendering="crispEdges"/>
<rect x="310" y="630.92" width="73" height="14.83" fill="#c9cdec" shape-rendering="crispEdges"/>
<rect x="383" y="630.92" width="73" height="14.83" fill="#c9cdec" shape-rendering="crispEdges"/>
<text x="199.0" y="641.48" text-anchor="middle" style="font-family:'Liberation Sans',sans-serif;font-weight:bold;font-size:7.8px;letter-spacing:1.0px" fill="#1a1a1a">***</text>
<text x="272.0" y="641.48" text-anchor="middle" style="font-family:'Liberation Sans',sans-serif;font-weight:bold;font-size:7.8px;letter-spacing:1.0px" fill="#1a1a1a">***</text>
<text x="345.0" y="641.48" text-anchor="middle" style="font-family:'Liberation Sans',sans-serif;font-weight:bold;font-size:7.8px;letter-spacing:1.0px" fill="#1a1a1a">***</text>
<text x="418.0" y="641.48" text-anchor="middle" style="font-family:'Liberation Sans',sans-serif;font-weight:bold;font-size:7.8px;letter-spacing:1.0px" fill="#1a1a1a">***</text>
<rect x="164" y="645.25" width="73" height="14.83" fill="#eaeaea" shape-rendering="crispEdges"/>
<rect x="237" y="645.25" width="73" height="14.83" fill="#eaeaea" shape-rendering="crispEdges"/>
<rect x="310" y="645.25" width="73" height="14.83" fill="#eaeaea" shape-rendering="crispEdges"/>
<rect x="383" y="645.25" width="73" height="14.83" fill="#dadded" shape-rendering="crispEdges"/>
<text x="418.0" y="655.82" text-anchor="middle" style="font-family:'Liberation Sans',sans-serif;font-weight:bold;font-size:7.8px;letter-spacing:1.0px" fill="#1a1a1a">**</text>
<rect x="164" y="659.58" width="73" height="14.83" fill="#dadded" shape-rendering="crispEdges"/>
<rect x="237" y="659.58" width="73" height="14.83" fill="#eaeaea" shape-rendering="crispEdges"/>
<rect x="310" y="659.58" width="73" height="14.83" fill="#eaeaea" shape-rendering="crispEdges"/>
<rect x="383" y="659.58" width="73" height="14.83" fill="#dadded" shape-rendering="crispEdges"/>
<text x="199.0" y="670.15" text-anchor="middle" style="font-family:'Liberation Sans',sans-serif;font-weight:bold;font-size:7.8px;letter-spacing:1.0px" fill="#1a1a1a">*</text>
<text x="345.0" y="670.15" text-anchor="middle" style="font-family:'Liberation Sans',sans-serif;font-weight:bold;font-size:7.8px;letter-spacing:1.0px" fill="#1a1a1a">*</text>
<text x="418.0" y="670.15" text-anchor="middle" style="font-family:'Liberation Sans',sans-serif;font-weight:bold;font-size:7.8px;letter-spacing:1.0px" fill="#1a1a1a">***</text>
<rect x="164" y="673.91" width="73" height="14.83" fill="#eaeaea" shape-rendering="crispEdges"/>
<rect x="237" y="673.91" width="73" height="14.83" fill="#eaeaea" shape-rendering="crispEdges"/>
<rect x="310" y="673.91" width="73" height="14.83" fill="#eaeaea" shape-rendering="crispEdges"/>
<rect x="383" y="673.91" width="73" height="14.83" fill="#efd8dd" shape-rendering="crispEdges"/>
<text x="345.0" y="684.48" text-anchor="middle" style="font-family:'Liberation Sans',sans-serif;font-weight:bold;font-size:7.8px;letter-spacing:1.0px" fill="#1a1a1a">***</text>
<text x="418.0" y="684.48" text-anchor="middle" style="font-family:'Liberation Sans',sans-serif;font-weight:bold;font-size:7.8px;letter-spacing:1.0px" fill="#1a1a1a">***</text>
<rect x="164" y="688.25" width="73" height="14.83" fill="#efd8dd" shape-rendering="crispEdges"/>
<rect x="237" y="688.25" width="73" height="14.83" fill="#eebac6" shape-rendering="crispEdges"/>
<rect x="310" y="688.25" width="73" height="14.83" fill="#f0c9d2" shape-rendering="crispEdges"/>
<rect x="383" y="688.25" width="73" height="14.83" fill="#ea9cb0" shape-rendering="crispEdges"/>
<text x="199.0" y="698.81" text-anchor="middle" style="font-family:'Liberation Sans',sans-serif;font-weight:bold;font-size:7.8px;letter-spacing:1.0px" fill="#1a1a1a">***</text>
<text x="272.0" y="698.81" text-anchor="middle" style="font-family:'Liberation Sans',sans-serif;font-weight:bold;font-size:7.8px;letter-spacing:1.0px" fill="#1a1a1a">***</text>
<text x="345.0" y="698.81" text-anchor="middle" style="font-family:'Liberation Sans',sans-serif;font-weight:bold;font-size:7.8px;letter-spacing:1.0px" fill="#1a1a1a">***</text>
<text x="418.0" y="698.81" text-anchor="middle" style="font-family:'Liberation Sans',sans-serif;font-weight:bold;font-size:7.8px;letter-spacing:1.0px" fill="#1a1a1a">***</text>
<rect x="164" y="702.58" width="73" height="14.83" fill="#efd8dd" shape-rendering="crispEdges"/>
<rect x="237" y="702.58" width="73" height="14.83" fill="#f0c9d2" shape-rendering="crispEdges"/>
<rect x="310" y="702.58" width="73" height="14.83" fill="#f0c9d2" shape-rendering="crispEdges"/>
<rect x="383" y="702.58" width="73" height="14.83" fill="#eca6b6" shape-rendering="crispEdges"/>
<text x="199.0" y="713.15" text-anchor="middle" style="font-family:'Liberation Sans',sans-serif;font-weight:bold;font-size:7.8px;letter-spacing:1.0px" fill="#1a1a1a">***</text>
<text x="272.0" y="713.15" text-anchor="middle" style="font-family:'Liberation Sans',sans-serif;font-weight:bold;font-size:7.8px;letter-spacing:1.0px" fill="#1a1a1a">***</text>
<text x="345.0" y="713.15" text-anchor="middle" style="font-family:'Liberation Sans',sans-serif;font-weight:bold;font-size:7.8px;letter-spacing:1.0px" fill="#1a1a1a">***</text>
<text x="418.0" y="713.15" text-anchor="middle" style="font-family:'Liberation Sans',sans-serif;font-weight:bold;font-size:7.8px;letter-spacing:1.0px" fill="#1a1a1a">***</text>
<rect x="164" y="716.91" width="73" height="14.83" fill="#eaeaea" shape-rendering="crispEdges"/>
<rect x="237" y="716.91" width="73" height="14.83" fill="#efdce0" shape-rendering="crispEdges"/>
<rect x="310" y="716.91" width="73" height="14.83" fill="#eaeaea" shape-rendering="crispEdges"/>
<rect x="383" y="716.91" width="73" height="14.83" fill="#f0d3da" shape-rendering="crispEdges"/>
<text x="199.0" y="727.48" text-anchor="middle" style="font-family:'Liberation Sans',sans-serif;font-weight:bold;font-size:7.8px;letter-spacing:1.0px" fill="#1a1a1a">*</text>
<text x="272.0" y="727.48" text-anchor="middle" style="font-family:'Liberation Sans',sans-serif;font-weight:bold;font-size:7.8px;letter-spacing:1.0px" fill="#1a1a1a">*</text>
<text x="418.0" y="727.48" text-anchor="middle" style="font-family:'Liberation Sans',sans-serif;font-weight:bold;font-size:7.8px;letter-spacing:1.0px" fill="#1a1a1a">***</text>
<rect x="164" y="731.25" width="73" height="14.83" fill="#eaeaea" shape-rendering="crispEdges"/>
<rect x="237" y="731.25" width="73" height="14.83" fill="#efdce0" shape-rendering="crispEdges"/>
<rect x="310" y="731.25" width="73" height="14.83" fill="#eaeaea" shape-rendering="crispEdges"/>
<rect x="383" y="731.25" width="73" height="14.83" fill="#f0d3da" shape-rendering="crispEdges"/>
<text x="199.0" y="741.81" text-anchor="middle" style="font-family:'Liberation Sans',sans-serif;font-weight:bold;font-size:7.8px;letter-spacing:1.0px" fill="#1a1a1a">*</text>
<text x="272.0" y="741.81" text-anchor="middle" style="font-family:'Liberation Sans',sans-serif;font-weight:bold;font-size:7.8px;letter-spacing:1.0px" fill="#1a1a1a">*</text>
<text x="418.0" y="741.81" text-anchor="middle" style="font-family:'Liberation Sans',sans-serif;font-weight:bold;font-size:7.8px;letter-spacing:1.0px" fill="#1a1a1a">***</text>
<rect x="164" y="745.58" width="73" height="14.83" fill="#eaeaea" shape-rendering="crispEdges"/>
<rect x="237" y="745.58" width="73" height="14.83" fill="#eaeaea" shape-rendering="crispEdges"/>
<rect x="310" y="745.58" width="73" height="14.83" fill="#eaeaea" shape-rendering="crispEdges"/>
<rect x="383" y="745.58" width="73" height="14.83" fill="#efdce0" shape-rendering="crispEdges"/>
<text x="199.0" y="756.15" text-anchor="middle" style="font-family:'Liberation Sans',sans-serif;font-weight:bold;font-size:7.8px;letter-spacing:1.0px" fill="#1a1a1a">**</text>
<text x="345.0" y="756.15" text-anchor="middle" style="font-family:'Liberation Sans',sans-serif;font-weight:bold;font-size:7.8px;letter-spacing:1.0px" fill="#1a1a1a">**</text>
<text x="418.0" y="756.15" text-anchor="middle" style="font-family:'Liberation Sans',sans-serif;font-weight:bold;font-size:7.8px;letter-spacing:1.0px" fill="#1a1a1a">***</text>
<rect x="164" y="759.91" width="73" height="14.83" fill="#f0d3da" shape-rendering="crispEdges"/>
<rect x="237" y="759.91" width="73" height="14.83" fill="#f0c9d2" shape-rendering="crispEdges"/>
<rect x="310" y="759.91" width="73" height="14.83" fill="#f0c9d2" shape-rendering="crispEdges"/>
<rect x="383" y="759.91" width="73" height="14.83" fill="#eeaebd" shape-rendering="crispEdges"/>
<text x="199.0" y="770.48" text-anchor="middle" style="font-family:'Liberation Sans',sans-serif;font-weight:bold;font-size:7.8px;letter-spacing:1.0px" fill="#1a1a1a">***</text>
<text x="272.0" y="770.48" text-anchor="middle" style="font-family:'Liberation Sans',sans-serif;font-weight:bold;font-size:7.8px;letter-spacing:1.0px" fill="#1a1a1a">***</text>
<text x="345.0" y="770.48" text-anchor="middle" style="font-family:'Liberation Sans',sans-serif;font-weight:bold;font-size:7.8px;letter-spacing:1.0px" fill="#1a1a1a">***</text>
<text x="418.0" y="770.48" text-anchor="middle" style="font-family:'Liberation Sans',sans-serif;font-weight:bold;font-size:7.8px;letter-spacing:1.0px" fill="#1a1a1a">***</text>
<rect x="164" y="774.25" width="73" height="14.83" fill="#f0c9d2" shape-rendering="crispEdges"/>
<rect x="237" y="774.25" width="73" height="14.83" fill="#f0c9d2" shape-rendering="crispEdges"/>
<rect x="310" y="774.25" width="73" height="14.83" fill="#eebac6" shape-rendering="crispEdges"/>
<rect x="383" y="774.25" width="73" height="14.83" fill="#f0c2cd" shape-rendering="crispEdges"/>
<text x="199.0" y="784.81" text-anchor="middle" style="font-family:'Liberation Sans',sans-serif;font-weight:bold;font-size:7.8px;letter-spacing:1.0px" fill="#1a1a1a">***</text>
<text x="272.0" y="784.81" text-anchor="middle" style="font-family:'Liberation Sans',sans-serif;font-weight:bold;font-size:7.8px;letter-spacing:1.0px" fill="#1a1a1a">***</text>
<text x="345.0" y="784.81" text-anchor="middle" style="font-family:'Liberation Sans',sans-serif;font-weight:bold;font-size:7.8px;letter-spacing:1.0px" fill="#1a1a1a">***</text>
<text x="418.0" y="784.81" text-anchor="middle" style="font-family:'Liberation Sans',sans-serif;font-weight:bold;font-size:7.8px;letter-spacing:1.0px" fill="#1a1a1a">***</text>
<rect x="164" y="788.58" width="73" height="14.83" fill="#efdce0" shape-rendering="crispEdges"/>
<rect x="237" y="788.58" width="73" height="14.83" fill="#efdce0" shape-rendering="crispEdges"/>
<rect x="310" y="788.58" width="73" height="14.83" fill="#f0d3da" shape-rendering="crispEdges"/>
<rect x="383" y="788.58" width="73" height="14.83" fill="#efdce0" shape-rendering="crispEdges"/>
<text x="199.0" y="799.14" text-anchor="middle" style="font-family:'Liberation Sans',sans-serif;font-weight:bold;font-size:7.8px;letter-spacing:1.0px" fill="#1a1a1a">*</text>
<text x="272.0" y="799.14" text-anchor="middle" style="font-family:'Liberation Sans',sans-serif;font-weight:bold;font-size:7.8px;letter-spacing:1.0px" fill="#1a1a1a">*</text>
<text x="345.0" y="799.14" text-anchor="middle" style="font-family:'Liberation Sans',sans-serif;font-weight:bold;font-size:7.8px;letter-spacing:1.0px" fill="#1a1a1a">***</text>
<text x="418.0" y="799.14" text-anchor="middle" style="font-family:'Liberation Sans',sans-serif;font-weight:bold;font-size:7.8px;letter-spacing:1.0px" fill="#1a1a1a">***</text>
<rect x="164" y="802.91" width="73" height="14.83" fill="#efdce0" shape-rendering="crispEdges"/>
<rect x="237" y="802.91" width="73" height="14.83" fill="#efdce0" shape-rendering="crispEdges"/>
<rect x="310" y="802.91" width="73" height="14.83" fill="#f0d3da" shape-rendering="crispEdges"/>
<rect x="383" y="802.91" width="73" height="14.83" fill="#eebac6" shape-rendering="crispEdges"/>
<text x="199.0" y="813.48" text-anchor="middle" style="font-family:'Liberation Sans',sans-serif;font-weight:bold;font-size:7.8px;letter-spacing:1.0px" fill="#1a1a1a">*</text>
<text x="272.0" y="813.48" text-anchor="middle" style="font-family:'Liberation Sans',sans-serif;font-weight:bold;font-size:7.8px;letter-spacing:1.0px" fill="#1a1a1a">**</text>
<text x="345.0" y="813.48" text-anchor="middle" style="font-family:'Liberation Sans',sans-serif;font-weight:bold;font-size:7.8px;letter-spacing:1.0px" fill="#1a1a1a">***</text>
<text x="418.0" y="813.48" text-anchor="middle" style="font-family:'Liberation Sans',sans-serif;font-weight:bold;font-size:7.8px;letter-spacing:1.0px" fill="#1a1a1a">***</text>
<rect x="164" y="817.24" width="73" height="14.83" fill="#efdce0" shape-rendering="crispEdges"/>
<rect x="237" y="817.24" width="73" height="14.83" fill="#f0c9d2" shape-rendering="crispEdges"/>
<rect x="310" y="817.24" width="73" height="14.83" fill="#f0c9d2" shape-rendering="crispEdges"/>
<rect x="383" y="817.24" width="73" height="14.83" fill="#ea9cb0" shape-rendering="crispEdges"/>
<text x="199.0" y="827.81" text-anchor="middle" style="font-family:'Liberation Sans',sans-serif;font-weight:bold;font-size:7.8px;letter-spacing:1.0px" fill="#1a1a1a">*</text>
<text x="272.0" y="827.81" text-anchor="middle" style="font-family:'Liberation Sans',sans-serif;font-weight:bold;font-size:7.8px;letter-spacing:1.0px" fill="#1a1a1a">***</text>
<text x="345.0" y="827.81" text-anchor="middle" style="font-family:'Liberation Sans',sans-serif;font-weight:bold;font-size:7.8px;letter-spacing:1.0px" fill="#1a1a1a">***</text>
<text x="418.0" y="827.81" text-anchor="middle" style="font-family:'Liberation Sans',sans-serif;font-weight:bold;font-size:7.8px;letter-spacing:1.0px" fill="#1a1a1a">***</text>
<rect x="164" y="831.58" width="73" height="14.83" fill="#efdce0" shape-rendering="crispEdges"/>
<rect x="237" y="831.58" width="73" height="14.83" fill="#eeb4c2" shape-rendering="crispEdges"/>
<rect x="310" y="831.58" width="73" height="14.83" fill="#f0c9d2" shape-rendering="crispEdges"/>
<rect x="383" y="831.58" width="73" height="14.83" fill="#ea9cb0" shape-rendering="crispEdges"/>
<text x="199.0" y="842.14" text-anchor="middle" style="font-family:'Liberation Sans',sans-serif;font-weight:bold;font-size:7.8px;letter-spacing:1.0px" fill="#1a1a1a">***</text>
<text x="272.0" y="842.14" text-anchor="middle" style="font-family:'Liberation Sans',sans-serif;font-weight:bold;font-size:7.8px;letter-spacing:1.0px" fill="#1a1a1a">***</text>
<text x="345.0" y="842.14" text-anchor="middle" style="font-family:'Liberation Sans',sans-serif;font-weight:bold;font-size:7.8px;letter-spacing:1.0px" fill="#1a1a1a">***</text>
<text x="418.0" y="842.14" text-anchor="middle" style="font-family:'Liberation Sans',sans-serif;font-weight:bold;font-size:7.8px;letter-spacing:1.0px" fill="#1a1a1a">***</text>
<rect x="164" y="845.91" width="73" height="14.83" fill="#eaeaea" shape-rendering="crispEdges"/>
<rect x="237" y="845.91" width="73" height="14.83" fill="#eaeaea" shape-rendering="crispEdges"/>
<rect x="310" y="845.91" width="73" height="14.83" fill="#efdce0" shape-rendering="crispEdges"/>
<rect x="383" y="845.91" width="73" height="14.83" fill="#efdce0" shape-rendering="crispEdges"/>
<text x="345.0" y="856.48" text-anchor="middle" style="font-family:'Liberation Sans',sans-serif;font-weight:bold;font-size:7.8px;letter-spacing:1.0px" fill="#1a1a1a">***</text>
<text x="418.0" y="856.48" text-anchor="middle" style="font-family:'Liberation Sans',sans-serif;font-weight:bold;font-size:7.8px;letter-spacing:1.0px" fill="#1a1a1a">***</text>
<rect x="164" y="860.24" width="73" height="14.83" fill="#efd8dd" shape-rendering="crispEdges"/>
<rect x="237" y="860.24" width="73" height="14.83" fill="#f0d3da" shape-rendering="crispEdges"/>
<rect x="310" y="860.24" width="73" height="14.83" fill="#f0c9d2" shape-rendering="crispEdges"/>
<rect x="383" y="860.24" width="73" height="14.83" fill="#f0c9d2" shape-rendering="crispEdges"/>
<text x="199.0" y="870.81" text-anchor="middle" style="font-family:'Liberation Sans',sans-serif;font-weight:bold;font-size:7.8px;letter-spacing:1.0px" fill="#1a1a1a">***</text>
<text x="272.0" y="870.81" text-anchor="middle" style="font-family:'Liberation Sans',sans-serif;font-weight:bold;font-size:7.8px;letter-spacing:1.0px" fill="#1a1a1a">**</text>
<text x="345.0" y="870.81" text-anchor="middle" style="font-family:'Liberation Sans',sans-serif;font-weight:bold;font-size:7.8px;letter-spacing:1.0px" fill="#1a1a1a">***</text>
<text x="418.0" y="870.81" text-anchor="middle" style="font-family:'Liberation Sans',sans-serif;font-weight:bold;font-size:7.8px;letter-spacing:1.0px" fill="#1a1a1a">***</text>
<rect x="164" y="874.58" width="73" height="14.83" fill="#f0c9d2" shape-rendering="crispEdges"/>
<rect x="237" y="874.58" width="73" height="14.83" fill="#f0c9d2" shape-rendering="crispEdges"/>
<rect x="310" y="874.58" width="73" height="14.83" fill="#f0c2cd" shape-rendering="crispEdges"/>
<rect x="383" y="874.58" width="73" height="14.83" fill="#eeb4c2" shape-rendering="crispEdges"/>
<text x="199.0" y="885.14" text-anchor="middle" style="font-family:'Liberation Sans',sans-serif;font-weight:bold;font-size:7.8px;letter-spacing:1.0px" fill="#1a1a1a">***</text>
<text x="272.0" y="885.14" text-anchor="middle" style="font-family:'Liberation Sans',sans-serif;font-weight:bold;font-size:7.8px;letter-spacing:1.0px" fill="#1a1a1a">***</text>
<text x="345.0" y="885.14" text-anchor="middle" style="font-family:'Liberation Sans',sans-serif;font-weight:bold;font-size:7.8px;letter-spacing:1.0px" fill="#1a1a1a">***</text>
<text x="418.0" y="885.14" text-anchor="middle" style="font-family:'Liberation Sans',sans-serif;font-weight:bold;font-size:7.8px;letter-spacing:1.0px" fill="#1a1a1a">***</text>
<rect x="164" y="888.91" width="73" height="14.83" fill="#eaeaea" shape-rendering="crispEdges"/>
<rect x="237" y="888.91" width="73" height="14.83" fill="#eaeaea" shape-rendering="crispEdges"/>
<rect x="310" y="888.91" width="73" height="14.83" fill="#eaeaea" shape-rendering="crispEdges"/>
<rect x="383" y="888.91" width="73" height="14.83" fill="#efdce0" shape-rendering="crispEdges"/>
<text x="345.0" y="899.48" text-anchor="middle" style="font-family:'Liberation Sans',sans-serif;font-weight:bold;font-size:7.8px;letter-spacing:1.0px" fill="#1a1a1a">***</text>
<text x="418.0" y="899.48" text-anchor="middle" style="font-family:'Liberation Sans',sans-serif;font-weight:bold;font-size:7.8px;letter-spacing:1.0px" fill="#1a1a1a">***</text>
<rect x="164" y="903.24" width="73" height="14.83" fill="#efd8dd" shape-rendering="crispEdges"/>
<rect x="237" y="903.24" width="73" height="14.83" fill="#efd8dd" shape-rendering="crispEdges"/>
<rect x="310" y="903.24" width="73" height="14.83" fill="#f0d3da" shape-rendering="crispEdges"/>
<rect x="383" y="903.24" width="73" height="14.83" fill="#f0c9d2" shape-rendering="crispEdges"/>
<text x="199.0" y="913.81" text-anchor="middle" style="font-family:'Liberation Sans',sans-serif;font-weight:bold;font-size:7.8px;letter-spacing:1.0px" fill="#1a1a1a">***</text>
<text x="272.0" y="913.81" text-anchor="middle" style="font-family:'Liberation Sans',sans-serif;font-weight:bold;font-size:7.8px;letter-spacing:1.0px" fill="#1a1a1a">**</text>
<text x="345.0" y="913.81" text-anchor="middle" style="font-family:'Liberation Sans',sans-serif;font-weight:bold;font-size:7.8px;letter-spacing:1.0px" fill="#1a1a1a">***</text>
<text x="418.0" y="913.81" text-anchor="middle" style="font-family:'Liberation Sans',sans-serif;font-weight:bold;font-size:7.8px;letter-spacing:1.0px" fill="#1a1a1a">***</text>
<rect x="164" y="917.57" width="73" height="14.83" fill="#f0c9d2" shape-rendering="crispEdges"/>
<rect x="237" y="917.57" width="73" height="14.83" fill="#f0c9d2" shape-rendering="crispEdges"/>
<rect x="310" y="917.57" width="73" height="14.83" fill="#f0d3da" shape-rendering="crispEdges"/>
<rect x="383" y="917.57" width="73" height="14.83" fill="#f0c9d2" shape-rendering="crispEdges"/>
<text x="199.0" y="928.14" text-anchor="middle" style="font-family:'Liberation Sans',sans-serif;font-weight:bold;font-size:7.8px;letter-spacing:1.0px" fill="#1a1a1a">***</text>
<text x="272.0" y="928.14" text-anchor="middle" style="font-family:'Liberation Sans',sans-serif;font-weight:bold;font-size:7.8px;letter-spacing:1.0px" fill="#1a1a1a">***</text>
<text x="345.0" y="928.14" text-anchor="middle" style="font-family:'Liberation Sans',sans-serif;font-weight:bold;font-size:7.8px;letter-spacing:1.0px" fill="#1a1a1a">***</text>
<text x="418.0" y="928.14" text-anchor="middle" style="font-family:'Liberation Sans',sans-serif;font-weight:bold;font-size:7.8px;letter-spacing:1.0px" fill="#1a1a1a">***</text>
<rect x="164" y="931.91" width="73" height="14.83" fill="#eaeaea" shape-rendering="crispEdges"/>
<rect x="237" y="931.91" width="73" height="14.83" fill="#eaeaea" shape-rendering="crispEdges"/>
<rect x="310" y="931.91" width="73" height="14.83" fill="#eaeaea" shape-rendering="crispEdges"/>
<rect x="383" y="931.91" width="73" height="14.83" fill="#eaeaea" shape-rendering="crispEdges"/>
<text x="345.0" y="942.47" text-anchor="middle" style="font-family:'Liberation Sans',sans-serif;font-weight:bold;font-size:7.8px;letter-spacing:1.0px" fill="#1a1a1a">**</text>
<text x="418.0" y="942.47" text-anchor="middle" style="font-family:'Liberation Sans',sans-serif;font-weight:bold;font-size:7.8px;letter-spacing:1.0px" fill="#1a1a1a">**</text>
<rect x="164" y="946.24" width="73" height="14.83" fill="#eaeaea" shape-rendering="crispEdges"/>
<rect x="237" y="946.24" width="73" height="14.83" fill="#efdce0" shape-rendering="crispEdges"/>
<rect x="310" y="946.24" width="73" height="14.83" fill="#eaeaea" shape-rendering="crispEdges"/>
<rect x="383" y="946.24" width="73" height="14.83" fill="#eaeaea" shape-rendering="crispEdges"/>
<text x="272.0" y="956.81" text-anchor="middle" style="font-family:'Liberation Sans',sans-serif;font-weight:bold;font-size:7.8px;letter-spacing:1.0px" fill="#1a1a1a">*</text>
<text x="345.0" y="956.81" text-anchor="middle" style="font-family:'Liberation Sans',sans-serif;font-weight:bold;font-size:7.8px;letter-spacing:1.0px" fill="#1a1a1a">***</text>
<text x="418.0" y="956.81" text-anchor="middle" style="font-family:'Liberation Sans',sans-serif;font-weight:bold;font-size:7.8px;letter-spacing:1.0px" fill="#1a1a1a">***</text>
<rect x="164" y="960.57" width="73" height="14.83" fill="#eaeaea" shape-rendering="crispEdges"/>
<rect x="237" y="960.57" width="73" height="14.83" fill="#efdce0" shape-rendering="crispEdges"/>
<rect x="310" y="960.57" width="73" height="14.83" fill="#efd8dd" shape-rendering="crispEdges"/>
<rect x="383" y="960.57" width="73" height="14.83" fill="#efdce0" shape-rendering="crispEdges"/>
<text x="199.0" y="971.14" text-anchor="middle" style="font-family:'Liberation Sans',sans-serif;font-weight:bold;font-size:7.8px;letter-spacing:1.0px" fill="#1a1a1a">*</text>
<text x="272.0" y="971.14" text-anchor="middle" style="font-family:'Liberation Sans',sans-serif;font-weight:bold;font-size:7.8px;letter-spacing:1.0px" fill="#1a1a1a">*</text>
<text x="345.0" y="971.14" text-anchor="middle" style="font-family:'Liberation Sans',sans-serif;font-weight:bold;font-size:7.8px;letter-spacing:1.0px" fill="#1a1a1a">***</text>
<text x="418.0" y="971.14" text-anchor="middle" style="font-family:'Liberation Sans',sans-serif;font-weight:bold;font-size:7.8px;letter-spacing:1.0px" fill="#1a1a1a">***</text>
<rect x="164" y="974.91" width="73" height="14.83" fill="#efdce0" shape-rendering="crispEdges"/>
<rect x="237" y="974.91" width="73" height="14.83" fill="#efdce0" shape-rendering="crispEdges"/>
<rect x="310" y="974.91" width="73" height="14.83" fill="#efd8dd" shape-rendering="crispEdges"/>
<rect x="383" y="974.91" width="73" height="14.83" fill="#eebac6" shape-rendering="crispEdges"/>
<text x="345.0" y="985.47" text-anchor="middle" style="font-family:'Liberation Sans',sans-serif;font-weight:bold;font-size:7.8px;letter-spacing:1.0px" fill="#1a1a1a">*</text>
<text x="418.0" y="985.47" text-anchor="middle" style="font-family:'Liberation Sans',sans-serif;font-weight:bold;font-size:7.8px;letter-spacing:1.0px" fill="#1a1a1a">***</text>
<rect x="164" y="989.24" width="73" height="14.83" fill="#efdce0" shape-rendering="crispEdges"/>
<rect x="237" y="989.24" width="73" height="14.83" fill="#efdce0" shape-rendering="crispEdges"/>
<rect x="310" y="989.24" width="73" height="14.83" fill="#efd8dd" shape-rendering="crispEdges"/>
<rect x="383" y="989.24" width="73" height="14.83" fill="#eca6b6" shape-rendering="crispEdges"/>
<text x="199.0" y="999.81" text-anchor="middle" style="font-family:'Liberation Sans',sans-serif;font-weight:bold;font-size:7.8px;letter-spacing:1.0px" fill="#1a1a1a">*</text>
<text x="272.0" y="999.81" text-anchor="middle" style="font-family:'Liberation Sans',sans-serif;font-weight:bold;font-size:7.8px;letter-spacing:1.0px" fill="#1a1a1a">*</text>
<text x="345.0" y="999.81" text-anchor="middle" style="font-family:'Liberation Sans',sans-serif;font-weight:bold;font-size:7.8px;letter-spacing:1.0px" fill="#1a1a1a">**</text>
<text x="418.0" y="999.81" text-anchor="middle" style="font-family:'Liberation Sans',sans-serif;font-weight:bold;font-size:7.8px;letter-spacing:1.0px" fill="#1a1a1a">***</text>
<rect x="164" y="1003.57" width="73" height="14.83" fill="#efdce0" shape-rendering="crispEdges"/>
<rect x="237" y="1003.57" width="73" height="14.83" fill="#f0c9d2" shape-rendering="crispEdges"/>
<rect x="310" y="1003.57" width="73" height="14.83" fill="#efd8dd" shape-rendering="crispEdges"/>
<rect x="383" y="1003.57" width="73" height="14.83" fill="#ea98ad" shape-rendering="crispEdges"/>
<text x="199.0" y="1014.14" text-anchor="middle" style="font-family:'Liberation Sans',sans-serif;font-weight:bold;font-size:7.8px;letter-spacing:1.0px" fill="#1a1a1a">**</text>
<text x="272.0" y="1014.14" text-anchor="middle" style="font-family:'Liberation Sans',sans-serif;font-weight:bold;font-size:7.8px;letter-spacing:1.0px" fill="#1a1a1a">**</text>
<text x="345.0" y="1014.14" text-anchor="middle" style="font-family:'Liberation Sans',sans-serif;font-weight:bold;font-size:7.8px;letter-spacing:1.0px" fill="#1a1a1a">***</text>
<text x="418.0" y="1014.14" text-anchor="middle" style="font-family:'Liberation Sans',sans-serif;font-weight:bold;font-size:7.8px;letter-spacing:1.0px" fill="#1a1a1a">***</text>
<rect x="164" y="1017.90" width="73" height="14.83" fill="#efdce0" shape-rendering="crispEdges"/>
<rect x="237" y="1017.90" width="73" height="14.83" fill="#f0c9d2" shape-rendering="crispEdges"/>
<rect x="310" y="1017.90" width="73" height="14.83" fill="#efd8dd" shape-rendering="crispEdges"/>
<rect x="383" y="1017.90" width="73" height="14.83" fill="#ea98ad" shape-rendering="crispEdges"/>
<text x="199.0" y="1028.47" text-anchor="middle" style="font-family:'Liberation Sans',sans-serif;font-weight:bold;font-size:7.8px;letter-spacing:1.0px" fill="#1a1a1a">***</text>
<text x="272.0" y="1028.47" text-anchor="middle" style="font-family:'Liberation Sans',sans-serif;font-weight:bold;font-size:7.8px;letter-spacing:1.0px" fill="#1a1a1a">***</text>
<text x="345.0" y="1028.47" text-anchor="middle" style="font-family:'Liberation Sans',sans-serif;font-weight:bold;font-size:7.8px;letter-spacing:1.0px" fill="#1a1a1a">***</text>
<text x="418.0" y="1028.47" text-anchor="middle" style="font-family:'Liberation Sans',sans-serif;font-weight:bold;font-size:7.8px;letter-spacing:1.0px" fill="#1a1a1a">***</text>
<rect x="164" y="1032.24" width="73" height="14.83" fill="#efdce0" shape-rendering="crispEdges"/>
<rect x="237" y="1032.24" width="73" height="14.83" fill="#f0c9d2" shape-rendering="crispEdges"/>
<rect x="310" y="1032.24" width="73" height="14.83" fill="#eaeaea" shape-rendering="crispEdges"/>
<rect x="383" y="1032.24" width="73" height="14.83" fill="#ea98ad" shape-rendering="crispEdges"/>
<text x="199.0" y="1042.80" text-anchor="middle" style="font-family:'Liberation Sans',sans-serif;font-weight:bold;font-size:7.8px;letter-spacing:1.0px" fill="#1a1a1a">**</text>
<text x="272.0" y="1042.80" text-anchor="middle" style="font-family:'Liberation Sans',sans-serif;font-weight:bold;font-size:7.8px;letter-spacing:1.0px" fill="#1a1a1a">***</text>
<text x="418.0" y="1042.80" text-anchor="middle" style="font-family:'Liberation Sans',sans-serif;font-weight:bold;font-size:7.8px;letter-spacing:1.0px" fill="#1a1a1a">***</text>
<rect x="164" y="1046.57" width="73" height="14.83" fill="#efdce0" shape-rendering="crispEdges"/>
<rect x="237" y="1046.57" width="73" height="14.83" fill="#f0c9d2" shape-rendering="crispEdges"/>
<rect x="310" y="1046.57" width="73" height="14.83" fill="#eaeaea" shape-rendering="crispEdges"/>
<rect x="383" y="1046.57" width="73" height="14.83" fill="#ea98ad" shape-rendering="crispEdges"/>
<text x="199.0" y="1057.14" text-anchor="middle" style="font-family:'Liberation Sans',sans-serif;font-weight:bold;font-size:7.8px;letter-spacing:1.0px" fill="#1a1a1a">**</text>
<text x="272.0" y="1057.14" text-anchor="middle" style="font-family:'Liberation Sans',sans-serif;font-weight:bold;font-size:7.8px;letter-spacing:1.0px" fill="#1a1a1a">**</text>
<text x="418.0" y="1057.14" text-anchor="middle" style="font-family:'Liberation Sans',sans-serif;font-weight:bold;font-size:7.8px;letter-spacing:1.0px" fill="#1a1a1a">***</text>
<rect x="164" y="1060.90" width="73" height="14.83" fill="#efdce0" shape-rendering="crispEdges"/>
<rect x="237" y="1060.90" width="73" height="14.83" fill="#efdce0" shape-rendering="crispEdges"/>
<rect x="310" y="1060.90" width="73" height="14.83" fill="#dadded" shape-rendering="crispEdges"/>
<rect x="383" y="1060.90" width="73" height="14.83" fill="#ea98ad" shape-rendering="crispEdges"/>
<text x="199.0" y="1071.47" text-anchor="middle" style="font-family:'Liberation Sans',sans-serif;font-weight:bold;font-size:7.8px;letter-spacing:1.0px" fill="#1a1a1a">**</text>
<text x="272.0" y="1071.47" text-anchor="middle" style="font-family:'Liberation Sans',sans-serif;font-weight:bold;font-size:7.8px;letter-spacing:1.0px" fill="#1a1a1a">*</text>
<text x="345.0" y="1071.47" text-anchor="middle" style="font-family:'Liberation Sans',sans-serif;font-weight:bold;font-size:7.8px;letter-spacing:1.0px" fill="#1a1a1a">***</text>
<text x="418.0" y="1071.47" text-anchor="middle" style="font-family:'Liberation Sans',sans-serif;font-weight:bold;font-size:7.8px;letter-spacing:1.0px" fill="#1a1a1a">***</text>
<rect x="164" y="1075.24" width="73" height="14.83" fill="#efdce0" shape-rendering="crispEdges"/>
<rect x="237" y="1075.24" width="73" height="14.83" fill="#efdce0" shape-rendering="crispEdges"/>
<rect x="310" y="1075.24" width="73" height="14.83" fill="#dadded" shape-rendering="crispEdges"/>
<rect x="383" y="1075.24" width="73" height="14.83" fill="#ea98ad" shape-rendering="crispEdges"/>
<text x="272.0" y="1085.80" text-anchor="middle" style="font-family:'Liberation Sans',sans-serif;font-weight:bold;font-size:7.8px;letter-spacing:1.0px" fill="#1a1a1a">*</text>
<text x="345.0" y="1085.80" text-anchor="middle" style="font-family:'Liberation Sans',sans-serif;font-weight:bold;font-size:7.8px;letter-spacing:1.0px" fill="#1a1a1a">***</text>
<text x="418.0" y="1085.80" text-anchor="middle" style="font-family:'Liberation Sans',sans-serif;font-weight:bold;font-size:7.8px;letter-spacing:1.0px" fill="#1a1a1a">***</text>
<rect x="164" y="1089.57" width="73" height="14.83" fill="#efdce0" shape-rendering="crispEdges"/>
<rect x="237" y="1089.57" width="73" height="14.83" fill="#efdce0" shape-rendering="crispEdges"/>
<rect x="310" y="1089.57" width="73" height="14.83" fill="#dadded" shape-rendering="crispEdges"/>
<rect x="383" y="1089.57" width="73" height="14.83" fill="#ea98ad" shape-rendering="crispEdges"/>
<text x="345.0" y="1100.14" text-anchor="middle" style="font-family:'Liberation Sans',sans-serif;font-weight:bold;font-size:7.8px;letter-spacing:1.0px" fill="#1a1a1a">***</text>
<text x="418.0" y="1100.14" text-anchor="middle" style="font-family:'Liberation Sans',sans-serif;font-weight:bold;font-size:7.8px;letter-spacing:1.0px" fill="#1a1a1a">***</text>
<rect x="164" y="1103.90" width="73" height="14.83" fill="#efdce0" shape-rendering="crispEdges"/>
<rect x="237" y="1103.90" width="73" height="14.83" fill="#efdce0" shape-rendering="crispEdges"/>
<rect x="310" y="1103.90" width="73" height="14.83" fill="#dadded" shape-rendering="crispEdges"/>
<rect x="383" y="1103.90" width="73" height="14.83" fill="#ea98ad" shape-rendering="crispEdges"/>
<text x="272.0" y="1114.47" text-anchor="middle" style="font-family:'Liberation Sans',sans-serif;font-weight:bold;font-size:7.8px;letter-spacing:1.0px" fill="#1a1a1a">*</text>
<text x="345.0" y="1114.47" text-anchor="middle" style="font-family:'Liberation Sans',sans-serif;font-weight:bold;font-size:7.8px;letter-spacing:1.0px" fill="#1a1a1a">***</text>
<text x="418.0" y="1114.47" text-anchor="middle" style="font-family:'Liberation Sans',sans-serif;font-weight:bold;font-size:7.8px;letter-spacing:1.0px" fill="#1a1a1a">***</text>
<rect x="164" y="1118.24" width="73" height="14.83" fill="#eaeaea" shape-rendering="crispEdges"/>
<rect x="237" y="1118.24" width="73" height="14.83" fill="#efdce0" shape-rendering="crispEdges"/>
<rect x="310" y="1118.24" width="73" height="14.83" fill="#dadded" shape-rendering="crispEdges"/>
<rect x="383" y="1118.24" width="73" height="14.83" fill="#eca6b6" shape-rendering="crispEdges"/>
<text x="272.0" y="1128.80" text-anchor="middle" style="font-family:'Liberation Sans',sans-serif;font-weight:bold;font-size:7.8px;letter-spacing:1.0px" fill="#1a1a1a">*</text>
<text x="345.0" y="1128.80" text-anchor="middle" style="font-family:'Liberation Sans',sans-serif;font-weight:bold;font-size:7.8px;letter-spacing:1.0px" fill="#1a1a1a">*</text>
<text x="418.0" y="1128.80" text-anchor="middle" style="font-family:'Liberation Sans',sans-serif;font-weight:bold;font-size:7.8px;letter-spacing:1.0px" fill="#1a1a1a">***</text>
<rect x="164" y="1132.57" width="73" height="14.83" fill="#eaeaea" shape-rendering="crispEdges"/>
<rect x="237" y="1132.57" width="73" height="14.83" fill="#efdce0" shape-rendering="crispEdges"/>
<rect x="310" y="1132.57" width="73" height="14.83" fill="#eaeaea" shape-rendering="crispEdges"/>
<rect x="383" y="1132.57" width="73" height="14.83" fill="#eca6b6" shape-rendering="crispEdges"/>
<text x="418.0" y="1143.13" text-anchor="middle" style="font-family:'Liberation Sans',sans-serif;font-weight:bold;font-size:7.8px;letter-spacing:1.0px" fill="#1a1a1a">***</text>
<rect x="164" y="1146.90" width="73" height="14.83" fill="#efdce0" shape-rendering="crispEdges"/>
<rect x="237" y="1146.90" width="73" height="14.83" fill="#efdce0" shape-rendering="crispEdges"/>
<rect x="310" y="1146.90" width="73" height="14.83" fill="#eaeaea" shape-rendering="crispEdges"/>
<rect x="383" y="1146.90" width="73" height="14.83" fill="#eebac6" shape-rendering="crispEdges"/>
<text x="418.0" y="1157.47" text-anchor="middle" style="font-family:'Liberation Sans',sans-serif;font-weight:bold;font-size:7.8px;letter-spacing:1.0px" fill="#1a1a1a">***</text>
<rect x="164" y="1161.23" width="73" height="14.83" fill="#efdce0" shape-rendering="crispEdges"/>
<rect x="237" y="1161.23" width="73" height="14.83" fill="#efdce0" shape-rendering="crispEdges"/>
<rect x="310" y="1161.23" width="73" height="14.83" fill="#eaeaea" shape-rendering="crispEdges"/>
<rect x="383" y="1161.23" width="73" height="14.83" fill="#eebac6" shape-rendering="crispEdges"/>
<text x="418.0" y="1171.80" text-anchor="middle" style="font-family:'Liberation Sans',sans-serif;font-weight:bold;font-size:7.8px;letter-spacing:1.0px" fill="#1a1a1a">***</text>
<rect x="164" y="1175.57" width="73" height="14.83" fill="#eaeaea" shape-rendering="crispEdges"/>
<rect x="237" y="1175.57" width="73" height="14.83" fill="#efdce0" shape-rendering="crispEdges"/>
<rect x="310" y="1175.57" width="73" height="14.83" fill="#eaeaea" shape-rendering="crispEdges"/>
<rect x="383" y="1175.57" width="73" height="14.83" fill="#f0d3da" shape-rendering="crispEdges"/>
<text x="418.0" y="1186.13" text-anchor="middle" style="font-family:'Liberation Sans',sans-serif;font-weight:bold;font-size:7.8px;letter-spacing:1.0px" fill="#1a1a1a">***</text>
<clipPath id="lc"><rect x="0" y="590" width="163.5" height="610"/></clipPath>
<g clip-path="url(#lc)">
<text transform="translate(41.2,614.70) scale(0.92,1)" style="font-family:'Liberation Sans',sans-serif;font-size:11.2px" fill="#111">In gene, RefSeq............................................................</text>
<text transform="translate(41.2,628.90) scale(0.92,1)" style="font-family:'Liberation Sans',sans-serif;font-size:11.2px" fill="#111">intergenic width............................................................</text>
<text transform="translate(41.2,643.40) scale(0.92,1)" style="font-family:'Liberation Sans',sans-serif;font-size:11.2px" fill="#111">gene width............................................................</text>
<text transform="translate(41.2,658.60) scale(0.92,1)" style="font-family:'Liberation Sans',sans-serif;font-size:11.2px" fill="#111">distance to start............................................................</text>
<text transform="translate(41.2,673.30) scale(0.92,1)" style="font-family:'Liberation Sans',sans-serif;font-size:11.2px" fill="#111">distance to boundary............................................................</text>
<text transform="translate(41.2,688.20) scale(0.92,1)" style="font-family:'Liberation Sans',sans-serif;font-size:11.2px" fill="#111">&lt; 50kb from oncogene............................................................</text>
<text transform="translate(41.2,702.10) scale(0.92,1)" style="font-family:'Liberation Sans',sans-serif;font-size:11.2px" fill="#111">Density 1Mb............................................................</text>
<text transform="translate(41.2,716.60) scale(0.92,1)" style="font-family:'Liberation Sans',sans-serif;font-size:11.2px" fill="#111">Density 100kb............................................................</text>
<text transform="translate(41.2,731.10) scale(0.92,1)" style="font-family:'Liberation Sans',sans-serif;font-size:11.2px" fill="#111">Density 10kb............................................................</text>
<text transform="translate(41.2,746.20) scale(0.92,1)" style="font-family:'Liberation Sans',sans-serif;font-size:11.2px" fill="#111">&lt; 5kb............................................................</text>
<text transform="translate(41.2,760.40) scale(0.92,1)" style="font-family:'Liberation Sans',sans-serif;font-size:11.2px" fill="#111">&lt; 1kb............................................................</text>
<text transform="translate(41.2,774.50) scale(0.92,1)" style="font-family:'Liberation Sans',sans-serif;font-size:11.2px" fill="#111">RefSeq 1Mb............................................................</text>
<text transform="translate(41.2,788.40) scale(0.92,1)" style="font-family:'Liberation Sans',sans-serif;font-size:11.2px" fill="#111">RefSeq 100kb............................................................</text>
<text transform="translate(41.2,802.90) scale(0.92,1)" style="font-family:'Liberation Sans',sans-serif;font-size:11.2px" fill="#111">RefSeq 10kb............................................................</text>
<text transform="translate(41.2,817.60) scale(0.92,1)" style="font-family:'Liberation Sans',sans-serif;font-size:11.2px" fill="#111">top 1/16 expression 1Mb............................................................</text>
<text transform="translate(41.2,832.10) scale(0.92,1)" style="font-family:'Liberation Sans',sans-serif;font-size:11.2px" fill="#111">top 1/2 expression 1Mb............................................................</text>
<text transform="translate(41.2,846.60) scale(0.92,1)" style="font-family:'Liberation Sans',sans-serif;font-size:11.2px" fill="#111">gene density 1Mb............................................................</text>
<text transform="translate(41.2,861.20) scale(0.92,1)" style="font-family:'Liberation Sans',sans-serif;font-size:11.2px" fill="#111">top 1/16 expression 100kb............................................................</text>
<text transform="translate(41.2,875.70) scale(0.92,1)" style="font-family:'Liberation Sans',sans-serif;font-size:11.2px" fill="#111">top 1/2 expression 100kb............................................................</text>
<text transform="translate(41.2,889.90) scale(0.92,1)" style="font-family:'Liberation Sans',sans-serif;font-size:11.2px" fill="#111">gene density 100kb............................................................</text>
<text transform="translate(41.2,904.30) scale(0.92,1)" style="font-family:'Liberation Sans',sans-serif;font-size:11.2px" fill="#111">top 1/16 expression 50kb............................................................</text>
<text transform="translate(41.2,918.80) scale(0.92,1)" style="font-family:'Liberation Sans',sans-serif;font-size:11.2px" fill="#111">top 1/2 expression 50kb............................................................</text>
<text transform="translate(41.2,933.20) scale(0.92,1)" style="font-family:'Liberation Sans',sans-serif;font-size:11.2px" fill="#111">gene density 50kb............................................................</text>
<text transform="translate(41.2,945.80) scale(0.92,1)" style="font-family:'Liberation Sans',sans-serif;font-size:11.2px" fill="#111">top 1/16 expression 10kb............................................................</text>
<text transform="translate(41.2,960.30) scale(0.92,1)" style="font-family:'Liberation Sans',sans-serif;font-size:11.2px" fill="#111">top 1/2 expression 10kb............................................................</text>
<text transform="translate(41.2,974.50) scale(0.92,1)" style="font-family:'Liberation Sans',sans-serif;font-size:11.2px" fill="#111">gene density 10kb............................................................</text>
<text transform="translate(41.2,988.60) scale(0.92,1)" style="font-family:'Liberation Sans',sans-serif;font-size:11.2px" fill="#111">10Mb............................................................</text>
<text transform="translate(41.2,1003.40) scale(0.92,1)" style="font-family:'Liberation Sans',sans-serif;font-size:11.2px" fill="#111">5Mb............................................................</text>
<text transform="translate(41.2,1017.90) scale(0.92,1)" style="font-family:'Liberation Sans',sans-serif;font-size:11.2px" fill="#111">1Mb............................................................</text>
<text transform="translate(41.2,1034.10) scale(0.92,1)" style="font-family:'Liberation Sans',sans-serif;font-size:11.2px" fill="#111">500kb............................................................</text>
<text transform="translate(41.2,1048.60) scale(0.92,1)" style="font-family:'Liberation Sans',sans-serif;font-size:11.2px" fill="#111">100kb............................................................</text>
<text transform="translate(41.2,1063.70) scale(0.92,1)" style="font-family:'Liberation Sans',sans-serif;font-size:11.2px" fill="#111">50kb............................................................</text>
<text transform="translate(41.2,1078.60) scale(0.92,1)" style="font-family:'Liberation Sans',sans-serif;font-size:11.2px" fill="#111">10kb............................................................</text>
<text transform="translate(41.2,1093.30) scale(0.92,1)" style="font-family:'Liberation Sans',sans-serif;font-size:11.2px" fill="#111">5kb............................................................</text>
<text transform="translate(41.2,1104.20) scale(0.92,1)" style="font-family:'Liberation Sans',sans-serif;font-size:11.2px" fill="#111">2kb............................................................</text>
<text transform="translate(41.2,1117.90) scale(0.92,1)" style="font-family:'Liberation Sans',sans-serif;font-size:11.2px" fill="#111">1kb............................................................</text>
<text transform="translate(41.2,1131.00) scale(0.92,1)" style="font-family:'Liberation Sans',sans-serif;font-size:11.2px" fill="#111">500bp............................................................</text>
<text transform="translate(41.2,1143.60) scale(0.92,1)" style="font-family:'Liberation Sans',sans-serif;font-size:11.2px" fill="#111">250bp............................................................</text>
<text transform="translate(41.2,1158.40) scale(0.92,1)" style="font-family:'Liberation Sans',sans-serif;font-size:11.2px" fill="#111">100bp............................................................</text>
<text transform="translate(41.2,1173.80) scale(0.92,1)" style="font-family:'Liberation Sans',sans-serif;font-size:11.2px" fill="#111">50bp............................................................</text>
<text transform="translate(41.2,1188.70) scale(0.92,1)" style="font-family:'Liberation Sans',sans-serif;font-size:11.2px" fill="#111">20bp............................................................</text>
</g>
<rect x="33.2" y="606.1" width="1.2" height="71.9" fill="#555"/>
<rect x="33.2" y="695.3" width="1.2" height="65.8" fill="#555"/>
<rect x="33.2" y="766.8" width="1.2" height="37.8" fill="#555"/>
<rect x="33.2" y="809.1" width="1.2" height="166.7" fill="#555"/>
<rect x="33.2" y="981.2" width="1.2" height="210.5" fill="#555"/>
<text transform="translate(14.2,642.0) rotate(-90)" text-anchor="middle" textLength="26.0" lengthAdjust="spacingAndGlyphs" style="font-family:'Liberation Sans',sans-serif;font-size:10px;white-space:pre" fill="#222">Gene</text>
<text transform="translate(28.0,642.1) rotate(-90)" text-anchor="middle" textLength="55.6" lengthAdjust="spacingAndGlyphs" style="font-family:'Liberation Sans',sans-serif;font-size:10px;white-space:pre" fill="#222">boundaries</text>
<text transform="translate(14.3,730.1) rotate(-90)" text-anchor="middle" textLength="20.2" lengthAdjust="spacingAndGlyphs" style="font-family:'Liberation Sans',sans-serif;font-size:10px;white-space:pre" fill="#222">CpG</text>
<text transform="translate(28.1,729.3) rotate(-90)" text-anchor="middle" textLength="32.6" lengthAdjust="spacingAndGlyphs" style="font-family:'Liberation Sans',sans-serif;font-size:10px;white-space:pre" fill="#222">islands</text>
<text transform="translate(7.7,786.0) rotate(-90)" text-anchor="middle" textLength="24.5" lengthAdjust="spacingAndGlyphs" style="font-family:'Liberation Sans',sans-serif;font-size:9px;white-space:pre" fill="#222">Gene</text>
<text transform="translate(17.9,786.6) rotate(-90)" text-anchor="middle" textLength="36.8" lengthAdjust="spacingAndGlyphs" style="font-family:'Liberation Sans',sans-serif;font-size:9px;white-space:pre" fill="#222">density,</text>
<text transform="translate(27.7,787.5) rotate(-90)" text-anchor="middle" textLength="31.5" lengthAdjust="spacingAndGlyphs" style="font-family:'Liberation Sans',sans-serif;font-size:9px;white-space:pre" fill="#222">Refseq</text>
<text transform="translate(13.4,895.0) rotate(-90)" text-anchor="middle" textLength="100.6" lengthAdjust="spacingAndGlyphs" style="font-family:'Liberation Sans',sans-serif;font-size:10px;white-space:pre" fill="#222">Gene density and</text>
<text transform="translate(27.0,893.0) rotate(-90)" text-anchor="middle" textLength="114.5" lengthAdjust="spacingAndGlyphs" style="font-family:'Liberation Sans',sans-serif;font-size:10px;white-space:pre" fill="#222">Expression  intensity</text>
<text transform="translate(26.9,1084.3) rotate(-90)" text-anchor="middle" textLength="61.5" lengthAdjust="spacingAndGlyphs" style="font-family:'Liberation Sans',sans-serif;font-size:10px;white-space:pre" fill="#222">GC content</text>
<text transform="translate(74.2,1208.5) scale(0.95,1)" style="font-family:'Liberation Sans',sans-serif;font-size:10.2px" fill="#222">Decreased Integration</text>
<rect x="78" y="1217" width="90.2" height="1" fill="#222"/>
<path d="M74.9,1217.5 L80.2,1215.1 L78.8,1217.5 L80.2,1219.9 Z" fill="#1a1a1a"/>
<text transform="translate(335.2,1208.3) scale(0.96,1)" style="font-family:'Liberation Sans',sans-serif;font-size:10.2px" fill="#222">Increased Integration</text>
<rect x="335.2" y="1217" width="87" height="1" fill="#222"/>
<path d="M425.4,1217.5 L420.6,1215.1 L422,1217.5 L420.6,1219.9 Z" fill="#1a1a1a"/>
<rect x="76.75" y="1223.8" width="16.8" height="6.9" fill="#4c62bb"/>
<rect x="93.25" y="1223.8" width="16.8" height="6.9" fill="#586bbf"/>
<rect x="109.75" y="1223.8" width="16.8" height="6.9" fill="#6676c4"/>
<rect x="126.25" y="1223.8" width="16.8" height="6.9" fill="#7582ca"/>
<rect x="142.75" y="1223.8" width="16.8" height="6.9" fill="#848ed0"/>
<rect x="159.25" y="1223.8" width="16.8" height="6.9" fill="#939bd6"/>
<rect x="175.75" y="1223.8" width="16.8" height="6.9" fill="#a2a8dc"/>
<rect x="192.25" y="1223.8" width="16.8" height="6.9" fill="#b2b6e2"/>
<rect x="208.75" y="1223.8" width="16.8" height="6.9" fill="#c3c6e9"/>
<rect x="225.25" y="1223.8" width="16.8" height="6.9" fill="#d5d7ee"/>
<rect x="241.75" y="1223.8" width="16.8" height="6.9" fill="#e6e5e8"/>
<rect x="258.25" y="1223.8" width="16.8" height="6.9" fill="#f0d6dc"/>
<rect x="274.75" y="1223.8" width="16.8" height="6.9" fill="#f0c6d0"/>
<rect x="291.25" y="1223.8" width="16.8" height="6.9" fill="#eeb3c1"/>
<rect x="307.75" y="1223.8" width="16.8" height="6.9" fill="#eca1b3"/>
<rect x="324.25" y="1223.8" width="16.8" height="6.9" fill="#e98fa5"/>
<rect x="340.75" y="1223.8" width="16.8" height="6.9" fill="#e67f98"/>
<rect x="357.25" y="1223.8" width="16.8" height="6.9" fill="#e3708c"/>
<rect x="373.75" y="1223.8" width="16.8" height="6.9" fill="#e06180"/>
<rect x="390.25" y="1223.8" width="16.8" height="6.9" fill="#dc4f73"/>
<rect x="406.75" y="1223.8" width="16.8" height="6.9" fill="#d83a63"/>
<rect x="76.75" y="1230.4" width="346.5" height="0.9" fill="#444"/>
<rect x="84.5" y="1230.5" width="1" height="5" fill="#333"/>
<text x="82.8" y="1252.8" text-anchor="middle" style="font-family:'Liberation Sans',sans-serif;font-size:10.3px" fill="#222">0.0</text>
<rect x="150.5" y="1230.5" width="1" height="5" fill="#333"/>
<text x="148.8" y="1252.8" text-anchor="middle" style="font-family:'Liberation Sans',sans-serif;font-size:10.3px" fill="#222">0.2</text>
<rect x="216.5" y="1230.5" width="1" height="5" fill="#333"/>
<text x="214.8" y="1252.8" text-anchor="middle" style="font-family:'Liberation Sans',sans-serif;font-size:10.3px" fill="#222">0.4</text>
<rect x="282.5" y="1230.5" width="1" height="5" fill="#333"/>
<text x="280.8" y="1252.8" text-anchor="middle" style="font-family:'Liberation Sans',sans-serif;font-size:10.3px" fill="#222">0.6</text>
<rect x="348.5" y="1230.5" width="1" height="5" fill="#333"/>
<text x="346.8" y="1252.8" text-anchor="middle" style="font-family:'Liberation Sans',sans-serif;font-size:10.3px" fill="#222">0.8</text>
<rect x="414.5" y="1230.5" width="1" height="5" fill="#333"/>
<text x="412.8" y="1252.8" text-anchor="middle" style="font-family:'Liberation Sans',sans-serif;font-size:10.3px" fill="#222">1.0</text>
<text transform="translate(230.4,1275.3) scale(0.945,1)" style="font-family:'Liberation Sans',sans-serif;font-size:10.3px" fill="#222">Area of ROC curve</text></svg>
</body></html>
